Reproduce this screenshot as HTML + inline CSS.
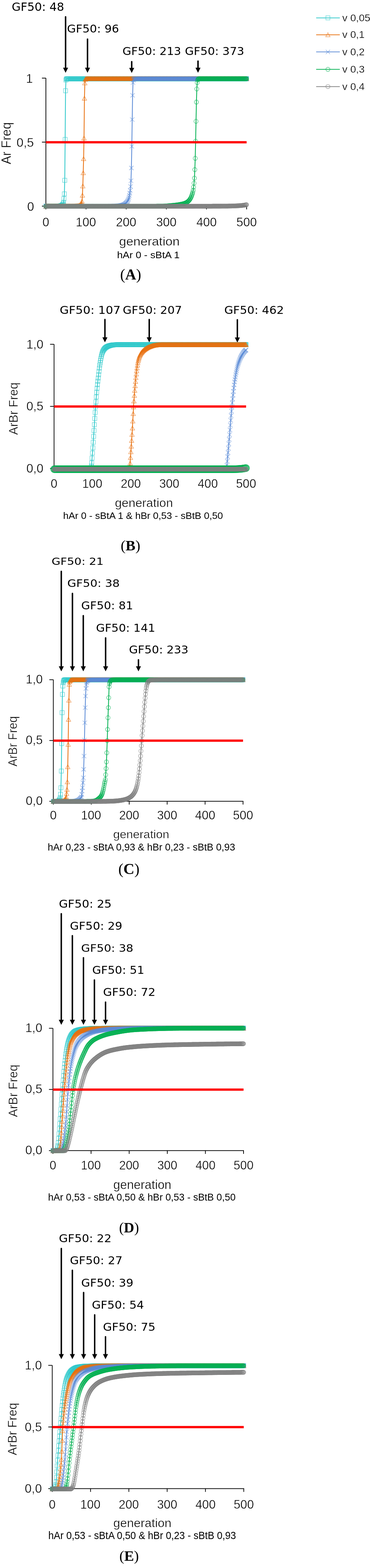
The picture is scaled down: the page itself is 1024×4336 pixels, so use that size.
<!DOCTYPE html>
<html><head><meta charset="utf-8"><title>GF50 figure</title><style>html,body{margin:0;padding:0;background:#fff;}svg{display:block;}</style></head><body>
<svg width="1024" height="4336" viewBox="0 0 1024 4336">
<defs>
<marker id="mSq" markerUnits="userSpaceOnUse" markerWidth="20" markerHeight="20" refX="10" refY="10" overflow="visible"><rect x="4.3" y="4.3" width="11.4" height="11.4" fill="none" stroke="#2dc8ca" stroke-width="1.6" stroke-opacity="0.62"/></marker>
<marker id="mTri" markerUnits="userSpaceOnUse" markerWidth="20" markerHeight="20" refX="10" refY="10" overflow="visible"><polygon points="10,4.2 16.1,15.4 3.9000000000000004,15.4" fill="none" stroke="#e8700f" stroke-width="1.6" stroke-opacity="0.62"/></marker>
<marker id="mX" markerUnits="userSpaceOnUse" markerWidth="20" markerHeight="20" refX="10" refY="10" overflow="visible"><path d="M4.1000000000000005,4.1000000000000005 L15.9,15.9 M15.9,4.1000000000000005 L4.1000000000000005,15.9" fill="none" stroke="#5a8ad6" stroke-width="1.6" stroke-opacity="0.62"/></marker>
<marker id="mCir" markerUnits="userSpaceOnUse" markerWidth="20" markerHeight="20" refX="10" refY="10" overflow="visible"><circle cx="10" cy="10" r="5.7" fill="none" stroke="#00b050" stroke-width="1.6" stroke-opacity="0.62"/></marker>
<marker id="mCirB" markerUnits="userSpaceOnUse" markerWidth="30" markerHeight="30" refX="15" refY="15" overflow="visible"><circle cx="15" cy="15" r="9.6" fill="none" stroke="#00b050" stroke-width="1.6" stroke-opacity="0.62"/></marker>
<marker id="mCirG" markerUnits="userSpaceOnUse" markerWidth="20" markerHeight="20" refX="10" refY="10" overflow="visible"><circle cx="10" cy="10" r="5.7" fill="none" stroke="#808080" stroke-width="1.6" stroke-opacity="0.62"/></marker>
</defs>
<rect width="1024" height="4336" fill="#fff"/>
<polyline points="875,49.4 907.5,49.4 940.5,49.4" fill="none" stroke="#2dc8ca" stroke-width="2" marker-mid="url(#mSq)"/>
<text x="947.26" y="58.60" font-family="'Liberation Sans', Arial, sans-serif" font-size="28.5" fill="#000" stroke="#fff" stroke-width="0.35">v 0,05</text>
<polyline points="875,96.2 907.5,96.2 940.5,96.2" fill="none" stroke="#e8700f" stroke-width="2" marker-mid="url(#mTri)"/>
<text x="947.26" y="105.40" font-family="'Liberation Sans', Arial, sans-serif" font-size="28.5" fill="#000" stroke="#fff" stroke-width="0.35">v 0,1</text>
<polyline points="875,143.6 907.5,143.6 940.5,143.6" fill="none" stroke="#5a8ad6" stroke-width="2" marker-mid="url(#mX)"/>
<text x="947.26" y="152.80" font-family="'Liberation Sans', Arial, sans-serif" font-size="28.5" fill="#000" stroke="#fff" stroke-width="0.35">v 0,2</text>
<polyline points="875,191.8 907.5,191.8 940.5,191.8" fill="none" stroke="#00b050" stroke-width="2" marker-mid="url(#mCir)"/>
<text x="947.26" y="201.00" font-family="'Liberation Sans', Arial, sans-serif" font-size="28.5" fill="#000" stroke="#fff" stroke-width="0.35">v 0,3</text>
<polyline points="875,239.4 907.5,239.4 940.5,239.4" fill="none" stroke="#808080" stroke-width="2" marker-mid="url(#mCirG)"/>
<text x="947.26" y="248.60" font-family="'Liberation Sans', Arial, sans-serif" font-size="28.5" fill="#000" stroke="#fff" stroke-width="0.35">v 0,4</text>
<line x1="127.00" y1="216.00" x2="127.00" y2="570.00" stroke="#000" stroke-width="2"/>
<line x1="116.00" y1="570.00" x2="127.00" y2="570.00" stroke="#000" stroke-width="2"/>
<line x1="116.00" y1="393.00" x2="127.00" y2="393.00" stroke="#000" stroke-width="2"/>
<line x1="116.00" y1="216.00" x2="127.00" y2="216.00" stroke="#000" stroke-width="2"/>
<line x1="126.00" y1="570.00" x2="683.50" y2="570.00" stroke="#000" stroke-width="2"/>
<line x1="127.00" y1="570.00" x2="127.00" y2="579.00" stroke="#000" stroke-width="2"/>
<line x1="238.10" y1="570.00" x2="238.10" y2="579.00" stroke="#000" stroke-width="2"/>
<line x1="349.20" y1="570.00" x2="349.20" y2="579.00" stroke="#000" stroke-width="2"/>
<line x1="460.30" y1="570.00" x2="460.30" y2="579.00" stroke="#000" stroke-width="2"/>
<line x1="571.40" y1="570.00" x2="571.40" y2="579.00" stroke="#000" stroke-width="2"/>
<line x1="682.50" y1="570.00" x2="682.50" y2="579.00" stroke="#000" stroke-width="2"/>
<text x="75.36" y="582.81" font-family="'Liberation Sans', Arial, sans-serif" font-size="35.94" textLength="19.19" lengthAdjust="spacingAndGlyphs" fill="#000" stroke="#fff" stroke-width="0.6">0</text>
<text x="45.75" y="405.81" font-family="'Liberation Sans', Arial, sans-serif" font-size="35.94" textLength="47.97" lengthAdjust="spacingAndGlyphs" fill="#000" stroke="#fff" stroke-width="0.6">0,5</text>
<text x="71.70" y="228.81" font-family="'Liberation Sans', Arial, sans-serif" font-size="35.94" textLength="19.19" lengthAdjust="spacingAndGlyphs" fill="#000" stroke="#fff" stroke-width="0.6">1</text>
<text x="117.62" y="626.26" font-family="'Liberation Sans', Arial, sans-serif" font-size="35.94" textLength="18.79" lengthAdjust="spacingAndGlyphs" fill="#000" stroke="#fff" stroke-width="0.6">0</text>
<text x="209.38" y="626.26" font-family="'Liberation Sans', Arial, sans-serif" font-size="35.94" textLength="56.37" lengthAdjust="spacingAndGlyphs" fill="#000" stroke="#fff" stroke-width="0.6">100</text>
<text x="320.90" y="626.26" font-family="'Liberation Sans', Arial, sans-serif" font-size="35.94" textLength="56.37" lengthAdjust="spacingAndGlyphs" fill="#000" stroke="#fff" stroke-width="0.6">200</text>
<text x="432.17" y="626.26" font-family="'Liberation Sans', Arial, sans-serif" font-size="35.94" textLength="56.37" lengthAdjust="spacingAndGlyphs" fill="#000" stroke="#fff" stroke-width="0.6">300</text>
<text x="543.53" y="626.26" font-family="'Liberation Sans', Arial, sans-serif" font-size="35.94" textLength="56.37" lengthAdjust="spacingAndGlyphs" fill="#000" stroke="#fff" stroke-width="0.6">400</text>
<text x="654.37" y="626.26" font-family="'Liberation Sans', Arial, sans-serif" font-size="35.94" textLength="56.37" lengthAdjust="spacingAndGlyphs" fill="#000" stroke="#fff" stroke-width="0.6">500</text>
<text transform="translate(30.26,454.20) rotate(-90)" x="0" y="0" font-family="'Liberation Sans', Arial, sans-serif" font-size="36.66" textLength="116.27" lengthAdjust="spacingAndGlyphs" fill="#000" stroke="#fff" stroke-width="0.6">Ar Freq</text>
<text x="329.45" y="678.76" font-family="'Liberation Sans', Arial, sans-serif" font-size="33.70" textLength="167.94" lengthAdjust="spacingAndGlyphs" fill="#000" stroke="#fff" stroke-width="0.6">generation</text>
<text x="324.04" y="713.70" font-family="'Liberation Sans', Arial, sans-serif" font-size="26.21" textLength="172.95" lengthAdjust="spacingAndGlyphs" fill="#000">hAr 0 - sBtA 1</text>
<text x="332.43" y="773.20" font-family="'Liberation Serif', 'Times New Roman', serif" font-size="41.97" fill="#000"><tspan font-weight="normal">(</tspan><tspan font-weight="bold">A</tspan><tspan font-weight="normal">)</tspan></text>
<text x="32.45" y="29.60" font-family="'DejaVu Sans', 'Liberation Sans', sans-serif" font-size="31.22" textLength="145.02" lengthAdjust="spacingAndGlyphs" fill="#000">GF50: 48</text>
<text x="185.46" y="90.00" font-family="'DejaVu Sans', 'Liberation Sans', sans-serif" font-size="30.54" textLength="143.94" lengthAdjust="spacingAndGlyphs" fill="#000">GF50: 96</text>
<text x="338.98" y="151.70" font-family="'DejaVu Sans', 'Liberation Sans', sans-serif" font-size="29.59" textLength="162.26" lengthAdjust="spacingAndGlyphs" fill="#000">GF50: 213</text>
<text x="511.76" y="151.70" font-family="'DejaVu Sans', 'Liberation Sans', sans-serif" font-size="29.59" textLength="164.21" lengthAdjust="spacingAndGlyphs" fill="#000">GF50: 373</text>
<line x1="181.50" y1="46.50" x2="181.50" y2="188.30" stroke="#000" stroke-width="4.0" stroke-linecap="round"/>
<polygon points="174.50,187.30 188.50,187.30 181.50,201.30" fill="#000"/>
<line x1="242.20" y1="108.20" x2="242.20" y2="188.30" stroke="#000" stroke-width="4.0" stroke-linecap="round"/>
<polygon points="235.20,187.30 249.20,187.30 242.20,201.30" fill="#000"/>
<line x1="364.50" y1="170.50" x2="364.50" y2="188.80" stroke="#000" stroke-width="4.0" stroke-linecap="round"/>
<polygon points="357.50,187.80 371.50,187.80 364.50,201.80" fill="#000"/>
<line x1="548.00" y1="169.00" x2="548.00" y2="188.30" stroke="#000" stroke-width="4.0" stroke-linecap="round"/>
<polygon points="541.00,187.30 555.00,187.30 548.00,201.30" fill="#000"/>
<polyline points="127.0,570.3 128.1,570.3 129.2,570.3 130.3,570.3 131.4,570.3 132.6,570.3 133.7,570.3 134.8,570.3 135.9,570.3 137.0,570.3 138.1,570.3 139.2,570.3 140.3,570.3 141.4,570.3 142.6,570.3 143.7,570.3 144.8,570.3 145.9,570.3 147.0,570.3 148.1,570.3 149.2,570.3 150.3,570.3 151.4,570.3 152.6,570.2 153.7,570.2 154.8,570.2 155.9,570.2 157.0,570.2 158.1,570.1 159.2,570.1 160.3,570.0 161.4,569.9 162.6,569.9 163.7,569.7 164.8,569.6 165.9,569.4 167.0,569.2 168.1,568.9 169.2,568.6 170.3,568.1 171.4,567.5 172.6,566.6 173.7,565.4 174.8,563.4 175.9,559.7 177.0,549.1 178.1,536.1 179.2,498.7 180.3,385.6 181.4,250.9 182.6,221.3 183.7,218.4 184.8,218.0 185.9,217.9 187.0,217.8 188.1,217.8 189.2,217.8 190.3,217.8 191.4,217.8 192.5,217.8 193.7,217.8 194.8,217.8 195.9,217.8 197.0,217.8 198.1,217.8 199.2,217.8 200.3,217.8 201.4,217.8 202.5,217.8 203.7,217.8 204.8,217.8 205.9,217.8 207.0,217.8 208.1,217.8 209.2,217.8 210.3,217.8 211.4,217.8 212.5,217.8 213.7,217.8 214.8,217.8 215.9,217.8 217.0,217.8 218.1,217.8 219.2,217.8 220.3,217.8 221.4,217.8 222.5,217.8 223.7,217.8 224.8,217.8 225.9,217.8 227.0,217.8 228.1,217.8 229.2,217.8 230.3,217.8 231.4,217.8 232.5,217.8 233.7,217.8 234.8,217.8 235.9,217.8 237.0,217.8 238.1,217.8 239.2,217.8 240.3,217.8 241.4,217.8 242.5,217.8 243.7,217.8 244.8,217.8 245.9,217.8 247.0,217.8 248.1,217.8 249.2,217.8 250.3,217.8 251.4,217.8 252.5,217.8 253.7,217.8 254.8,217.8 255.9,217.8 257.0,217.8 258.1,217.8 259.2,217.8 260.3,217.8 261.4,217.8 262.5,217.8 263.7,217.8 264.8,217.8 265.9,217.8 267.0,217.8 268.1,217.8 269.2,217.8 270.3,217.8 271.4,217.8 272.5,217.8 273.7,217.8 274.8,217.8 275.9,217.8 277.0,217.8 278.1,217.8 279.2,217.8 280.3,217.8 281.4,217.8 282.5,217.8 283.7,217.8 284.8,217.8 285.9,217.8 287.0,217.8 288.1,217.8 289.2,217.8 290.3,217.8 291.4,217.8 292.5,217.8 293.6,217.8 294.8,217.8 295.9,217.8 297.0,217.8 298.1,217.8 299.2,217.8 300.3,217.8 301.4,217.8 302.5,217.8 303.6,217.8 304.8,217.8 305.9,217.8 307.0,217.8 308.1,217.8 309.2,217.8 310.3,217.8 311.4,217.8 312.5,217.8 313.6,217.8 314.8,217.8 315.9,217.8 317.0,217.8 318.1,217.8 319.2,217.8 320.3,217.8 321.4,217.8 322.5,217.8 323.6,217.8 324.8,217.8 325.9,217.8 327.0,217.8 328.1,217.8 329.2,217.8 330.3,217.8 331.4,217.8 332.5,217.8 333.6,217.8 334.8,217.8 335.9,217.8 337.0,217.8 338.1,217.8 339.2,217.8 340.3,217.8 341.4,217.8 342.5,217.8 343.6,217.8 344.8,217.8 345.9,217.8 347.0,217.8 348.1,217.8 349.2,217.8 350.3,217.8 351.4,217.8 352.5,217.8 353.6,217.8 354.8,217.8 355.9,217.8 357.0,217.8 358.1,217.8 359.2,217.8 360.3,217.8 361.4,217.8 362.5,217.8 363.6,217.8 364.8,217.8 365.9,217.8 367.0,217.8 368.1,217.8 369.2,217.8 370.3,217.8 371.4,217.8 372.5,217.8 373.6,217.8 374.8,217.8 375.9,217.8 377.0,217.8 378.1,217.8 379.2,217.8 380.3,217.8 381.4,217.8 382.5,217.8 383.6,217.8 384.8,217.8 385.9,217.8 387.0,217.8 388.1,217.8 389.2,217.8 390.3,217.8 391.4,217.8 392.5,217.8 393.6,217.8 394.8,217.8 395.9,217.8 397.0,217.8 398.1,217.8 399.2,217.8 400.3,217.8 401.4,217.8 402.5,217.8 403.6,217.8 404.8,217.8 405.9,217.8 407.0,217.8 408.1,217.8 409.2,217.8 410.3,217.8 411.4,217.8 412.5,217.8 413.6,217.8 414.7,217.8 415.9,217.8 417.0,217.8 418.1,217.8 419.2,217.8 420.3,217.8 421.4,217.8 422.5,217.8 423.6,217.8 424.7,217.8 425.9,217.8 427.0,217.8 428.1,217.8 429.2,217.8 430.3,217.8 431.4,217.8 432.5,217.8 433.6,217.8 434.7,217.8 435.9,217.8 437.0,217.8 438.1,217.8 439.2,217.8 440.3,217.8 441.4,217.8 442.5,217.8 443.6,217.8 444.7,217.8 445.9,217.8 447.0,217.8 448.1,217.8 449.2,217.8 450.3,217.8 451.4,217.8 452.5,217.8 453.6,217.8 454.7,217.8 455.9,217.8 457.0,217.8 458.1,217.8 459.2,217.8 460.3,217.8 461.4,217.8 462.5,217.8 463.6,217.8 464.7,217.8 465.9,217.8 467.0,217.8 468.1,217.8 469.2,217.8 470.3,217.8 471.4,217.8 472.5,217.8 473.6,217.8 474.7,217.8 475.9,217.8 477.0,217.8 478.1,217.8 479.2,217.8 480.3,217.8 481.4,217.8 482.5,217.8 483.6,217.8 484.7,217.8 485.9,217.8 487.0,217.8 488.1,217.8 489.2,217.8 490.3,217.8 491.4,217.8 492.5,217.8 493.6,217.8 494.7,217.8 495.9,217.8 497.0,217.8 498.1,217.8 499.2,217.8 500.3,217.8 501.4,217.8 502.5,217.8 503.6,217.8 504.7,217.8 505.9,217.8 507.0,217.8 508.1,217.8 509.2,217.8 510.3,217.8 511.4,217.8 512.5,217.8 513.6,217.8 514.7,217.8 515.9,217.8 517.0,217.8 518.1,217.8 519.2,217.8 520.3,217.8 521.4,217.8 522.5,217.8 523.6,217.8 524.7,217.8 525.8,217.8 527.0,217.8 528.1,217.8 529.2,217.8 530.3,217.8 531.4,217.8 532.5,217.8 533.6,217.8 534.7,217.8 535.8,217.8 537.0,217.8 538.1,217.8 539.2,217.8 540.3,217.8 541.4,217.8 542.5,217.8 543.6,217.8 544.7,217.8 545.8,217.8 547.0,217.8 548.1,217.8 549.2,217.8 550.3,217.8 551.4,217.8 552.5,217.8 553.6,217.8 554.7,217.8 555.8,217.8 557.0,217.8 558.1,217.8 559.2,217.8 560.3,217.8 561.4,217.8 562.5,217.8 563.6,217.8 564.7,217.8 565.8,217.8 567.0,217.8 568.1,217.8 569.2,217.8 570.3,217.8 571.4,217.8 572.5,217.8 573.6,217.8 574.7,217.8 575.8,217.8 577.0,217.8 578.1,217.8 579.2,217.8 580.3,217.8 581.4,217.8 582.5,217.8 583.6,217.8 584.7,217.8 585.8,217.8 587.0,217.8 588.1,217.8 589.2,217.8 590.3,217.8 591.4,217.8 592.5,217.8 593.6,217.8 594.7,217.8 595.8,217.8 597.0,217.8 598.1,217.8 599.2,217.8 600.3,217.8 601.4,217.8 602.5,217.8 603.6,217.8 604.7,217.8 605.8,217.8 607.0,217.8 608.1,217.8 609.2,217.8 610.3,217.8 611.4,217.8 612.5,217.8 613.6,217.8 614.7,217.8 615.8,217.8 617.0,217.8 618.1,217.8 619.2,217.8 620.3,217.8 621.4,217.8 622.5,217.8 623.6,217.8 624.7,217.8 625.8,217.8 627.0,217.8 628.1,217.8 629.2,217.8 630.3,217.8 631.4,217.8 632.5,217.8 633.6,217.8 634.7,217.8 635.8,217.8 636.9,217.8 638.1,217.8 639.2,217.8 640.3,217.8 641.4,217.8 642.5,217.8 643.6,217.8 644.7,217.8 645.8,217.8 646.9,217.8 648.1,217.8 649.2,217.8 650.3,217.8 651.4,217.8 652.5,217.8 653.6,217.8 654.7,217.8 655.8,217.8 656.9,217.8 658.1,217.8 659.2,217.8 660.3,217.8 661.4,217.8 662.5,217.8 663.6,217.8 664.7,217.8 665.8,217.8 666.9,217.8 668.1,217.8 669.2,217.8 670.3,217.8 671.4,217.8 672.5,217.8 673.6,217.8 674.7,217.8 675.8,217.8 676.9,217.8 678.1,217.8 679.2,217.8 680.3,217.8 681.4,217.8 682.5,217.8" fill="none" stroke="#2dc8ca" stroke-width="2.2" stroke-linejoin="round" marker-start="url(#mSq)" marker-mid="url(#mSq)" marker-end="url(#mSq)"/>
<polyline points="127.0,570.3 128.1,570.3 129.2,570.3 130.3,570.3 131.4,570.3 132.6,570.3 133.7,570.3 134.8,570.3 135.9,570.3 137.0,570.3 138.1,570.3 139.2,570.3 140.3,570.3 141.4,570.3 142.6,570.3 143.7,570.3 144.8,570.3 145.9,570.3 147.0,570.3 148.1,570.3 149.2,570.3 150.3,570.3 151.4,570.3 152.6,570.3 153.7,570.3 154.8,570.3 155.9,570.3 157.0,570.3 158.1,570.3 159.2,570.3 160.3,570.3 161.4,570.3 162.6,570.3 163.7,570.3 164.8,570.3 165.9,570.3 167.0,570.3 168.1,570.3 169.2,570.3 170.3,570.3 171.4,570.3 172.6,570.3 173.7,570.3 174.8,570.3 175.9,570.3 177.0,570.3 178.1,570.3 179.2,570.3 180.3,570.3 181.4,570.3 182.6,570.3 183.7,570.3 184.8,570.3 185.9,570.3 187.0,570.3 188.1,570.3 189.2,570.3 190.3,570.3 191.4,570.3 192.5,570.3 193.7,570.2 194.8,570.2 195.9,570.2 197.0,570.2 198.1,570.2 199.2,570.2 200.3,570.2 201.4,570.2 202.5,570.1 203.7,570.1 204.8,570.1 205.9,570.0 207.0,570.0 208.1,570.0 209.2,569.9 210.3,569.8 211.4,569.8 212.5,569.7 213.7,569.6 214.8,569.5 215.9,569.3 217.0,569.1 218.1,568.9 219.2,568.6 220.3,568.1 221.4,567.6 222.5,566.8 223.7,565.7 224.8,564.1 225.9,561.4 227.0,556.2 228.1,540.0 229.2,514.3 230.3,477.9 231.4,438.9 232.5,381.7 233.7,271.7 234.8,229.4 235.9,219.6 237.0,218.3 238.1,218.0 239.2,217.9 240.3,217.9 241.4,217.8 242.5,217.8 243.7,217.8 244.8,217.8 245.9,217.8 247.0,217.8 248.1,217.8 249.2,217.8 250.3,217.8 251.4,217.8 252.5,217.8 253.7,217.8 254.8,217.8 255.9,217.8 257.0,217.8 258.1,217.8 259.2,217.8 260.3,217.8 261.4,217.8 262.5,217.8 263.7,217.8 264.8,217.8 265.9,217.8 267.0,217.8 268.1,217.8 269.2,217.8 270.3,217.8 271.4,217.8 272.5,217.8 273.7,217.8 274.8,217.8 275.9,217.8 277.0,217.8 278.1,217.8 279.2,217.8 280.3,217.8 281.4,217.8 282.5,217.8 283.7,217.8 284.8,217.8 285.9,217.8 287.0,217.8 288.1,217.8 289.2,217.8 290.3,217.8 291.4,217.8 292.5,217.8 293.6,217.8 294.8,217.8 295.9,217.8 297.0,217.8 298.1,217.8 299.2,217.8 300.3,217.8 301.4,217.8 302.5,217.8 303.6,217.8 304.8,217.8 305.9,217.8 307.0,217.8 308.1,217.8 309.2,217.8 310.3,217.8 311.4,217.8 312.5,217.8 313.6,217.8 314.8,217.8 315.9,217.8 317.0,217.8 318.1,217.8 319.2,217.8 320.3,217.8 321.4,217.8 322.5,217.8 323.6,217.8 324.8,217.8 325.9,217.8 327.0,217.8 328.1,217.8 329.2,217.8 330.3,217.8 331.4,217.8 332.5,217.8 333.6,217.8 334.8,217.8 335.9,217.8 337.0,217.8 338.1,217.8 339.2,217.8 340.3,217.8 341.4,217.8 342.5,217.8 343.6,217.8 344.8,217.8 345.9,217.8 347.0,217.8 348.1,217.8 349.2,217.8 350.3,217.8 351.4,217.8 352.5,217.8 353.6,217.8 354.8,217.8 355.9,217.8 357.0,217.8 358.1,217.8 359.2,217.8 360.3,217.8 361.4,217.8 362.5,217.8 363.6,217.8 364.8,217.8 365.9,217.8 367.0,217.8 368.1,217.8 369.2,217.8 370.3,217.8 371.4,217.8 372.5,217.8 373.6,217.8 374.8,217.8 375.9,217.8 377.0,217.8 378.1,217.8 379.2,217.8 380.3,217.8 381.4,217.8 382.5,217.8 383.6,217.8 384.8,217.8 385.9,217.8 387.0,217.8 388.1,217.8 389.2,217.8 390.3,217.8 391.4,217.8 392.5,217.8 393.6,217.8 394.8,217.8 395.9,217.8 397.0,217.8 398.1,217.8 399.2,217.8 400.3,217.8 401.4,217.8 402.5,217.8 403.6,217.8 404.8,217.8 405.9,217.8 407.0,217.8 408.1,217.8 409.2,217.8 410.3,217.8 411.4,217.8 412.5,217.8 413.6,217.8 414.7,217.8 415.9,217.8 417.0,217.8 418.1,217.8 419.2,217.8 420.3,217.8 421.4,217.8 422.5,217.8 423.6,217.8 424.7,217.8 425.9,217.8 427.0,217.8 428.1,217.8 429.2,217.8 430.3,217.8 431.4,217.8 432.5,217.8 433.6,217.8 434.7,217.8 435.9,217.8 437.0,217.8 438.1,217.8 439.2,217.8 440.3,217.8 441.4,217.8 442.5,217.8 443.6,217.8 444.7,217.8 445.9,217.8 447.0,217.8 448.1,217.8 449.2,217.8 450.3,217.8 451.4,217.8 452.5,217.8 453.6,217.8 454.7,217.8 455.9,217.8 457.0,217.8 458.1,217.8 459.2,217.8 460.3,217.8 461.4,217.8 462.5,217.8 463.6,217.8 464.7,217.8 465.9,217.8 467.0,217.8 468.1,217.8 469.2,217.8 470.3,217.8 471.4,217.8 472.5,217.8 473.6,217.8 474.7,217.8 475.9,217.8 477.0,217.8 478.1,217.8 479.2,217.8 480.3,217.8 481.4,217.8 482.5,217.8 483.6,217.8 484.7,217.8 485.9,217.8 487.0,217.8 488.1,217.8 489.2,217.8 490.3,217.8 491.4,217.8 492.5,217.8 493.6,217.8 494.7,217.8 495.9,217.8 497.0,217.8 498.1,217.8 499.2,217.8 500.3,217.8 501.4,217.8 502.5,217.8 503.6,217.8 504.7,217.8 505.9,217.8 507.0,217.8 508.1,217.8 509.2,217.8 510.3,217.8 511.4,217.8 512.5,217.8 513.6,217.8 514.7,217.8 515.9,217.8 517.0,217.8 518.1,217.8 519.2,217.8 520.3,217.8 521.4,217.8 522.5,217.8 523.6,217.8 524.7,217.8 525.8,217.8 527.0,217.8 528.1,217.8 529.2,217.8 530.3,217.8 531.4,217.8 532.5,217.8 533.6,217.8 534.7,217.8 535.8,217.8 537.0,217.8 538.1,217.8 539.2,217.8 540.3,217.8 541.4,217.8 542.5,217.8 543.6,217.8 544.7,217.8 545.8,217.8 547.0,217.8 548.1,217.8 549.2,217.8 550.3,217.8 551.4,217.8 552.5,217.8 553.6,217.8 554.7,217.8 555.8,217.8 557.0,217.8 558.1,217.8 559.2,217.8 560.3,217.8 561.4,217.8 562.5,217.8 563.6,217.8 564.7,217.8 565.8,217.8 567.0,217.8 568.1,217.8 569.2,217.8 570.3,217.8 571.4,217.8 572.5,217.8 573.6,217.8 574.7,217.8 575.8,217.8 577.0,217.8 578.1,217.8 579.2,217.8 580.3,217.8 581.4,217.8 582.5,217.8 583.6,217.8 584.7,217.8 585.8,217.8 587.0,217.8 588.1,217.8 589.2,217.8 590.3,217.8 591.4,217.8 592.5,217.8 593.6,217.8 594.7,217.8 595.8,217.8 597.0,217.8 598.1,217.8 599.2,217.8 600.3,217.8 601.4,217.8 602.5,217.8 603.6,217.8 604.7,217.8 605.8,217.8 607.0,217.8 608.1,217.8 609.2,217.8 610.3,217.8 611.4,217.8 612.5,217.8 613.6,217.8 614.7,217.8 615.8,217.8 617.0,217.8 618.1,217.8 619.2,217.8 620.3,217.8 621.4,217.8 622.5,217.8 623.6,217.8 624.7,217.8 625.8,217.8 627.0,217.8 628.1,217.8 629.2,217.8 630.3,217.8 631.4,217.8 632.5,217.8 633.6,217.8 634.7,217.8 635.8,217.8 636.9,217.8 638.1,217.8 639.2,217.8 640.3,217.8 641.4,217.8 642.5,217.8 643.6,217.8 644.7,217.8 645.8,217.8 646.9,217.8 648.1,217.8 649.2,217.8 650.3,217.8 651.4,217.8 652.5,217.8 653.6,217.8 654.7,217.8 655.8,217.8 656.9,217.8 658.1,217.8 659.2,217.8 660.3,217.8 661.4,217.8 662.5,217.8 663.6,217.8 664.7,217.8 665.8,217.8 666.9,217.8 668.1,217.8 669.2,217.8 670.3,217.8 671.4,217.8 672.5,217.8 673.6,217.8 674.7,217.8 675.8,217.8 676.9,217.8 678.1,217.8 679.2,217.8 680.3,217.8 681.4,217.8 682.5,217.8" fill="none" stroke="#e8700f" stroke-width="2.2" stroke-linejoin="round" marker-start="url(#mTri)" marker-mid="url(#mTri)" marker-end="url(#mTri)"/>
<polyline points="127.0,570.3 128.1,570.3 129.2,570.3 130.3,570.3 131.4,570.3 132.6,570.3 133.7,570.3 134.8,570.3 135.9,570.3 137.0,570.3 138.1,570.3 139.2,570.3 140.3,570.3 141.4,570.3 142.6,570.3 143.7,570.3 144.8,570.3 145.9,570.3 147.0,570.3 148.1,570.3 149.2,570.3 150.3,570.3 151.4,570.3 152.6,570.3 153.7,570.3 154.8,570.3 155.9,570.3 157.0,570.3 158.1,570.3 159.2,570.3 160.3,570.3 161.4,570.3 162.6,570.3 163.7,570.3 164.8,570.3 165.9,570.3 167.0,570.3 168.1,570.3 169.2,570.3 170.3,570.3 171.4,570.3 172.6,570.3 173.7,570.3 174.8,570.3 175.9,570.3 177.0,570.3 178.1,570.3 179.2,570.3 180.3,570.3 181.4,570.3 182.6,570.3 183.7,570.3 184.8,570.3 185.9,570.3 187.0,570.3 188.1,570.3 189.2,570.3 190.3,570.3 191.4,570.3 192.5,570.3 193.7,570.3 194.8,570.3 195.9,570.3 197.0,570.3 198.1,570.3 199.2,570.3 200.3,570.3 201.4,570.3 202.5,570.3 203.7,570.3 204.8,570.3 205.9,570.3 207.0,570.3 208.1,570.3 209.2,570.3 210.3,570.3 211.4,570.3 212.5,570.3 213.7,570.3 214.8,570.3 215.9,570.3 217.0,570.3 218.1,570.3 219.2,570.3 220.3,570.3 221.4,570.3 222.5,570.3 223.7,570.3 224.8,570.3 225.9,570.3 227.0,570.3 228.1,570.3 229.2,570.3 230.3,570.3 231.4,570.3 232.5,570.3 233.7,570.3 234.8,570.3 235.9,570.3 237.0,570.3 238.1,570.3 239.2,570.3 240.3,570.3 241.4,570.3 242.5,570.3 243.7,570.3 244.8,570.3 245.9,570.3 247.0,570.3 248.1,570.3 249.2,570.3 250.3,570.3 251.4,570.3 252.5,570.3 253.7,570.3 254.8,570.3 255.9,570.3 257.0,570.3 258.1,570.3 259.2,570.3 260.3,570.3 261.4,570.3 262.5,570.3 263.7,570.3 264.8,570.3 265.9,570.3 267.0,570.3 268.1,570.3 269.2,570.3 270.3,570.3 271.4,570.3 272.5,570.3 273.7,570.3 274.8,570.3 275.9,570.2 277.0,570.2 278.1,570.2 279.2,570.2 280.3,570.2 281.4,570.2 282.5,570.2 283.7,570.2 284.8,570.2 285.9,570.2 287.0,570.2 288.1,570.2 289.2,570.2 290.3,570.2 291.4,570.2 292.5,570.2 293.6,570.2 294.8,570.2 295.9,570.1 297.0,570.1 298.1,570.1 299.2,570.1 300.3,570.1 301.4,570.1 302.5,570.1 303.6,570.1 304.8,570.0 305.9,570.0 307.0,570.0 308.1,570.0 309.2,570.0 310.3,569.9 311.4,569.9 312.5,569.9 313.6,569.9 314.8,569.8 315.9,569.8 317.0,569.8 318.1,569.7 319.2,569.7 320.3,569.6 321.4,569.6 322.5,569.5 323.6,569.5 324.8,569.4 325.9,569.3 327.0,569.3 328.1,569.2 329.2,569.0 330.3,568.9 331.4,568.8 332.5,568.6 333.6,568.4 334.8,568.2 335.9,568.0 337.0,567.8 338.1,567.5 339.2,567.2 340.3,566.8 341.4,566.4 342.5,566.0 343.6,565.5 344.8,564.9 345.9,564.2 347.0,563.4 348.1,562.5 349.2,561.5 350.3,560.3 351.4,558.9 352.5,557.2 353.6,555.1 354.8,552.7 355.9,549.6 357.0,545.6 358.1,540.3 359.2,534.0 360.3,526.9 361.4,515.7 362.5,499.8 363.6,464.5 364.8,404.6 365.9,330.6 367.0,263.6 368.1,228.4 369.2,221.8 370.3,219.6 371.4,218.6 372.5,218.1 373.6,218.0 374.8,217.9 375.9,217.9 377.0,217.8 378.1,217.8 379.2,217.8 380.3,217.8 381.4,217.8 382.5,217.8 383.6,217.8 384.8,217.8 385.9,217.8 387.0,217.8 388.1,217.8 389.2,217.8 390.3,217.8 391.4,217.8 392.5,217.8 393.6,217.8 394.8,217.8 395.9,217.8 397.0,217.8 398.1,217.8 399.2,217.8 400.3,217.8 401.4,217.8 402.5,217.8 403.6,217.8 404.8,217.8 405.9,217.8 407.0,217.8 408.1,217.8 409.2,217.8 410.3,217.8 411.4,217.8 412.5,217.8 413.6,217.8 414.7,217.8 415.9,217.8 417.0,217.8 418.1,217.8 419.2,217.8 420.3,217.8 421.4,217.8 422.5,217.8 423.6,217.8 424.7,217.8 425.9,217.8 427.0,217.8 428.1,217.8 429.2,217.8 430.3,217.8 431.4,217.8 432.5,217.8 433.6,217.8 434.7,217.8 435.9,217.8 437.0,217.8 438.1,217.8 439.2,217.8 440.3,217.8 441.4,217.8 442.5,217.8 443.6,217.8 444.7,217.8 445.9,217.8 447.0,217.8 448.1,217.8 449.2,217.8 450.3,217.8 451.4,217.8 452.5,217.8 453.6,217.8 454.7,217.8 455.9,217.8 457.0,217.8 458.1,217.8 459.2,217.8 460.3,217.8 461.4,217.8 462.5,217.8 463.6,217.8 464.7,217.8 465.9,217.8 467.0,217.8 468.1,217.8 469.2,217.8 470.3,217.8 471.4,217.8 472.5,217.8 473.6,217.8 474.7,217.8 475.9,217.8 477.0,217.8 478.1,217.8 479.2,217.8 480.3,217.8 481.4,217.8 482.5,217.8 483.6,217.8 484.7,217.8 485.9,217.8 487.0,217.8 488.1,217.8 489.2,217.8 490.3,217.8 491.4,217.8 492.5,217.8 493.6,217.8 494.7,217.8 495.9,217.8 497.0,217.8 498.1,217.8 499.2,217.8 500.3,217.8 501.4,217.8 502.5,217.8 503.6,217.8 504.7,217.8 505.9,217.8 507.0,217.8 508.1,217.8 509.2,217.8 510.3,217.8 511.4,217.8 512.5,217.8 513.6,217.8 514.7,217.8 515.9,217.8 517.0,217.8 518.1,217.8 519.2,217.8 520.3,217.8 521.4,217.8 522.5,217.8 523.6,217.8 524.7,217.8 525.8,217.8 527.0,217.8 528.1,217.8 529.2,217.8 530.3,217.8 531.4,217.8 532.5,217.8 533.6,217.8 534.7,217.8 535.8,217.8 537.0,217.8 538.1,217.8 539.2,217.8 540.3,217.8 541.4,217.8 542.5,217.8 543.6,217.8 544.7,217.8 545.8,217.8 547.0,217.8 548.1,217.8 549.2,217.8 550.3,217.8 551.4,217.8 552.5,217.8 553.6,217.8 554.7,217.8 555.8,217.8 557.0,217.8 558.1,217.8 559.2,217.8 560.3,217.8 561.4,217.8 562.5,217.8 563.6,217.8 564.7,217.8 565.8,217.8 567.0,217.8 568.1,217.8 569.2,217.8 570.3,217.8 571.4,217.8 572.5,217.8 573.6,217.8 574.7,217.8 575.8,217.8 577.0,217.8 578.1,217.8 579.2,217.8 580.3,217.8 581.4,217.8 582.5,217.8 583.6,217.8 584.7,217.8 585.8,217.8 587.0,217.8 588.1,217.8 589.2,217.8 590.3,217.8 591.4,217.8 592.5,217.8 593.6,217.8 594.7,217.8 595.8,217.8 597.0,217.8 598.1,217.8 599.2,217.8 600.3,217.8 601.4,217.8 602.5,217.8 603.6,217.8 604.7,217.8 605.8,217.8 607.0,217.8 608.1,217.8 609.2,217.8 610.3,217.8 611.4,217.8 612.5,217.8 613.6,217.8 614.7,217.8 615.8,217.8 617.0,217.8 618.1,217.8 619.2,217.8 620.3,217.8 621.4,217.8 622.5,217.8 623.6,217.8 624.7,217.8 625.8,217.8 627.0,217.8 628.1,217.8 629.2,217.8 630.3,217.8 631.4,217.8 632.5,217.8 633.6,217.8 634.7,217.8 635.8,217.8 636.9,217.8 638.1,217.8 639.2,217.8 640.3,217.8 641.4,217.8 642.5,217.8 643.6,217.8 644.7,217.8 645.8,217.8 646.9,217.8 648.1,217.8 649.2,217.8 650.3,217.8 651.4,217.8 652.5,217.8 653.6,217.8 654.7,217.8 655.8,217.8 656.9,217.8 658.1,217.8 659.2,217.8 660.3,217.8 661.4,217.8 662.5,217.8 663.6,217.8 664.7,217.8 665.8,217.8 666.9,217.8 668.1,217.8 669.2,217.8 670.3,217.8 671.4,217.8 672.5,217.8 673.6,217.8 674.7,217.8 675.8,217.8 676.9,217.8 678.1,217.8 679.2,217.8 680.3,217.8 681.4,217.8 682.5,217.8" fill="none" stroke="#5a8ad6" stroke-width="2.2" stroke-linejoin="round" marker-start="url(#mX)" marker-mid="url(#mX)" marker-end="url(#mX)"/>
<polyline points="127.0,570.3 128.1,570.3 129.2,570.3 130.3,570.3 131.4,570.3 132.6,570.3 133.7,570.3 134.8,570.3 135.9,570.3 137.0,570.3 138.1,570.3 139.2,570.3 140.3,570.3 141.4,570.3 142.6,570.3 143.7,570.3 144.8,570.3 145.9,570.3 147.0,570.3 148.1,570.3 149.2,570.3 150.3,570.3 151.4,570.3 152.6,570.3 153.7,570.3 154.8,570.3 155.9,570.3 157.0,570.3 158.1,570.3 159.2,570.3 160.3,570.3 161.4,570.3 162.6,570.3 163.7,570.3 164.8,570.3 165.9,570.3 167.0,570.3 168.1,570.3 169.2,570.3 170.3,570.3 171.4,570.3 172.6,570.3 173.7,570.3 174.8,570.3 175.9,570.3 177.0,570.3 178.1,570.3 179.2,570.3 180.3,570.3 181.4,570.3 182.6,570.3 183.7,570.3 184.8,570.3 185.9,570.3 187.0,570.3 188.1,570.3 189.2,570.3 190.3,570.3 191.4,570.3 192.5,570.3 193.7,570.3 194.8,570.3 195.9,570.3 197.0,570.3 198.1,570.3 199.2,570.3 200.3,570.3 201.4,570.3 202.5,570.3 203.7,570.3 204.8,570.3 205.9,570.3 207.0,570.3 208.1,570.3 209.2,570.3 210.3,570.3 211.4,570.3 212.5,570.3 213.7,570.3 214.8,570.3 215.9,570.3 217.0,570.3 218.1,570.3 219.2,570.3 220.3,570.3 221.4,570.3 222.5,570.3 223.7,570.3 224.8,570.3 225.9,570.3 227.0,570.3 228.1,570.3 229.2,570.3 230.3,570.3 231.4,570.3 232.5,570.3 233.7,570.3 234.8,570.3 235.9,570.3 237.0,570.3 238.1,570.3 239.2,570.3 240.3,570.3 241.4,570.3 242.5,570.3 243.7,570.3 244.8,570.3 245.9,570.3 247.0,570.3 248.1,570.3 249.2,570.3 250.3,570.3 251.4,570.3 252.5,570.3 253.7,570.3 254.8,570.3 255.9,570.3 257.0,570.3 258.1,570.3 259.2,570.3 260.3,570.3 261.4,570.3 262.5,570.3 263.7,570.3 264.8,570.3 265.9,570.3 267.0,570.3 268.1,570.3 269.2,570.3 270.3,570.3 271.4,570.3 272.5,570.3 273.7,570.3 274.8,570.3 275.9,570.3 277.0,570.3 278.1,570.3 279.2,570.3 280.3,570.3 281.4,570.3 282.5,570.3 283.7,570.3 284.8,570.3 285.9,570.3 287.0,570.3 288.1,570.3 289.2,570.3 290.3,570.3 291.4,570.3 292.5,570.3 293.6,570.3 294.8,570.3 295.9,570.3 297.0,570.3 298.1,570.3 299.2,570.3 300.3,570.3 301.4,570.3 302.5,570.3 303.6,570.3 304.8,570.3 305.9,570.3 307.0,570.3 308.1,570.3 309.2,570.3 310.3,570.3 311.4,570.3 312.5,570.3 313.6,570.3 314.8,570.3 315.9,570.3 317.0,570.3 318.1,570.3 319.2,570.3 320.3,570.3 321.4,570.3 322.5,570.3 323.6,570.3 324.8,570.3 325.9,570.3 327.0,570.3 328.1,570.3 329.2,570.3 330.3,570.3 331.4,570.3 332.5,570.3 333.6,570.3 334.8,570.3 335.9,570.3 337.0,570.3 338.1,570.3 339.2,570.3 340.3,570.3 341.4,570.3 342.5,570.3 343.6,570.3 344.8,570.3 345.9,570.3 347.0,570.3 348.1,570.3 349.2,570.3 350.3,570.3 351.4,570.3 352.5,570.3 353.6,570.3 354.8,570.3 355.9,570.3 357.0,570.3 358.1,570.3 359.2,570.3 360.3,570.3 361.4,570.3 362.5,570.3 363.6,570.3 364.8,570.3 365.9,570.3 367.0,570.3 368.1,570.3 369.2,570.3 370.3,570.3 371.4,570.3 372.5,570.3 373.6,570.3 374.8,570.3 375.9,570.3 377.0,570.3 378.1,570.3 379.2,570.3 380.3,570.3 381.4,570.3 382.5,570.3 383.6,570.3 384.8,570.3 385.9,570.3 387.0,570.3 388.1,570.3 389.2,570.3 390.3,570.3 391.4,570.3 392.5,570.3 393.6,570.3 394.8,570.3 395.9,570.3 397.0,570.3 398.1,570.3 399.2,570.3 400.3,570.3 401.4,570.2 402.5,570.2 403.6,570.2 404.8,570.2 405.9,570.2 407.0,570.2 408.1,570.2 409.2,570.2 410.3,570.2 411.4,570.2 412.5,570.2 413.6,570.2 414.7,570.2 415.9,570.2 417.0,570.2 418.1,570.2 419.2,570.2 420.3,570.2 421.4,570.2 422.5,570.2 423.6,570.2 424.7,570.2 425.9,570.2 427.0,570.2 428.1,570.2 429.2,570.2 430.3,570.2 431.4,570.2 432.5,570.2 433.6,570.1 434.7,570.1 435.9,570.1 437.0,570.1 438.1,570.1 439.2,570.1 440.3,570.1 441.4,570.1 442.5,570.1 443.6,570.1 444.7,570.1 445.9,570.0 447.0,570.0 448.1,570.0 449.2,570.0 450.3,569.9 451.4,569.9 452.5,569.9 453.6,569.8 454.7,569.8 455.9,569.7 457.0,569.7 458.1,569.6 459.2,569.5 460.3,569.5 461.4,569.4 462.5,569.3 463.6,569.2 464.7,569.1 465.9,569.0 467.0,568.9 468.1,568.8 469.2,568.7 470.3,568.6 471.4,568.5 472.5,568.4 473.6,568.3 474.7,568.2 475.9,568.1 477.0,568.0 478.1,567.9 479.2,567.8 480.3,567.7 481.4,567.6 482.5,567.5 483.6,567.4 484.7,567.2 485.9,567.1 487.0,567.0 488.1,566.9 489.2,566.7 490.3,566.6 491.4,566.4 492.5,566.2 493.6,566.1 494.7,565.9 495.9,565.7 497.0,565.5 498.1,565.3 499.2,565.1 500.3,564.9 501.4,564.7 502.5,564.5 503.6,564.3 504.7,564.1 505.9,563.8 507.0,563.5 508.1,563.2 509.2,562.9 510.3,562.5 511.4,562.1 512.5,561.7 513.6,561.2 514.7,560.7 515.9,560.1 517.0,559.5 518.1,558.8 519.2,558.0 520.3,557.1 521.4,556.2 522.5,555.1 523.6,553.9 524.7,552.5 525.8,550.9 527.0,549.1 528.1,547.0 529.2,544.5 530.3,541.7 531.4,538.6 532.5,535.3 533.6,531.5 534.7,526.2 535.8,517.4 537.0,506.5 538.1,492.7 539.2,469.1 540.3,437.8 541.4,390.5 542.5,335.5 543.6,282.3 544.7,246.0 545.8,228.4 547.0,221.3 548.1,218.8 549.2,218.2 550.3,218.0 551.4,217.9 552.5,217.8 553.6,217.8 554.7,217.8 555.8,217.8 557.0,217.8 558.1,217.8 559.2,217.8 560.3,217.8 561.4,217.8 562.5,217.8 563.6,217.8 564.7,217.8 565.8,217.8 567.0,217.8 568.1,217.8 569.2,217.8 570.3,217.8 571.4,217.8 572.5,217.8 573.6,217.8 574.7,217.8 575.8,217.8 577.0,217.8 578.1,217.8 579.2,217.8 580.3,217.8 581.4,217.8 582.5,217.8 583.6,217.8 584.7,217.8 585.8,217.8 587.0,217.8 588.1,217.8 589.2,217.8 590.3,217.8 591.4,217.8 592.5,217.8 593.6,217.8 594.7,217.8 595.8,217.8 597.0,217.8 598.1,217.8 599.2,217.8 600.3,217.8 601.4,217.8 602.5,217.8 603.6,217.8 604.7,217.8 605.8,217.8 607.0,217.8 608.1,217.8 609.2,217.8 610.3,217.8 611.4,217.8 612.5,217.8 613.6,217.8 614.7,217.8 615.8,217.8 617.0,217.8 618.1,217.8 619.2,217.8 620.3,217.8 621.4,217.8 622.5,217.8 623.6,217.8 624.7,217.8 625.8,217.8 627.0,217.8 628.1,217.8 629.2,217.8 630.3,217.8 631.4,217.8 632.5,217.8 633.6,217.8 634.7,217.8 635.8,217.8 636.9,217.8 638.1,217.8 639.2,217.8 640.3,217.8 641.4,217.8 642.5,217.8 643.6,217.8 644.7,217.8 645.8,217.8 646.9,217.8 648.1,217.8 649.2,217.8 650.3,217.8 651.4,217.8 652.5,217.8 653.6,217.8 654.7,217.8 655.8,217.8 656.9,217.8 658.1,217.8 659.2,217.8 660.3,217.8 661.4,217.8 662.5,217.8 663.6,217.8 664.7,217.8 665.8,217.8 666.9,217.8 668.1,217.8 669.2,217.8 670.3,217.8 671.4,217.8 672.5,217.8 673.6,217.8 674.7,217.8 675.8,217.8 676.9,217.8 678.1,217.8 679.2,217.8 680.3,217.8 681.4,217.8 682.5,217.8" fill="none" stroke="#00b050" stroke-width="2.2" stroke-linejoin="round" marker-start="url(#mCir)" marker-mid="url(#mCir)" marker-end="url(#mCir)"/>
<polyline points="127.0,570.3 128.1,570.3 129.2,570.3 130.3,570.3 131.4,570.3 132.6,570.3 133.7,570.3 134.8,570.3 135.9,570.3 137.0,570.3 138.1,570.3 139.2,570.3 140.3,570.3 141.4,570.3 142.6,570.3 143.7,570.3 144.8,570.3 145.9,570.3 147.0,570.3 148.1,570.3 149.2,570.3 150.3,570.3 151.4,570.3 152.6,570.3 153.7,570.3 154.8,570.3 155.9,570.3 157.0,570.3 158.1,570.3 159.2,570.3 160.3,570.3 161.4,570.3 162.6,570.3 163.7,570.3 164.8,570.3 165.9,570.3 167.0,570.3 168.1,570.3 169.2,570.3 170.3,570.3 171.4,570.3 172.6,570.3 173.7,570.3 174.8,570.3 175.9,570.3 177.0,570.3 178.1,570.3 179.2,570.3 180.3,570.3 181.4,570.3 182.6,570.3 183.7,570.3 184.8,570.3 185.9,570.3 187.0,570.3 188.1,570.3 189.2,570.3 190.3,570.3 191.4,570.3 192.5,570.3 193.7,570.3 194.8,570.3 195.9,570.3 197.0,570.3 198.1,570.3 199.2,570.3 200.3,570.3 201.4,570.3 202.5,570.3 203.7,570.3 204.8,570.3 205.9,570.3 207.0,570.3 208.1,570.3 209.2,570.3 210.3,570.3 211.4,570.3 212.5,570.3 213.7,570.3 214.8,570.3 215.9,570.3 217.0,570.3 218.1,570.3 219.2,570.3 220.3,570.3 221.4,570.3 222.5,570.3 223.7,570.3 224.8,570.3 225.9,570.3 227.0,570.3 228.1,570.3 229.2,570.3 230.3,570.3 231.4,570.3 232.5,570.3 233.7,570.3 234.8,570.3 235.9,570.3 237.0,570.3 238.1,570.3 239.2,570.3 240.3,570.3 241.4,570.3 242.5,570.3 243.7,570.3 244.8,570.3 245.9,570.3 247.0,570.3 248.1,570.3 249.2,570.3 250.3,570.3 251.4,570.3 252.5,570.3 253.7,570.3 254.8,570.3 255.9,570.3 257.0,570.3 258.1,570.3 259.2,570.3 260.3,570.3 261.4,570.3 262.5,570.3 263.7,570.3 264.8,570.3 265.9,570.3 267.0,570.3 268.1,570.3 269.2,570.3 270.3,570.3 271.4,570.3 272.5,570.3 273.7,570.3 274.8,570.3 275.9,570.3 277.0,570.3 278.1,570.3 279.2,570.3 280.3,570.3 281.4,570.3 282.5,570.3 283.7,570.3 284.8,570.3 285.9,570.3 287.0,570.3 288.1,570.3 289.2,570.3 290.3,570.3 291.4,570.3 292.5,570.3 293.6,570.3 294.8,570.3 295.9,570.3 297.0,570.3 298.1,570.3 299.2,570.3 300.3,570.3 301.4,570.3 302.5,570.3 303.6,570.3 304.8,570.3 305.9,570.3 307.0,570.3 308.1,570.3 309.2,570.3 310.3,570.3 311.4,570.3 312.5,570.3 313.6,570.3 314.8,570.3 315.9,570.3 317.0,570.3 318.1,570.3 319.2,570.3 320.3,570.3 321.4,570.3 322.5,570.3 323.6,570.3 324.8,570.3 325.9,570.3 327.0,570.3 328.1,570.3 329.2,570.3 330.3,570.3 331.4,570.3 332.5,570.3 333.6,570.3 334.8,570.3 335.9,570.3 337.0,570.3 338.1,570.3 339.2,570.3 340.3,570.3 341.4,570.3 342.5,570.3 343.6,570.3 344.8,570.3 345.9,570.3 347.0,570.3 348.1,570.3 349.2,570.3 350.3,570.3 351.4,570.3 352.5,570.3 353.6,570.3 354.8,570.3 355.9,570.3 357.0,570.3 358.1,570.3 359.2,570.3 360.3,570.3 361.4,570.3 362.5,570.3 363.6,570.3 364.8,570.3 365.9,570.3 367.0,570.3 368.1,570.3 369.2,570.3 370.3,570.3 371.4,570.3 372.5,570.3 373.6,570.3 374.8,570.3 375.9,570.3 377.0,570.3 378.1,570.3 379.2,570.3 380.3,570.3 381.4,570.3 382.5,570.3 383.6,570.3 384.8,570.3 385.9,570.3 387.0,570.3 388.1,570.3 389.2,570.3 390.3,570.3 391.4,570.3 392.5,570.3 393.6,570.3 394.8,570.3 395.9,570.3 397.0,570.3 398.1,570.3 399.2,570.3 400.3,570.3 401.4,570.3 402.5,570.3 403.6,570.3 404.8,570.3 405.9,570.3 407.0,570.3 408.1,570.3 409.2,570.3 410.3,570.3 411.4,570.3 412.5,570.3 413.6,570.3 414.7,570.3 415.9,570.3 417.0,570.3 418.1,570.3 419.2,570.3 420.3,570.3 421.4,570.3 422.5,570.3 423.6,570.3 424.7,570.3 425.9,570.3 427.0,570.3 428.1,570.3 429.2,570.3 430.3,570.3 431.4,570.3 432.5,570.3 433.6,570.3 434.7,570.3 435.9,570.3 437.0,570.3 438.1,570.3 439.2,570.3 440.3,570.3 441.4,570.3 442.5,570.3 443.6,570.3 444.7,570.3 445.9,570.3 447.0,570.3 448.1,570.3 449.2,570.3 450.3,570.3 451.4,570.3 452.5,570.3 453.6,570.3 454.7,570.3 455.9,570.3 457.0,570.3 458.1,570.3 459.2,570.3 460.3,570.3 461.4,570.3 462.5,570.3 463.6,570.3 464.7,570.3 465.9,570.3 467.0,570.3 468.1,570.3 469.2,570.3 470.3,570.3 471.4,570.3 472.5,570.3 473.6,570.3 474.7,570.3 475.9,570.3 477.0,570.3 478.1,570.3 479.2,570.3 480.3,570.3 481.4,570.3 482.5,570.3 483.6,570.3 484.7,570.3 485.9,570.3 487.0,570.3 488.1,570.3 489.2,570.3 490.3,570.3 491.4,570.3 492.5,570.3 493.6,570.3 494.7,570.3 495.9,570.3 497.0,570.3 498.1,570.3 499.2,570.3 500.3,570.3 501.4,570.3 502.5,570.3 503.6,570.3 504.7,570.3 505.9,570.3 507.0,570.3 508.1,570.3 509.2,570.3 510.3,570.3 511.4,570.3 512.5,570.3 513.6,570.3 514.7,570.3 515.9,570.3 517.0,570.3 518.1,570.3 519.2,570.3 520.3,570.3 521.4,570.3 522.5,570.3 523.6,570.3 524.7,570.3 525.8,570.3 527.0,570.3 528.1,570.3 529.2,570.3 530.3,570.3 531.4,570.3 532.5,570.3 533.6,570.3 534.7,570.3 535.8,570.3 537.0,570.2 538.1,570.2 539.2,570.2 540.3,570.2 541.4,570.2 542.5,570.2 543.6,570.2 544.7,570.2 545.8,570.2 547.0,570.2 548.1,570.2 549.2,570.2 550.3,570.2 551.4,570.2 552.5,570.2 553.6,570.2 554.7,570.2 555.8,570.2 557.0,570.2 558.1,570.2 559.2,570.2 560.3,570.2 561.4,570.2 562.5,570.2 563.6,570.2 564.7,570.2 565.8,570.2 567.0,570.2 568.1,570.2 569.2,570.2 570.3,570.2 571.4,570.2 572.5,570.2 573.6,570.2 574.7,570.2 575.8,570.2 577.0,570.2 578.1,570.2 579.2,570.2 580.3,570.2 581.4,570.2 582.5,570.2 583.6,570.2 584.7,570.2 585.8,570.2 587.0,570.2 588.1,570.1 589.2,570.1 590.3,570.1 591.4,570.1 592.5,570.1 593.6,570.1 594.7,570.1 595.8,570.1 597.0,570.1 598.1,570.1 599.2,570.1 600.3,570.1 601.4,570.1 602.5,570.1 603.6,570.1 604.7,570.1 605.8,570.1 607.0,570.1 608.1,570.1 609.2,570.1 610.3,570.1 611.4,570.0 612.5,570.0 613.6,570.0 614.7,570.0 615.8,570.0 617.0,570.0 618.1,570.0 619.2,570.0 620.3,570.0 621.4,570.0 622.5,570.0 623.6,570.0 624.7,569.9 625.8,569.9 627.0,569.9 628.1,569.9 629.2,569.9 630.3,569.9 631.4,569.9 632.5,569.8 633.6,569.8 634.7,569.8 635.8,569.8 636.9,569.8 638.1,569.7 639.2,569.7 640.3,569.7 641.4,569.7 642.5,569.6 643.6,569.6 644.7,569.6 645.8,569.5 646.9,569.5 648.1,569.5 649.2,569.4 650.3,569.4 651.4,569.3 652.5,569.3 653.6,569.2 654.7,569.2 655.8,569.1 656.9,569.1 658.1,569.0 659.2,569.0 660.3,568.9 661.4,568.8 662.5,568.7 663.6,568.7 664.7,568.6 665.8,568.5 666.9,568.4 668.1,568.3 669.2,568.2 670.3,568.1 671.4,567.9 672.5,567.8 673.6,567.7 674.7,567.5 675.8,567.3 676.9,567.2 678.1,567.0 679.2,566.8 680.3,566.5 681.4,566.3 682.5,566.1" fill="none" stroke="#808080" stroke-width="2.2" stroke-linejoin="round" marker-start="url(#mCirG)" marker-mid="url(#mCirG)" marker-end="url(#mCirG)"/>
<line x1="127.00" y1="393.40" x2="682.50" y2="393.40" stroke="#ff0000" stroke-width="6.2"/>
<line x1="149.60" y1="952.00" x2="149.60" y2="1295.50" stroke="#000" stroke-width="2"/>
<line x1="138.60" y1="1295.50" x2="149.60" y2="1295.50" stroke="#000" stroke-width="2"/>
<line x1="138.60" y1="1123.75" x2="149.60" y2="1123.75" stroke="#000" stroke-width="2"/>
<line x1="138.60" y1="952.00" x2="149.60" y2="952.00" stroke="#000" stroke-width="2"/>
<line x1="148.60" y1="1295.50" x2="682.10" y2="1295.50" stroke="#000" stroke-width="2"/>
<line x1="149.60" y1="1295.50" x2="149.60" y2="1304.50" stroke="#000" stroke-width="2"/>
<line x1="255.90" y1="1295.50" x2="255.90" y2="1304.50" stroke="#000" stroke-width="2"/>
<line x1="362.20" y1="1295.50" x2="362.20" y2="1304.50" stroke="#000" stroke-width="2"/>
<line x1="468.50" y1="1295.50" x2="468.50" y2="1304.50" stroke="#000" stroke-width="2"/>
<line x1="574.80" y1="1295.50" x2="574.80" y2="1304.50" stroke="#000" stroke-width="2"/>
<line x1="681.10" y1="1295.50" x2="681.10" y2="1304.50" stroke="#000" stroke-width="2"/>
<text x="72.90" y="1307.16" font-family="'Liberation Sans', Arial, sans-serif" font-size="35.51" textLength="47.40" lengthAdjust="spacingAndGlyphs" fill="#000" stroke="#fff" stroke-width="0.6">0,0</text>
<text x="72.90" y="1135.41" font-family="'Liberation Sans', Arial, sans-serif" font-size="35.51" textLength="47.40" lengthAdjust="spacingAndGlyphs" fill="#000" stroke="#fff" stroke-width="0.6">0,5</text>
<text x="72.90" y="963.66" font-family="'Liberation Sans', Arial, sans-serif" font-size="35.51" textLength="47.40" lengthAdjust="spacingAndGlyphs" fill="#000" stroke="#fff" stroke-width="0.6">1,0</text>
<text x="140.34" y="1349.26" font-family="'Liberation Sans', Arial, sans-serif" font-size="35.51" textLength="18.57" lengthAdjust="spacingAndGlyphs" fill="#000" stroke="#fff" stroke-width="0.6">0</text>
<text x="227.52" y="1349.26" font-family="'Liberation Sans', Arial, sans-serif" font-size="35.51" textLength="55.70" lengthAdjust="spacingAndGlyphs" fill="#000" stroke="#fff" stroke-width="0.6">100</text>
<text x="334.24" y="1349.26" font-family="'Liberation Sans', Arial, sans-serif" font-size="35.51" textLength="55.70" lengthAdjust="spacingAndGlyphs" fill="#000" stroke="#fff" stroke-width="0.6">200</text>
<text x="440.71" y="1349.26" font-family="'Liberation Sans', Arial, sans-serif" font-size="35.51" textLength="55.70" lengthAdjust="spacingAndGlyphs" fill="#000" stroke="#fff" stroke-width="0.6">300</text>
<text x="547.26" y="1349.26" font-family="'Liberation Sans', Arial, sans-serif" font-size="35.51" textLength="55.70" lengthAdjust="spacingAndGlyphs" fill="#000" stroke="#fff" stroke-width="0.6">400</text>
<text x="653.31" y="1349.26" font-family="'Liberation Sans', Arial, sans-serif" font-size="35.51" textLength="55.70" lengthAdjust="spacingAndGlyphs" fill="#000" stroke="#fff" stroke-width="0.6">500</text>
<text transform="translate(48.66,1202.50) rotate(-90)" x="0" y="0" font-family="'Liberation Sans', Arial, sans-serif" font-size="35.79" textLength="144.98" lengthAdjust="spacingAndGlyphs" fill="#000" stroke="#fff" stroke-width="0.6">ArBr Freq</text>
<text x="317.91" y="1402.26" font-family="'Liberation Sans', Arial, sans-serif" font-size="33.51" textLength="160.67" lengthAdjust="spacingAndGlyphs" fill="#000" stroke="#fff" stroke-width="0.6">generation</text>
<text x="174.84" y="1435.20" font-family="'Liberation Sans', Arial, sans-serif" font-size="24.97" textLength="442.12" lengthAdjust="spacingAndGlyphs" fill="#000">hAr 0 - sBtA 1 &amp; hBr 0,53 -  sBtB 0,50</text>
<text x="333.94" y="1522.20" font-family="'Liberation Serif', 'Times New Roman', serif" font-size="40.76" fill="#000"><tspan font-weight="normal">(</tspan><tspan font-weight="bold">B</tspan><tspan font-weight="normal">)</tspan></text>
<text x="165.21" y="868.00" font-family="'DejaVu Sans', 'Liberation Sans', sans-serif" font-size="30.68" textLength="168.59" lengthAdjust="spacingAndGlyphs" fill="#000">GF50: 107</text>
<text x="339.76" y="868.00" font-family="'DejaVu Sans', 'Liberation Sans', sans-serif" font-size="30.68" textLength="163.97" lengthAdjust="spacingAndGlyphs" fill="#000">GF50: 207</text>
<text x="620.65" y="868.00" font-family="'DejaVu Sans', 'Liberation Sans', sans-serif" font-size="30.68" textLength="165.18" lengthAdjust="spacingAndGlyphs" fill="#000">GF50: 462</text>
<line x1="290.40" y1="883.50" x2="290.40" y2="933.80" stroke="#000" stroke-width="4.0" stroke-linecap="round"/>
<polygon points="283.40,932.80 297.40,932.80 290.40,946.80" fill="#000"/>
<line x1="413.00" y1="883.50" x2="413.00" y2="933.80" stroke="#000" stroke-width="4.0" stroke-linecap="round"/>
<polygon points="406.00,932.80 420.00,932.80 413.00,946.80" fill="#000"/>
<line x1="656.90" y1="884.30" x2="656.90" y2="934.30" stroke="#000" stroke-width="4.0" stroke-linecap="round"/>
<polygon points="649.90,933.30 663.90,933.30 656.90,947.30" fill="#000"/>
<polyline points="149.6,1297.5 150.7,1297.5 151.7,1297.5 152.8,1297.5 153.9,1297.5 154.9,1297.5 156.0,1297.5 157.0,1297.5 158.1,1297.5 159.2,1297.5 160.2,1297.5 161.3,1297.5 162.4,1297.5 163.4,1297.5 164.5,1297.5 165.5,1297.5 166.6,1297.5 167.7,1297.5 168.7,1297.5 169.8,1297.5 170.9,1297.5 171.9,1297.5 173.0,1297.5 174.0,1297.5 175.1,1297.5 176.2,1297.5 177.2,1297.5 178.3,1297.5 179.4,1297.5 180.4,1297.5 181.5,1297.5 182.6,1297.5 183.6,1297.5 184.7,1297.5 185.7,1297.5 186.8,1297.5 187.9,1297.5 188.9,1297.5 190.0,1297.5 191.1,1297.5 192.1,1297.5 193.2,1297.5 194.2,1297.5 195.3,1297.5 196.4,1297.5 197.4,1297.5 198.5,1297.5 199.6,1297.5 200.6,1297.5 201.7,1297.5 202.8,1297.5 203.8,1297.5 204.9,1297.5 205.9,1297.5 207.0,1297.5 208.1,1297.5 209.1,1297.5 210.2,1297.5 211.3,1297.5 212.3,1297.5 213.4,1297.5 214.4,1297.5 215.5,1297.5 216.6,1297.5 217.6,1297.5 218.7,1297.5 219.8,1297.5 220.8,1297.5 221.9,1297.5 222.9,1297.5 224.0,1297.5 225.1,1297.5 226.1,1297.5 227.2,1297.5 228.3,1297.5 229.3,1297.5 230.4,1297.5 231.5,1297.5 232.5,1297.5 233.6,1297.5 234.6,1297.5 235.7,1297.5 236.8,1297.5 237.8,1297.5 238.9,1297.5 240.0,1297.5 241.0,1297.5 242.1,1297.5 243.1,1297.5 244.2,1297.5 245.3,1297.5 246.3,1297.5 247.4,1297.5 248.5,1297.5 249.5,1297.5 250.6,1297.5 251.6,1294.7 252.7,1288.9 253.8,1279.8 254.8,1266.7 255.9,1252.7 257.0,1238.4 258.0,1222.9 259.1,1206.8 260.2,1190.7 261.2,1174.2 262.3,1157.2 263.3,1140.6 264.4,1125.2 265.5,1111.1 266.5,1097.6 267.6,1085.0 268.7,1073.6 269.7,1063.4 270.8,1054.2 271.8,1045.3 272.9,1036.2 274.0,1026.9 275.0,1017.9 276.1,1009.8 277.2,1002.8 278.2,996.5 279.3,990.9 280.3,985.7 281.4,981.0 282.5,977.0 283.5,974.0 284.6,971.5 285.7,969.4 286.7,967.6 287.8,966.1 288.9,964.7 289.9,963.5 291.0,962.4 292.0,961.5 293.1,960.6 294.2,959.9 295.2,959.3 296.3,958.7 297.4,958.1 298.4,957.6 299.5,957.2 300.5,956.8 301.6,956.4 302.7,956.1 303.7,955.8 304.8,955.5 305.9,955.2 306.9,954.9 308.0,954.7 309.0,954.5 310.1,954.3 311.2,954.1 312.2,953.9 313.3,953.8 314.4,953.7 315.4,953.6 316.5,953.5 317.6,953.5 318.6,953.4 319.7,953.3 320.7,953.3 321.8,953.2 322.9,953.2 323.9,953.1 325.0,953.1 326.1,953.1 327.1,953.0 328.2,953.0 329.2,953.0 330.3,953.0 331.4,953.0 332.4,953.0 333.5,953.0 334.6,953.0 335.6,953.0 336.7,953.0 337.8,953.0 338.8,953.0 339.9,953.0 340.9,953.0 342.0,953.0 343.1,953.0 344.1,953.0 345.2,953.0 346.3,953.0 347.3,953.0 348.4,953.0 349.4,953.0 350.5,953.0 351.6,953.0 352.6,953.0 353.7,953.0 354.8,953.0 355.8,953.0 356.9,953.0 357.9,953.0 359.0,953.0 360.1,953.0 361.1,953.0 362.2,953.0 363.3,953.0 364.3,953.0 365.4,953.0 366.5,953.0 367.5,953.0 368.6,953.0 369.6,953.0 370.7,953.0 371.8,953.0 372.8,953.0 373.9,953.0 375.0,953.0 376.0,953.0 377.1,953.0 378.1,953.0 379.2,953.0 380.3,953.0 381.3,953.0 382.4,953.0 383.5,953.0 384.5,953.0 385.6,953.0 386.6,953.0 387.7,953.0 388.8,953.0 389.8,953.0 390.9,953.0 392.0,953.0 393.0,953.0 394.1,953.0 395.2,953.0 396.2,953.0 397.3,953.0 398.3,953.0 399.4,953.0 400.5,953.0 401.5,953.0 402.6,953.0 403.7,953.0 404.7,953.0 405.8,953.0 406.8,953.0 407.9,953.0 409.0,953.0 410.0,953.0 411.1,953.0 412.2,953.0 413.2,953.0 414.3,953.0 415.4,953.0 416.4,953.0 417.5,953.0 418.5,953.0 419.6,953.0 420.7,953.0 421.7,953.0 422.8,953.0 423.9,953.0 424.9,953.0 426.0,953.0 427.0,953.0 428.1,953.0 429.2,953.0 430.2,953.0 431.3,953.0 432.4,953.0 433.4,953.0 434.5,953.0 435.5,953.0 436.6,953.0 437.7,953.0 438.7,953.0 439.8,953.0 440.9,953.0 441.9,953.0 443.0,953.0 444.1,953.0 445.1,953.0 446.2,953.0 447.2,953.0 448.3,953.0 449.4,953.0 450.4,953.0 451.5,953.0 452.6,953.0 453.6,953.0 454.7,953.0 455.7,953.0 456.8,953.0 457.9,953.0 458.9,953.0 460.0,953.0 461.1,953.0 462.1,953.0 463.2,953.0 464.2,953.0 465.3,953.0 466.4,953.0 467.4,953.0 468.5,953.0 469.6,953.0 470.6,953.0 471.7,953.0 472.8,953.0 473.8,953.0 474.9,953.0 475.9,953.0 477.0,953.0 478.1,953.0 479.1,953.0 480.2,953.0 481.3,953.0 482.3,953.0 483.4,953.0 484.4,953.0 485.5,953.0 486.6,953.0 487.6,953.0 488.7,953.0 489.8,953.0 490.8,953.0 491.9,953.0 492.9,953.0 494.0,953.0 495.1,953.0 496.1,953.0 497.2,953.0 498.3,953.0 499.3,953.0 500.4,953.0 501.5,953.0 502.5,953.0 503.6,953.0 504.6,953.0 505.7,953.0 506.8,953.0 507.8,953.0 508.9,953.0 510.0,953.0 511.0,953.0 512.1,953.0 513.1,953.0 514.2,953.0 515.3,953.0 516.3,953.0 517.4,953.0 518.5,953.0 519.5,953.0 520.6,953.0 521.6,953.0 522.7,953.0 523.8,953.0 524.8,953.0 525.9,953.0 527.0,953.0 528.0,953.0 529.1,953.0 530.2,953.0 531.2,953.0 532.3,953.0 533.3,953.0 534.4,953.0 535.5,953.0 536.5,953.0 537.6,953.0 538.7,953.0 539.7,953.0 540.8,953.0 541.8,953.0 542.9,953.0 544.0,953.0 545.0,953.0 546.1,953.0 547.2,953.0 548.2,953.0 549.3,953.0 550.4,953.0 551.4,953.0 552.5,953.0 553.5,953.0 554.6,953.0 555.7,953.0 556.7,953.0 557.8,953.0 558.9,953.0 559.9,953.0 561.0,953.0 562.0,953.0 563.1,953.0 564.2,953.0 565.2,953.0 566.3,953.0 567.4,953.0 568.4,953.0 569.5,953.0 570.5,953.0 571.6,953.0 572.7,953.0 573.7,953.0 574.8,953.0 575.9,953.0 576.9,953.0 578.0,953.0 579.1,953.0 580.1,953.0 581.2,953.0 582.2,953.0 583.3,953.0 584.4,953.0 585.4,953.0 586.5,953.0 587.6,953.0 588.6,953.0 589.7,953.0 590.7,953.0 591.8,953.0 592.9,953.0 593.9,953.0 595.0,953.0 596.1,953.0 597.1,953.0 598.2,953.0 599.2,953.0 600.3,953.0 601.4,953.0 602.4,953.0 603.5,953.0 604.6,953.0 605.6,953.0 606.7,953.0 607.8,953.0 608.8,953.0 609.9,953.0 610.9,953.0 612.0,953.0 613.1,953.0 614.1,953.0 615.2,953.0 616.3,953.0 617.3,953.0 618.4,953.0 619.4,953.0 620.5,953.0 621.6,953.0 622.6,953.0 623.7,953.0 624.8,953.0 625.8,953.0 626.9,953.0 627.9,953.0 629.0,953.0 630.1,953.0 631.1,953.0 632.2,953.0 633.3,953.0 634.3,953.0 635.4,953.0 636.5,953.0 637.5,953.0 638.6,953.0 639.6,953.0 640.7,953.0 641.8,953.0 642.8,953.0 643.9,953.0 645.0,953.0 646.0,953.0 647.1,953.0 648.1,953.0 649.2,953.0 650.3,953.0 651.3,953.0 652.4,953.0 653.5,953.0 654.5,953.0 655.6,953.0 656.7,953.0 657.7,953.0 658.8,953.0 659.8,953.0 660.9,953.0 662.0,953.0 663.0,953.0 664.1,953.0 665.2,953.0 666.2,953.0 667.3,953.0 668.3,953.0 669.4,953.0 670.5,953.0 671.5,953.0 672.6,953.0 673.7,953.0 674.7,953.0 675.8,953.0 676.8,953.0 677.9,953.0 679.0,953.0 680.0,953.0 681.1,953.0" fill="none" stroke="#2dc8ca" stroke-width="2.2" stroke-linejoin="round" marker-start="url(#mSq)" marker-mid="url(#mSq)" marker-end="url(#mSq)"/>
<polyline points="149.6,1297.5 150.7,1297.5 151.7,1297.5 152.8,1297.5 153.9,1297.5 154.9,1297.5 156.0,1297.5 157.0,1297.5 158.1,1297.5 159.2,1297.5 160.2,1297.5 161.3,1297.5 162.4,1297.5 163.4,1297.5 164.5,1297.5 165.5,1297.5 166.6,1297.5 167.7,1297.5 168.7,1297.5 169.8,1297.5 170.9,1297.5 171.9,1297.5 173.0,1297.5 174.0,1297.5 175.1,1297.5 176.2,1297.5 177.2,1297.5 178.3,1297.5 179.4,1297.5 180.4,1297.5 181.5,1297.5 182.6,1297.5 183.6,1297.5 184.7,1297.5 185.7,1297.5 186.8,1297.5 187.9,1297.5 188.9,1297.5 190.0,1297.5 191.1,1297.5 192.1,1297.5 193.2,1297.5 194.2,1297.5 195.3,1297.5 196.4,1297.5 197.4,1297.5 198.5,1297.5 199.6,1297.5 200.6,1297.5 201.7,1297.5 202.8,1297.5 203.8,1297.5 204.9,1297.5 205.9,1297.5 207.0,1297.5 208.1,1297.5 209.1,1297.5 210.2,1297.5 211.3,1297.5 212.3,1297.5 213.4,1297.5 214.4,1297.5 215.5,1297.5 216.6,1297.5 217.6,1297.5 218.7,1297.5 219.8,1297.5 220.8,1297.5 221.9,1297.5 222.9,1297.5 224.0,1297.5 225.1,1297.5 226.1,1297.5 227.2,1297.5 228.3,1297.5 229.3,1297.5 230.4,1297.5 231.5,1297.5 232.5,1297.5 233.6,1297.5 234.6,1297.5 235.7,1297.5 236.8,1297.5 237.8,1297.5 238.9,1297.5 240.0,1297.5 241.0,1297.5 242.1,1297.5 243.1,1297.5 244.2,1297.5 245.3,1297.5 246.3,1297.5 247.4,1297.5 248.5,1297.5 249.5,1297.5 250.6,1297.5 251.6,1297.5 252.7,1297.5 253.8,1297.5 254.8,1297.5 255.9,1297.5 257.0,1297.5 258.0,1297.5 259.1,1297.5 260.2,1297.5 261.2,1297.5 262.3,1297.5 263.3,1297.5 264.4,1297.5 265.5,1297.5 266.5,1297.5 267.6,1297.5 268.7,1297.5 269.7,1297.5 270.8,1297.5 271.8,1297.5 272.9,1297.5 274.0,1297.5 275.0,1297.5 276.1,1297.5 277.2,1297.5 278.2,1297.5 279.3,1297.5 280.3,1297.5 281.4,1297.5 282.5,1297.5 283.5,1297.5 284.6,1297.5 285.7,1297.5 286.7,1297.5 287.8,1297.5 288.9,1297.5 289.9,1297.5 291.0,1297.5 292.0,1297.5 293.1,1297.5 294.2,1297.5 295.2,1297.5 296.3,1297.5 297.4,1297.5 298.4,1297.5 299.5,1297.5 300.5,1297.5 301.6,1297.5 302.7,1297.5 303.7,1297.5 304.8,1297.5 305.9,1297.5 306.9,1297.5 308.0,1297.5 309.0,1297.5 310.1,1297.5 311.2,1297.5 312.2,1297.5 313.3,1297.5 314.4,1297.5 315.4,1297.5 316.5,1297.5 317.6,1297.5 318.6,1297.5 319.7,1297.5 320.7,1297.5 321.8,1297.5 322.9,1297.5 323.9,1297.5 325.0,1297.5 326.1,1297.5 327.1,1297.5 328.2,1297.5 329.2,1297.5 330.3,1297.5 331.4,1297.5 332.4,1297.5 333.5,1297.5 334.6,1297.5 335.6,1297.5 336.7,1297.5 337.8,1297.5 338.8,1297.5 339.9,1297.5 340.9,1297.5 342.0,1297.5 343.1,1297.5 344.1,1297.5 345.2,1297.5 346.3,1297.5 347.3,1297.5 348.4,1297.5 349.4,1297.5 350.5,1297.5 351.6,1297.5 352.6,1297.5 353.7,1297.5 354.8,1297.5 355.8,1297.5 356.9,1297.5 357.9,1295.4 359.0,1290.6 360.1,1280.8 361.1,1265.4 362.2,1249.3 363.3,1234.0 364.3,1218.0 365.4,1201.3 366.5,1183.8 367.5,1164.4 368.6,1143.9 369.6,1125.2 370.7,1108.9 371.8,1093.6 372.8,1079.5 373.9,1066.7 375.0,1055.0 376.0,1044.1 377.1,1034.2 378.1,1025.3 379.2,1017.2 380.3,1009.7 381.3,1003.1 382.4,997.8 383.5,993.5 384.5,989.7 385.6,986.4 386.6,983.6 387.7,981.2 388.8,979.3 389.8,977.5 390.9,975.9 392.0,974.5 393.0,973.2 394.1,972.0 395.2,970.9 396.2,969.9 397.3,968.9 398.3,967.9 399.4,967.0 400.5,966.2 401.5,965.4 402.6,964.7 403.7,964.0 404.7,963.3 405.8,962.7 406.8,962.1 407.9,961.5 409.0,960.9 410.0,960.4 411.1,959.9 412.2,959.4 413.2,959.0 414.3,958.6 415.4,958.2 416.4,957.8 417.5,957.4 418.5,957.1 419.6,956.7 420.7,956.4 421.7,956.1 422.8,955.8 423.9,955.5 424.9,955.3 426.0,955.1 427.0,954.9 428.1,954.7 429.2,954.6 430.2,954.4 431.3,954.3 432.4,954.1 433.4,954.0 434.5,953.9 435.5,953.8 436.6,953.6 437.7,953.5 438.7,953.4 439.8,953.3 440.9,953.2 441.9,953.2 443.0,953.1 444.1,953.1 445.1,953.0 446.2,953.0 447.2,953.0 448.3,953.0 449.4,953.0 450.4,953.0 451.5,953.0 452.6,953.0 453.6,953.0 454.7,953.0 455.7,953.0 456.8,953.0 457.9,953.0 458.9,953.0 460.0,953.0 461.1,953.0 462.1,953.0 463.2,953.0 464.2,953.0 465.3,953.0 466.4,953.0 467.4,953.0 468.5,953.0 469.6,953.0 470.6,953.0 471.7,953.0 472.8,953.0 473.8,953.0 474.9,953.0 475.9,953.0 477.0,953.0 478.1,953.0 479.1,953.0 480.2,953.0 481.3,953.0 482.3,953.0 483.4,953.0 484.4,953.0 485.5,953.0 486.6,953.0 487.6,953.0 488.7,953.0 489.8,953.0 490.8,953.0 491.9,953.0 492.9,953.0 494.0,953.0 495.1,953.0 496.1,953.0 497.2,953.0 498.3,953.0 499.3,953.0 500.4,953.0 501.5,953.0 502.5,953.0 503.6,953.0 504.6,953.0 505.7,953.0 506.8,953.0 507.8,953.0 508.9,953.0 510.0,953.0 511.0,953.0 512.1,953.0 513.1,953.0 514.2,953.0 515.3,953.0 516.3,953.0 517.4,953.0 518.5,953.0 519.5,953.0 520.6,953.0 521.6,953.0 522.7,953.0 523.8,953.0 524.8,953.0 525.9,953.0 527.0,953.0 528.0,953.0 529.1,953.0 530.2,953.0 531.2,953.0 532.3,953.0 533.3,953.0 534.4,953.0 535.5,953.0 536.5,953.0 537.6,953.0 538.7,953.0 539.7,953.0 540.8,953.0 541.8,953.0 542.9,953.0 544.0,953.0 545.0,953.0 546.1,953.0 547.2,953.0 548.2,953.0 549.3,953.0 550.4,953.0 551.4,953.0 552.5,953.0 553.5,953.0 554.6,953.0 555.7,953.0 556.7,953.0 557.8,953.0 558.9,953.0 559.9,953.0 561.0,953.0 562.0,953.0 563.1,953.0 564.2,953.0 565.2,953.0 566.3,953.0 567.4,953.0 568.4,953.0 569.5,953.0 570.5,953.0 571.6,953.0 572.7,953.0 573.7,953.0 574.8,953.0 575.9,953.0 576.9,953.0 578.0,953.0 579.1,953.0 580.1,953.0 581.2,953.0 582.2,953.0 583.3,953.0 584.4,953.0 585.4,953.0 586.5,953.0 587.6,953.0 588.6,953.0 589.7,953.0 590.7,953.0 591.8,953.0 592.9,953.0 593.9,953.0 595.0,953.0 596.1,953.0 597.1,953.0 598.2,953.0 599.2,953.0 600.3,953.0 601.4,953.0 602.4,953.0 603.5,953.0 604.6,953.0 605.6,953.0 606.7,953.0 607.8,953.0 608.8,953.0 609.9,953.0 610.9,953.0 612.0,953.0 613.1,953.0 614.1,953.0 615.2,953.0 616.3,953.0 617.3,953.0 618.4,953.0 619.4,953.0 620.5,953.0 621.6,953.0 622.6,953.0 623.7,953.0 624.8,953.0 625.8,953.0 626.9,953.0 627.9,953.0 629.0,953.0 630.1,953.0 631.1,953.0 632.2,953.0 633.3,953.0 634.3,953.0 635.4,953.0 636.5,953.0 637.5,953.0 638.6,953.0 639.6,953.0 640.7,953.0 641.8,953.0 642.8,953.0 643.9,953.0 645.0,953.0 646.0,953.0 647.1,953.0 648.1,953.0 649.2,953.0 650.3,953.0 651.3,953.0 652.4,953.0 653.5,953.0 654.5,953.0 655.6,953.0 656.7,953.0 657.7,953.0 658.8,953.0 659.8,953.0 660.9,953.0 662.0,953.0 663.0,953.0 664.1,953.0 665.2,953.0 666.2,953.0 667.3,953.0 668.3,953.0 669.4,953.0 670.5,953.0 671.5,953.0 672.6,953.0 673.7,953.0 674.7,953.0 675.8,953.0 676.8,953.0 677.9,953.0 679.0,953.0 680.0,953.0 681.1,953.0" fill="none" stroke="#e8700f" stroke-width="2.2" stroke-linejoin="round" marker-start="url(#mTri)" marker-mid="url(#mTri)" marker-end="url(#mTri)"/>
<polyline points="149.6,1297.5 150.7,1297.5 151.7,1297.5 152.8,1297.5 153.9,1297.5 154.9,1297.5 156.0,1297.5 157.0,1297.5 158.1,1297.5 159.2,1297.5 160.2,1297.5 161.3,1297.5 162.4,1297.5 163.4,1297.5 164.5,1297.5 165.5,1297.5 166.6,1297.5 167.7,1297.5 168.7,1297.5 169.8,1297.5 170.9,1297.5 171.9,1297.5 173.0,1297.5 174.0,1297.5 175.1,1297.5 176.2,1297.5 177.2,1297.5 178.3,1297.5 179.4,1297.5 180.4,1297.5 181.5,1297.5 182.6,1297.5 183.6,1297.5 184.7,1297.5 185.7,1297.5 186.8,1297.5 187.9,1297.5 188.9,1297.5 190.0,1297.5 191.1,1297.5 192.1,1297.5 193.2,1297.5 194.2,1297.5 195.3,1297.5 196.4,1297.5 197.4,1297.5 198.5,1297.5 199.6,1297.5 200.6,1297.5 201.7,1297.5 202.8,1297.5 203.8,1297.5 204.9,1297.5 205.9,1297.5 207.0,1297.5 208.1,1297.5 209.1,1297.5 210.2,1297.5 211.3,1297.5 212.3,1297.5 213.4,1297.5 214.4,1297.5 215.5,1297.5 216.6,1297.5 217.6,1297.5 218.7,1297.5 219.8,1297.5 220.8,1297.5 221.9,1297.5 222.9,1297.5 224.0,1297.5 225.1,1297.5 226.1,1297.5 227.2,1297.5 228.3,1297.5 229.3,1297.5 230.4,1297.5 231.5,1297.5 232.5,1297.5 233.6,1297.5 234.6,1297.5 235.7,1297.5 236.8,1297.5 237.8,1297.5 238.9,1297.5 240.0,1297.5 241.0,1297.5 242.1,1297.5 243.1,1297.5 244.2,1297.5 245.3,1297.5 246.3,1297.5 247.4,1297.5 248.5,1297.5 249.5,1297.5 250.6,1297.5 251.6,1297.5 252.7,1297.5 253.8,1297.5 254.8,1297.5 255.9,1297.5 257.0,1297.5 258.0,1297.5 259.1,1297.5 260.2,1297.5 261.2,1297.5 262.3,1297.5 263.3,1297.5 264.4,1297.5 265.5,1297.5 266.5,1297.5 267.6,1297.5 268.7,1297.5 269.7,1297.5 270.8,1297.5 271.8,1297.5 272.9,1297.5 274.0,1297.5 275.0,1297.5 276.1,1297.5 277.2,1297.5 278.2,1297.5 279.3,1297.5 280.3,1297.5 281.4,1297.5 282.5,1297.5 283.5,1297.5 284.6,1297.5 285.7,1297.5 286.7,1297.5 287.8,1297.5 288.9,1297.5 289.9,1297.5 291.0,1297.5 292.0,1297.5 293.1,1297.5 294.2,1297.5 295.2,1297.5 296.3,1297.5 297.4,1297.5 298.4,1297.5 299.5,1297.5 300.5,1297.5 301.6,1297.5 302.7,1297.5 303.7,1297.5 304.8,1297.5 305.9,1297.5 306.9,1297.5 308.0,1297.5 309.0,1297.5 310.1,1297.5 311.2,1297.5 312.2,1297.5 313.3,1297.5 314.4,1297.5 315.4,1297.5 316.5,1297.5 317.6,1297.5 318.6,1297.5 319.7,1297.5 320.7,1297.5 321.8,1297.5 322.9,1297.5 323.9,1297.5 325.0,1297.5 326.1,1297.5 327.1,1297.5 328.2,1297.5 329.2,1297.5 330.3,1297.5 331.4,1297.5 332.4,1297.5 333.5,1297.5 334.6,1297.5 335.6,1297.5 336.7,1297.5 337.8,1297.5 338.8,1297.5 339.9,1297.5 340.9,1297.5 342.0,1297.5 343.1,1297.5 344.1,1297.5 345.2,1297.5 346.3,1297.5 347.3,1297.5 348.4,1297.5 349.4,1297.5 350.5,1297.5 351.6,1297.5 352.6,1297.5 353.7,1297.5 354.8,1297.5 355.8,1297.5 356.9,1297.5 357.9,1297.5 359.0,1297.5 360.1,1297.5 361.1,1297.5 362.2,1297.5 363.3,1297.5 364.3,1297.5 365.4,1297.5 366.5,1297.5 367.5,1297.5 368.6,1297.5 369.6,1297.5 370.7,1297.5 371.8,1297.5 372.8,1297.5 373.9,1297.5 375.0,1297.5 376.0,1297.5 377.1,1297.5 378.1,1297.5 379.2,1297.5 380.3,1297.5 381.3,1297.5 382.4,1297.5 383.5,1297.5 384.5,1297.5 385.6,1297.5 386.6,1297.5 387.7,1297.5 388.8,1297.5 389.8,1297.5 390.9,1297.5 392.0,1297.5 393.0,1297.5 394.1,1297.5 395.2,1297.5 396.2,1297.5 397.3,1297.5 398.3,1297.5 399.4,1297.5 400.5,1297.5 401.5,1297.5 402.6,1297.5 403.7,1297.5 404.7,1297.5 405.8,1297.5 406.8,1297.5 407.9,1297.5 409.0,1297.5 410.0,1297.5 411.1,1297.5 412.2,1297.5 413.2,1297.5 414.3,1297.5 415.4,1297.5 416.4,1297.5 417.5,1297.5 418.5,1297.5 419.6,1297.5 420.7,1297.5 421.7,1297.5 422.8,1297.5 423.9,1297.5 424.9,1297.5 426.0,1297.5 427.0,1297.5 428.1,1297.5 429.2,1297.5 430.2,1297.5 431.3,1297.5 432.4,1297.5 433.4,1297.5 434.5,1297.5 435.5,1297.5 436.6,1297.5 437.7,1297.5 438.7,1297.5 439.8,1297.5 440.9,1297.5 441.9,1297.5 443.0,1297.5 444.1,1297.5 445.1,1297.5 446.2,1297.5 447.2,1297.5 448.3,1297.5 449.4,1297.5 450.4,1297.5 451.5,1297.5 452.6,1297.5 453.6,1297.5 454.7,1297.5 455.7,1297.5 456.8,1297.5 457.9,1297.5 458.9,1297.5 460.0,1297.5 461.1,1297.5 462.1,1297.5 463.2,1297.5 464.2,1297.5 465.3,1297.5 466.4,1297.5 467.4,1297.5 468.5,1297.5 469.6,1297.5 470.6,1297.5 471.7,1297.5 472.8,1297.5 473.8,1297.5 474.9,1297.5 475.9,1297.5 477.0,1297.5 478.1,1297.5 479.1,1297.5 480.2,1297.5 481.3,1297.5 482.3,1297.5 483.4,1297.5 484.4,1297.5 485.5,1297.5 486.6,1297.5 487.6,1297.5 488.7,1297.5 489.8,1297.5 490.8,1297.5 491.9,1297.5 492.9,1297.5 494.0,1297.5 495.1,1297.5 496.1,1297.5 497.2,1297.5 498.3,1297.5 499.3,1297.5 500.4,1297.5 501.5,1297.5 502.5,1297.5 503.6,1297.5 504.6,1297.5 505.7,1297.5 506.8,1297.5 507.8,1297.5 508.9,1297.5 510.0,1297.5 511.0,1297.5 512.1,1297.5 513.1,1297.5 514.2,1297.5 515.3,1297.5 516.3,1297.5 517.4,1297.5 518.5,1297.5 519.5,1297.5 520.6,1297.5 521.6,1297.5 522.7,1297.5 523.8,1297.5 524.8,1297.5 525.9,1297.5 527.0,1297.5 528.0,1297.5 529.1,1297.5 530.2,1297.5 531.2,1297.5 532.3,1297.5 533.3,1297.5 534.4,1297.5 535.5,1297.5 536.5,1297.5 537.6,1297.5 538.7,1297.5 539.7,1297.5 540.8,1297.5 541.8,1297.5 542.9,1297.5 544.0,1297.5 545.0,1297.5 546.1,1297.5 547.2,1297.5 548.2,1297.5 549.3,1297.5 550.4,1297.5 551.4,1297.5 552.5,1297.5 553.5,1297.5 554.6,1297.5 555.7,1297.5 556.7,1297.5 557.8,1297.5 558.9,1297.5 559.9,1297.5 561.0,1297.5 562.0,1297.5 563.1,1297.5 564.2,1297.5 565.2,1297.5 566.3,1297.5 567.4,1297.5 568.4,1297.5 569.5,1297.5 570.5,1297.5 571.6,1297.5 572.7,1297.5 573.7,1297.5 574.8,1297.5 575.9,1297.5 576.9,1297.5 578.0,1297.5 579.1,1297.5 580.1,1297.5 581.2,1297.5 582.2,1297.5 583.3,1297.5 584.4,1297.5 585.4,1297.5 586.5,1297.5 587.6,1297.5 588.6,1297.5 589.7,1297.5 590.7,1297.5 591.8,1297.5 592.9,1297.5 593.9,1297.5 595.0,1297.5 596.1,1297.5 597.1,1297.5 598.2,1297.5 599.2,1297.5 600.3,1297.5 601.4,1297.5 602.4,1297.5 603.5,1297.5 604.6,1297.5 605.6,1297.5 606.7,1297.5 607.8,1297.5 608.8,1297.5 609.9,1297.5 610.9,1297.5 612.0,1297.5 613.1,1297.5 614.1,1297.5 615.2,1297.5 616.3,1297.5 617.3,1297.5 618.4,1297.5 619.4,1297.5 620.5,1297.5 621.6,1297.5 622.6,1297.5 623.7,1297.5 624.8,1297.5 625.8,1296.5 626.9,1294.1 627.9,1287.2 629.0,1275.4 630.1,1263.0 631.1,1251.6 632.2,1239.6 633.3,1227.2 634.3,1214.8 635.4,1202.1 636.5,1189.0 637.5,1175.6 638.6,1162.3 639.6,1149.3 640.7,1136.9 641.8,1125.2 642.8,1114.1 643.9,1103.2 645.0,1092.5 646.0,1082.3 647.1,1072.8 648.1,1064.1 649.2,1056.3 650.3,1049.3 651.3,1042.7 652.4,1036.4 653.5,1030.5 654.5,1025.1 655.6,1020.1 656.7,1015.6 657.7,1011.6 658.8,1007.9 659.8,1004.5 660.9,1001.3 662.0,998.2 663.0,995.4 664.1,992.8 665.2,990.3 666.2,988.0 667.3,985.9 668.3,984.0 669.4,982.2 670.5,980.4 671.5,978.7 672.6,977.1 673.7,975.5 674.7,974.0 675.8,972.7 676.8,971.4 677.9,970.3 679.0,969.3 680.0,968.5 681.1,967.8" fill="none" stroke="#5a8ad6" stroke-width="2.2" stroke-linejoin="round" marker-start="url(#mX)" marker-mid="url(#mX)" marker-end="url(#mX)"/>
<polyline points="149.6,1297.5 150.7,1297.5 151.7,1297.5 152.8,1297.5 153.9,1297.5 154.9,1297.5 156.0,1297.5 157.0,1297.5 158.1,1297.5 159.2,1297.5 160.2,1297.5 161.3,1297.5 162.4,1297.5 163.4,1297.5 164.5,1297.5 165.5,1297.5 166.6,1297.5 167.7,1297.5 168.7,1297.5 169.8,1297.5 170.9,1297.5 171.9,1297.5 173.0,1297.5 174.0,1297.5 175.1,1297.5 176.2,1297.5 177.2,1297.5 178.3,1297.5 179.4,1297.5 180.4,1297.5 181.5,1297.5 182.6,1297.5 183.6,1297.5 184.7,1297.5 185.7,1297.5 186.8,1297.5 187.9,1297.5 188.9,1297.5 190.0,1297.5 191.1,1297.5 192.1,1297.5 193.2,1297.5 194.2,1297.5 195.3,1297.5 196.4,1297.5 197.4,1297.5 198.5,1297.5 199.6,1297.5 200.6,1297.5 201.7,1297.5 202.8,1297.5 203.8,1297.5 204.9,1297.5 205.9,1297.5 207.0,1297.5 208.1,1297.5 209.1,1297.5 210.2,1297.5 211.3,1297.5 212.3,1297.5 213.4,1297.5 214.4,1297.5 215.5,1297.5 216.6,1297.5 217.6,1297.5 218.7,1297.5 219.8,1297.5 220.8,1297.5 221.9,1297.5 222.9,1297.5 224.0,1297.5 225.1,1297.5 226.1,1297.5 227.2,1297.5 228.3,1297.5 229.3,1297.5 230.4,1297.5 231.5,1297.5 232.5,1297.5 233.6,1297.5 234.6,1297.5 235.7,1297.5 236.8,1297.5 237.8,1297.5 238.9,1297.5 240.0,1297.5 241.0,1297.5 242.1,1297.5 243.1,1297.5 244.2,1297.5 245.3,1297.5 246.3,1297.5 247.4,1297.5 248.5,1297.5 249.5,1297.5 250.6,1297.5 251.6,1297.5 252.7,1297.5 253.8,1297.5 254.8,1297.5 255.9,1297.5 257.0,1297.5 258.0,1297.5 259.1,1297.5 260.2,1297.5 261.2,1297.5 262.3,1297.5 263.3,1297.5 264.4,1297.5 265.5,1297.5 266.5,1297.5 267.6,1297.5 268.7,1297.5 269.7,1297.5 270.8,1297.5 271.8,1297.5 272.9,1297.5 274.0,1297.5 275.0,1297.5 276.1,1297.5 277.2,1297.5 278.2,1297.5 279.3,1297.5 280.3,1297.5 281.4,1297.5 282.5,1297.5 283.5,1297.5 284.6,1297.5 285.7,1297.5 286.7,1297.5 287.8,1297.5 288.9,1297.5 289.9,1297.5 291.0,1297.5 292.0,1297.5 293.1,1297.5 294.2,1297.5 295.2,1297.5 296.3,1297.5 297.4,1297.5 298.4,1297.5 299.5,1297.5 300.5,1297.5 301.6,1297.5 302.7,1297.5 303.7,1297.5 304.8,1297.5 305.9,1297.5 306.9,1297.5 308.0,1297.5 309.0,1297.5 310.1,1297.5 311.2,1297.5 312.2,1297.5 313.3,1297.5 314.4,1297.5 315.4,1297.5 316.5,1297.5 317.6,1297.5 318.6,1297.5 319.7,1297.5 320.7,1297.5 321.8,1297.5 322.9,1297.5 323.9,1297.5 325.0,1297.5 326.1,1297.5 327.1,1297.5 328.2,1297.5 329.2,1297.5 330.3,1297.5 331.4,1297.5 332.4,1297.5 333.5,1297.5 334.6,1297.5 335.6,1297.5 336.7,1297.5 337.8,1297.5 338.8,1297.5 339.9,1297.5 340.9,1297.5 342.0,1297.5 343.1,1297.5 344.1,1297.5 345.2,1297.5 346.3,1297.5 347.3,1297.5 348.4,1297.5 349.4,1297.5 350.5,1297.5 351.6,1297.5 352.6,1297.5 353.7,1297.5 354.8,1297.5 355.8,1297.5 356.9,1297.5 357.9,1297.5 359.0,1297.5 360.1,1297.5 361.1,1297.5 362.2,1297.5 363.3,1297.5 364.3,1297.5 365.4,1297.5 366.5,1297.5 367.5,1297.5 368.6,1297.5 369.6,1297.5 370.7,1297.5 371.8,1297.5 372.8,1297.5 373.9,1297.5 375.0,1297.5 376.0,1297.5 377.1,1297.5 378.1,1297.5 379.2,1297.5 380.3,1297.5 381.3,1297.5 382.4,1297.5 383.5,1297.5 384.5,1297.5 385.6,1297.5 386.6,1297.5 387.7,1297.5 388.8,1297.5 389.8,1297.5 390.9,1297.5 392.0,1297.5 393.0,1297.5 394.1,1297.5 395.2,1297.5 396.2,1297.5 397.3,1297.5 398.3,1297.5 399.4,1297.5 400.5,1297.5 401.5,1297.5 402.6,1297.5 403.7,1297.5 404.7,1297.5 405.8,1297.5 406.8,1297.5 407.9,1297.5 409.0,1297.5 410.0,1297.5 411.1,1297.5 412.2,1297.5 413.2,1297.5 414.3,1297.5 415.4,1297.5 416.4,1297.5 417.5,1297.5 418.5,1297.5 419.6,1297.5 420.7,1297.5 421.7,1297.5 422.8,1297.5 423.9,1297.5 424.9,1297.5 426.0,1297.5 427.0,1297.5 428.1,1297.5 429.2,1297.5 430.2,1297.5 431.3,1297.5 432.4,1297.5 433.4,1297.5 434.5,1297.5 435.5,1297.5 436.6,1297.5 437.7,1297.5 438.7,1297.5 439.8,1297.5 440.9,1297.5 441.9,1297.5 443.0,1297.5 444.1,1297.5 445.1,1297.5 446.2,1297.5 447.2,1297.5 448.3,1297.5 449.4,1297.5 450.4,1297.5 451.5,1297.5 452.6,1297.5 453.6,1297.5 454.7,1297.5 455.7,1297.5 456.8,1297.5 457.9,1297.5 458.9,1297.5 460.0,1297.5 461.1,1297.5 462.1,1297.5 463.2,1297.5 464.2,1297.5 465.3,1297.5 466.4,1297.5 467.4,1297.5 468.5,1297.5 469.6,1297.5 470.6,1297.5 471.7,1297.5 472.8,1297.5 473.8,1297.5 474.9,1297.5 475.9,1297.5 477.0,1297.5 478.1,1297.5 479.1,1297.5 480.2,1297.5 481.3,1297.5 482.3,1297.5 483.4,1297.5 484.4,1297.5 485.5,1297.5 486.6,1297.5 487.6,1297.5 488.7,1297.5 489.8,1297.5 490.8,1297.5 491.9,1297.5 492.9,1297.5 494.0,1297.5 495.1,1297.5 496.1,1297.5 497.2,1297.5 498.3,1297.5 499.3,1297.5 500.4,1297.5 501.5,1297.5 502.5,1297.5 503.6,1297.5 504.6,1297.5 505.7,1297.5 506.8,1297.5 507.8,1297.5 508.9,1297.5 510.0,1297.5 511.0,1297.5 512.1,1297.5 513.1,1297.5 514.2,1297.5 515.3,1297.5 516.3,1297.5 517.4,1297.5 518.5,1297.5 519.5,1297.5 520.6,1297.5 521.6,1297.5 522.7,1297.5 523.8,1297.5 524.8,1297.5 525.9,1297.5 527.0,1297.5 528.0,1297.5 529.1,1297.5 530.2,1297.5 531.2,1297.5 532.3,1297.5 533.3,1297.5 534.4,1297.5 535.5,1297.5 536.5,1297.5 537.6,1297.5 538.7,1297.5 539.7,1297.5 540.8,1297.5 541.8,1297.5 542.9,1297.5 544.0,1297.5 545.0,1297.5 546.1,1297.5 547.2,1297.5 548.2,1297.5 549.3,1297.5 550.4,1297.5 551.4,1297.5 552.5,1297.5 553.5,1297.5 554.6,1297.5 555.7,1297.5 556.7,1297.5 557.8,1297.5 558.9,1297.5 559.9,1297.5 561.0,1297.5 562.0,1297.5 563.1,1297.5 564.2,1297.5 565.2,1297.5 566.3,1297.5 567.4,1297.5 568.4,1297.5 569.5,1297.5 570.5,1297.5 571.6,1297.5 572.7,1297.5 573.7,1297.5 574.8,1297.5 575.9,1297.5 576.9,1297.5 578.0,1297.5 579.1,1297.5 580.1,1297.5 581.2,1297.5 582.2,1297.5 583.3,1297.5 584.4,1297.5 585.4,1297.5 586.5,1297.5 587.6,1297.5 588.6,1297.5 589.7,1297.5 590.7,1297.5 591.8,1297.5 592.9,1297.5 593.9,1297.5 595.0,1297.5 596.1,1297.5 597.1,1297.5 598.2,1297.5 599.2,1297.5 600.3,1297.5 601.4,1297.5 602.4,1297.5 603.5,1297.5 604.6,1297.5 605.6,1297.5 606.7,1297.5 607.8,1297.5 608.8,1297.5 609.9,1297.5 610.9,1297.5 612.0,1297.5 613.1,1297.5 614.1,1297.5 615.2,1297.5 616.3,1297.5 617.3,1297.5 618.4,1297.5 619.4,1297.5 620.5,1297.5 621.6,1297.5 622.6,1297.5 623.7,1297.5 624.8,1297.5 625.8,1297.5 626.9,1297.5 627.9,1297.5 629.0,1297.5 630.1,1297.5 631.1,1297.5 632.2,1297.5 633.3,1297.5 634.3,1297.5 635.4,1297.5 636.5,1297.5 637.5,1297.5 638.6,1297.5 639.6,1297.5 640.7,1297.5 641.8,1297.5 642.8,1297.5 643.9,1297.5 645.0,1297.5 646.0,1297.5 647.1,1297.5 648.1,1297.4 649.2,1297.4 650.3,1297.4 651.3,1297.3 652.4,1297.3 653.5,1297.2 654.5,1297.2 655.6,1297.1 656.7,1297.1 657.7,1297.0 658.8,1296.9 659.8,1296.8 660.9,1296.8 662.0,1296.7 663.0,1296.6 664.1,1296.5 665.2,1296.5 666.2,1296.4 667.3,1296.3 668.3,1296.2 669.4,1296.1 670.5,1296.0 671.5,1295.8 672.6,1295.7 673.7,1295.5 674.7,1295.4 675.8,1295.2 676.8,1295.1 677.9,1294.9 679.0,1294.7 680.0,1294.6 681.1,1294.4" fill="none" stroke="#00b050" stroke-width="2.2" stroke-linejoin="round" marker-start="url(#mCirB)" marker-mid="url(#mCirB)" marker-end="url(#mCirB)"/>
<polyline points="149.6,1297.5 150.7,1297.5 151.7,1297.5 152.8,1297.5 153.9,1297.5 154.9,1297.5 156.0,1297.5 157.0,1297.5 158.1,1297.5 159.2,1297.5 160.2,1297.5 161.3,1297.5 162.4,1297.5 163.4,1297.5 164.5,1297.5 165.5,1297.5 166.6,1297.5 167.7,1297.5 168.7,1297.5 169.8,1297.5 170.9,1297.5 171.9,1297.5 173.0,1297.5 174.0,1297.5 175.1,1297.5 176.2,1297.5 177.2,1297.5 178.3,1297.5 179.4,1297.5 180.4,1297.5 181.5,1297.5 182.6,1297.5 183.6,1297.5 184.7,1297.5 185.7,1297.5 186.8,1297.5 187.9,1297.5 188.9,1297.5 190.0,1297.5 191.1,1297.5 192.1,1297.5 193.2,1297.5 194.2,1297.5 195.3,1297.5 196.4,1297.5 197.4,1297.5 198.5,1297.5 199.6,1297.5 200.6,1297.5 201.7,1297.5 202.8,1297.5 203.8,1297.5 204.9,1297.5 205.9,1297.5 207.0,1297.5 208.1,1297.5 209.1,1297.5 210.2,1297.5 211.3,1297.5 212.3,1297.5 213.4,1297.5 214.4,1297.5 215.5,1297.5 216.6,1297.5 217.6,1297.5 218.7,1297.5 219.8,1297.5 220.8,1297.5 221.9,1297.5 222.9,1297.5 224.0,1297.5 225.1,1297.5 226.1,1297.5 227.2,1297.5 228.3,1297.5 229.3,1297.5 230.4,1297.5 231.5,1297.5 232.5,1297.5 233.6,1297.5 234.6,1297.5 235.7,1297.5 236.8,1297.5 237.8,1297.5 238.9,1297.5 240.0,1297.5 241.0,1297.5 242.1,1297.5 243.1,1297.5 244.2,1297.5 245.3,1297.5 246.3,1297.5 247.4,1297.5 248.5,1297.5 249.5,1297.5 250.6,1297.5 251.6,1297.5 252.7,1297.5 253.8,1297.5 254.8,1297.5 255.9,1297.5 257.0,1297.5 258.0,1297.5 259.1,1297.5 260.2,1297.5 261.2,1297.5 262.3,1297.5 263.3,1297.5 264.4,1297.5 265.5,1297.5 266.5,1297.5 267.6,1297.5 268.7,1297.5 269.7,1297.5 270.8,1297.5 271.8,1297.5 272.9,1297.5 274.0,1297.5 275.0,1297.5 276.1,1297.5 277.2,1297.5 278.2,1297.5 279.3,1297.5 280.3,1297.5 281.4,1297.5 282.5,1297.5 283.5,1297.5 284.6,1297.5 285.7,1297.5 286.7,1297.5 287.8,1297.5 288.9,1297.5 289.9,1297.5 291.0,1297.5 292.0,1297.5 293.1,1297.5 294.2,1297.5 295.2,1297.5 296.3,1297.5 297.4,1297.5 298.4,1297.5 299.5,1297.5 300.5,1297.5 301.6,1297.5 302.7,1297.5 303.7,1297.5 304.8,1297.5 305.9,1297.5 306.9,1297.5 308.0,1297.5 309.0,1297.5 310.1,1297.5 311.2,1297.5 312.2,1297.5 313.3,1297.5 314.4,1297.5 315.4,1297.5 316.5,1297.5 317.6,1297.5 318.6,1297.5 319.7,1297.5 320.7,1297.5 321.8,1297.5 322.9,1297.5 323.9,1297.5 325.0,1297.5 326.1,1297.5 327.1,1297.5 328.2,1297.5 329.2,1297.5 330.3,1297.5 331.4,1297.5 332.4,1297.5 333.5,1297.5 334.6,1297.5 335.6,1297.5 336.7,1297.5 337.8,1297.5 338.8,1297.5 339.9,1297.5 340.9,1297.5 342.0,1297.5 343.1,1297.5 344.1,1297.5 345.2,1297.5 346.3,1297.5 347.3,1297.5 348.4,1297.5 349.4,1297.5 350.5,1297.5 351.6,1297.5 352.6,1297.5 353.7,1297.5 354.8,1297.5 355.8,1297.5 356.9,1297.5 357.9,1297.5 359.0,1297.5 360.1,1297.5 361.1,1297.5 362.2,1297.5 363.3,1297.5 364.3,1297.5 365.4,1297.5 366.5,1297.5 367.5,1297.5 368.6,1297.5 369.6,1297.5 370.7,1297.5 371.8,1297.5 372.8,1297.5 373.9,1297.5 375.0,1297.5 376.0,1297.5 377.1,1297.5 378.1,1297.5 379.2,1297.5 380.3,1297.5 381.3,1297.5 382.4,1297.5 383.5,1297.5 384.5,1297.5 385.6,1297.5 386.6,1297.5 387.7,1297.5 388.8,1297.5 389.8,1297.5 390.9,1297.5 392.0,1297.5 393.0,1297.5 394.1,1297.5 395.2,1297.5 396.2,1297.5 397.3,1297.5 398.3,1297.5 399.4,1297.5 400.5,1297.5 401.5,1297.5 402.6,1297.5 403.7,1297.5 404.7,1297.5 405.8,1297.5 406.8,1297.5 407.9,1297.5 409.0,1297.5 410.0,1297.5 411.1,1297.5 412.2,1297.5 413.2,1297.5 414.3,1297.5 415.4,1297.5 416.4,1297.5 417.5,1297.5 418.5,1297.5 419.6,1297.5 420.7,1297.5 421.7,1297.5 422.8,1297.5 423.9,1297.5 424.9,1297.5 426.0,1297.5 427.0,1297.5 428.1,1297.5 429.2,1297.5 430.2,1297.5 431.3,1297.5 432.4,1297.5 433.4,1297.5 434.5,1297.5 435.5,1297.5 436.6,1297.5 437.7,1297.5 438.7,1297.5 439.8,1297.5 440.9,1297.5 441.9,1297.5 443.0,1297.5 444.1,1297.5 445.1,1297.5 446.2,1297.5 447.2,1297.5 448.3,1297.5 449.4,1297.5 450.4,1297.5 451.5,1297.5 452.6,1297.5 453.6,1297.5 454.7,1297.5 455.7,1297.5 456.8,1297.5 457.9,1297.5 458.9,1297.5 460.0,1297.5 461.1,1297.5 462.1,1297.5 463.2,1297.5 464.2,1297.5 465.3,1297.5 466.4,1297.5 467.4,1297.5 468.5,1297.5 469.6,1297.5 470.6,1297.5 471.7,1297.5 472.8,1297.5 473.8,1297.5 474.9,1297.5 475.9,1297.5 477.0,1297.5 478.1,1297.5 479.1,1297.5 480.2,1297.5 481.3,1297.5 482.3,1297.5 483.4,1297.5 484.4,1297.5 485.5,1297.5 486.6,1297.5 487.6,1297.5 488.7,1297.5 489.8,1297.5 490.8,1297.5 491.9,1297.5 492.9,1297.5 494.0,1297.5 495.1,1297.5 496.1,1297.5 497.2,1297.5 498.3,1297.5 499.3,1297.5 500.4,1297.5 501.5,1297.5 502.5,1297.5 503.6,1297.5 504.6,1297.5 505.7,1297.5 506.8,1297.5 507.8,1297.5 508.9,1297.5 510.0,1297.5 511.0,1297.5 512.1,1297.5 513.1,1297.5 514.2,1297.5 515.3,1297.5 516.3,1297.5 517.4,1297.5 518.5,1297.5 519.5,1297.5 520.6,1297.5 521.6,1297.5 522.7,1297.5 523.8,1297.5 524.8,1297.5 525.9,1297.5 527.0,1297.5 528.0,1297.5 529.1,1297.5 530.2,1297.5 531.2,1297.5 532.3,1297.5 533.3,1297.5 534.4,1297.5 535.5,1297.5 536.5,1297.5 537.6,1297.5 538.7,1297.5 539.7,1297.5 540.8,1297.5 541.8,1297.5 542.9,1297.5 544.0,1297.5 545.0,1297.5 546.1,1297.5 547.2,1297.5 548.2,1297.5 549.3,1297.5 550.4,1297.5 551.4,1297.5 552.5,1297.5 553.5,1297.5 554.6,1297.5 555.7,1297.5 556.7,1297.5 557.8,1297.5 558.9,1297.5 559.9,1297.5 561.0,1297.5 562.0,1297.5 563.1,1297.5 564.2,1297.5 565.2,1297.5 566.3,1297.5 567.4,1297.5 568.4,1297.5 569.5,1297.5 570.5,1297.5 571.6,1297.5 572.7,1297.5 573.7,1297.5 574.8,1297.5 575.9,1297.5 576.9,1297.5 578.0,1297.5 579.1,1297.5 580.1,1297.5 581.2,1297.5 582.2,1297.5 583.3,1297.5 584.4,1297.5 585.4,1297.5 586.5,1297.5 587.6,1297.5 588.6,1297.5 589.7,1297.5 590.7,1297.5 591.8,1297.5 592.9,1297.5 593.9,1297.5 595.0,1297.5 596.1,1297.5 597.1,1297.5 598.2,1297.5 599.2,1297.5 600.3,1297.5 601.4,1297.5 602.4,1297.5 603.5,1297.5 604.6,1297.5 605.6,1297.5 606.7,1297.5 607.8,1297.5 608.8,1297.5 609.9,1297.5 610.9,1297.5 612.0,1297.5 613.1,1297.5 614.1,1297.5 615.2,1297.5 616.3,1297.5 617.3,1297.5 618.4,1297.5 619.4,1297.5 620.5,1297.5 621.6,1297.5 622.6,1297.5 623.7,1297.5 624.8,1297.5 625.8,1297.5 626.9,1297.5 627.9,1297.5 629.0,1297.5 630.1,1297.5 631.1,1297.5 632.2,1297.5 633.3,1297.5 634.3,1297.5 635.4,1297.5 636.5,1297.5 637.5,1297.5 638.6,1297.5 639.6,1297.5 640.7,1297.5 641.8,1297.5 642.8,1297.5 643.9,1297.5 645.0,1297.5 646.0,1297.5 647.1,1297.5 648.1,1297.5 649.2,1297.5 650.3,1297.5 651.3,1297.5 652.4,1297.5 653.5,1297.5 654.5,1297.5 655.6,1297.5 656.7,1297.5 657.7,1297.5 658.8,1297.5 659.8,1297.5 660.9,1297.5 662.0,1297.5 663.0,1297.5 664.1,1297.5 665.2,1297.5 666.2,1297.5 667.3,1297.5 668.3,1297.5 669.4,1297.5 670.5,1297.5 671.5,1297.5 672.6,1297.5 673.7,1297.5 674.7,1297.5 675.8,1297.5 676.8,1297.5 677.9,1297.5 679.0,1297.5 680.0,1297.5 681.1,1297.5" fill="none" stroke="#808080" stroke-width="2.2" stroke-linejoin="round" marker-start="url(#mCirG)" marker-mid="url(#mCirG)" marker-end="url(#mCirG)"/>
<line x1="149.60" y1="1124.15" x2="681.10" y2="1124.15" stroke="#ff0000" stroke-width="6.2"/>
<line x1="147.60" y1="1879.60" x2="147.60" y2="2215.80" stroke="#000" stroke-width="2"/>
<line x1="136.60" y1="2215.80" x2="147.60" y2="2215.80" stroke="#000" stroke-width="2"/>
<line x1="136.60" y1="2047.70" x2="147.60" y2="2047.70" stroke="#000" stroke-width="2"/>
<line x1="136.60" y1="1879.60" x2="147.60" y2="1879.60" stroke="#000" stroke-width="2"/>
<line x1="146.60" y1="2215.80" x2="673.60" y2="2215.80" stroke="#000" stroke-width="2"/>
<line x1="147.60" y1="2215.80" x2="147.60" y2="2224.80" stroke="#000" stroke-width="2"/>
<line x1="252.60" y1="2215.80" x2="252.60" y2="2224.80" stroke="#000" stroke-width="2"/>
<line x1="357.60" y1="2215.80" x2="357.60" y2="2224.80" stroke="#000" stroke-width="2"/>
<line x1="462.60" y1="2215.80" x2="462.60" y2="2224.80" stroke="#000" stroke-width="2"/>
<line x1="567.60" y1="2215.80" x2="567.60" y2="2224.80" stroke="#000" stroke-width="2"/>
<line x1="672.60" y1="2215.80" x2="672.60" y2="2224.80" stroke="#000" stroke-width="2"/>
<text x="71.27" y="2225.76" font-family="'Liberation Sans', Arial, sans-serif" font-size="35.23" textLength="47.01" lengthAdjust="spacingAndGlyphs" fill="#000" stroke="#fff" stroke-width="0.6">0,0</text>
<text x="71.27" y="2057.66" font-family="'Liberation Sans', Arial, sans-serif" font-size="35.23" textLength="47.01" lengthAdjust="spacingAndGlyphs" fill="#000" stroke="#fff" stroke-width="0.6">0,5</text>
<text x="71.27" y="1889.56" font-family="'Liberation Sans', Arial, sans-serif" font-size="35.23" textLength="47.01" lengthAdjust="spacingAndGlyphs" fill="#000" stroke="#fff" stroke-width="0.6">1,0</text>
<text x="138.34" y="2266.16" font-family="'Liberation Sans', Arial, sans-serif" font-size="35.51" textLength="18.57" lengthAdjust="spacingAndGlyphs" fill="#000" stroke="#fff" stroke-width="0.6">0</text>
<text x="224.22" y="2266.16" font-family="'Liberation Sans', Arial, sans-serif" font-size="35.51" textLength="55.70" lengthAdjust="spacingAndGlyphs" fill="#000" stroke="#fff" stroke-width="0.6">100</text>
<text x="329.64" y="2266.16" font-family="'Liberation Sans', Arial, sans-serif" font-size="35.51" textLength="55.70" lengthAdjust="spacingAndGlyphs" fill="#000" stroke="#fff" stroke-width="0.6">200</text>
<text x="434.81" y="2266.16" font-family="'Liberation Sans', Arial, sans-serif" font-size="35.51" textLength="55.70" lengthAdjust="spacingAndGlyphs" fill="#000" stroke="#fff" stroke-width="0.6">300</text>
<text x="540.06" y="2266.16" font-family="'Liberation Sans', Arial, sans-serif" font-size="35.51" textLength="55.70" lengthAdjust="spacingAndGlyphs" fill="#000" stroke="#fff" stroke-width="0.6">400</text>
<text x="644.81" y="2266.16" font-family="'Liberation Sans', Arial, sans-serif" font-size="35.51" textLength="55.70" lengthAdjust="spacingAndGlyphs" fill="#000" stroke="#fff" stroke-width="0.6">500</text>
<text transform="translate(46.56,2119.49) rotate(-90)" x="0" y="0" font-family="'Liberation Sans', Arial, sans-serif" font-size="35.93" textLength="138.98" lengthAdjust="spacingAndGlyphs" fill="#000" stroke="#fff" stroke-width="0.6">ArBr Freq</text>
<text x="313.16" y="2317.86" font-family="'Liberation Sans', Arial, sans-serif" font-size="32.00" textLength="155.15" lengthAdjust="spacingAndGlyphs" fill="#000" stroke="#fff" stroke-width="0.6">generation</text>
<text x="131.91" y="2351.80" font-family="'Liberation Sans', Arial, sans-serif" font-size="28.55" textLength="518.78" lengthAdjust="spacingAndGlyphs" fill="#000">hAr 0,23 - sBtA 0,93 &amp; hBr 0,23 - sBtB 0,93</text>
<text x="327.58" y="2417.30" font-family="'Liberation Serif', 'Times New Roman', serif" font-size="42.12" fill="#000"><tspan font-weight="normal">(</tspan><tspan font-weight="bold">C</tspan><tspan font-weight="normal">)</tspan></text>
<text x="142.76" y="1562.20" font-family="'DejaVu Sans', 'Liberation Sans', sans-serif" font-size="26.62" textLength="143.89" lengthAdjust="spacingAndGlyphs" fill="#000">GF50: 21</text>
<text x="186.25" y="1623.40" font-family="'DejaVu Sans', 'Liberation Sans', sans-serif" font-size="27.57" textLength="145.02" lengthAdjust="spacingAndGlyphs" fill="#000">GF50: 38</text>
<text x="224.76" y="1685.00" font-family="'DejaVu Sans', 'Liberation Sans', sans-serif" font-size="29.32" textLength="143.68" lengthAdjust="spacingAndGlyphs" fill="#000">GF50: 81</text>
<text x="265.66" y="1746.60" font-family="'DejaVu Sans', 'Liberation Sans', sans-serif" font-size="30.00" textLength="164.03" lengthAdjust="spacingAndGlyphs" fill="#000">GF50: 141</text>
<text x="356.95" y="1807.30" font-family="'DejaVu Sans', 'Liberation Sans', sans-serif" font-size="30.14" textLength="164.62" lengthAdjust="spacingAndGlyphs" fill="#000">GF50: 233</text>
<line x1="169.60" y1="1580.00" x2="169.60" y2="1843.40" stroke="#000" stroke-width="4.0" stroke-linecap="round"/>
<polygon points="162.60,1842.40 176.60,1842.40 169.60,1856.40" fill="#000"/>
<line x1="200.50" y1="1641.00" x2="200.50" y2="1843.40" stroke="#000" stroke-width="4.0" stroke-linecap="round"/>
<polygon points="193.50,1842.40 207.50,1842.40 200.50,1856.40" fill="#000"/>
<line x1="230.50" y1="1702.40" x2="230.50" y2="1843.40" stroke="#000" stroke-width="4.0" stroke-linecap="round"/>
<polygon points="223.50,1842.40 237.50,1842.40 230.50,1856.40" fill="#000"/>
<line x1="292.30" y1="1763.90" x2="292.30" y2="1843.40" stroke="#000" stroke-width="4.0" stroke-linecap="round"/>
<polygon points="285.30,1842.40 299.30,1842.40 292.30,1856.40" fill="#000"/>
<line x1="383.20" y1="1824.40" x2="383.20" y2="1843.40" stroke="#000" stroke-width="4.0" stroke-linecap="round"/>
<polygon points="376.20,1842.40 390.20,1842.40 383.20,1856.40" fill="#000"/>
<polyline points="147.6,2216.3 148.7,2216.3 149.7,2216.3 150.8,2216.3 151.8,2216.3 152.8,2216.3 153.9,2216.3 154.9,2216.2 156.0,2216.2 157.0,2216.1 158.1,2216.0 159.2,2215.9 160.2,2215.7 161.2,2215.3 162.3,2214.7 163.3,2213.9 164.4,2212.6 165.4,2210.4 166.5,2206.2 167.5,2196.4 168.6,2178.3 169.7,2132.2 170.7,2056.1 171.8,1970.7 172.8,1920.2 173.8,1897.0 174.9,1887.3 175.9,1883.2 177.0,1881.3 178.1,1880.5 179.1,1880.1 180.2,1879.9 181.2,1879.9 182.2,1879.8 183.3,1879.8 184.3,1879.8 185.4,1879.8 186.4,1879.8 187.5,1879.8 188.6,1879.8 189.6,1879.8 190.7,1879.8 191.7,1879.8 192.8,1879.8 193.8,1879.8 194.8,1879.8 195.9,1879.8 196.9,1879.8 198.0,1879.8 199.1,1879.8 200.1,1879.8 201.2,1879.8 202.2,1879.8 203.2,1879.8 204.3,1879.8 205.3,1879.8 206.4,1879.8 207.4,1879.8 208.5,1879.8 209.6,1879.8 210.6,1879.8 211.6,1879.8 212.7,1879.8 213.8,1879.8 214.8,1879.8 215.8,1879.8 216.9,1879.8 217.9,1879.8 219.0,1879.8 220.1,1879.8 221.1,1879.8 222.1,1879.8 223.2,1879.8 224.2,1879.8 225.3,1879.8 226.3,1879.8 227.4,1879.8 228.4,1879.8 229.5,1879.8 230.6,1879.8 231.6,1879.8 232.6,1879.8 233.7,1879.8 234.8,1879.8 235.8,1879.8 236.8,1879.8 237.9,1879.8 238.9,1879.8 240.0,1879.8 241.1,1879.8 242.1,1879.8 243.1,1879.8 244.2,1879.8 245.2,1879.8 246.3,1879.8 247.3,1879.8 248.4,1879.8 249.4,1879.8 250.5,1879.8 251.6,1879.8 252.6,1879.8 253.7,1879.8 254.7,1879.8 255.8,1879.8 256.8,1879.8 257.9,1879.8 258.9,1879.8 259.9,1879.8 261.0,1879.8 262.1,1879.8 263.1,1879.8 264.1,1879.8 265.2,1879.8 266.2,1879.8 267.3,1879.8 268.4,1879.8 269.4,1879.8 270.4,1879.8 271.5,1879.8 272.6,1879.8 273.6,1879.8 274.6,1879.8 275.7,1879.8 276.8,1879.8 277.8,1879.8 278.9,1879.8 279.9,1879.8 280.9,1879.8 282.0,1879.8 283.1,1879.8 284.1,1879.8 285.1,1879.8 286.2,1879.8 287.2,1879.8 288.3,1879.8 289.4,1879.8 290.4,1879.8 291.4,1879.8 292.5,1879.8 293.6,1879.8 294.6,1879.8 295.6,1879.8 296.7,1879.8 297.8,1879.8 298.8,1879.8 299.9,1879.8 300.9,1879.8 301.9,1879.8 303.0,1879.8 304.1,1879.8 305.1,1879.8 306.1,1879.8 307.2,1879.8 308.2,1879.8 309.3,1879.8 310.4,1879.8 311.4,1879.8 312.4,1879.8 313.5,1879.8 314.6,1879.8 315.6,1879.8 316.6,1879.8 317.7,1879.8 318.8,1879.8 319.8,1879.8 320.9,1879.8 321.9,1879.8 322.9,1879.8 324.0,1879.8 325.1,1879.8 326.1,1879.8 327.1,1879.8 328.2,1879.8 329.2,1879.8 330.3,1879.8 331.4,1879.8 332.4,1879.8 333.4,1879.8 334.5,1879.8 335.6,1879.8 336.6,1879.8 337.6,1879.8 338.7,1879.8 339.8,1879.8 340.8,1879.8 341.9,1879.8 342.9,1879.8 343.9,1879.8 345.0,1879.8 346.1,1879.8 347.1,1879.8 348.1,1879.8 349.2,1879.8 350.2,1879.8 351.3,1879.8 352.4,1879.8 353.4,1879.8 354.5,1879.8 355.5,1879.8 356.6,1879.8 357.6,1879.8 358.6,1879.8 359.7,1879.8 360.8,1879.8 361.8,1879.8 362.9,1879.8 363.9,1879.8 365.0,1879.8 366.0,1879.8 367.1,1879.8 368.1,1879.8 369.1,1879.8 370.2,1879.8 371.2,1879.8 372.3,1879.8 373.4,1879.8 374.4,1879.8 375.5,1879.8 376.5,1879.8 377.6,1879.8 378.6,1879.8 379.6,1879.8 380.7,1879.8 381.8,1879.8 382.8,1879.8 383.9,1879.8 384.9,1879.8 386.0,1879.8 387.0,1879.8 388.1,1879.8 389.1,1879.8 390.1,1879.8 391.2,1879.8 392.2,1879.8 393.3,1879.8 394.4,1879.8 395.4,1879.8 396.5,1879.8 397.5,1879.8 398.6,1879.8 399.6,1879.8 400.6,1879.8 401.7,1879.8 402.8,1879.8 403.8,1879.8 404.9,1879.8 405.9,1879.8 407.0,1879.8 408.0,1879.8 409.0,1879.8 410.1,1879.8 411.1,1879.8 412.2,1879.8 413.2,1879.8 414.3,1879.8 415.4,1879.8 416.4,1879.8 417.5,1879.8 418.5,1879.8 419.5,1879.8 420.6,1879.8 421.6,1879.8 422.7,1879.8 423.8,1879.8 424.8,1879.8 425.9,1879.8 426.9,1879.8 428.0,1879.8 429.0,1879.8 430.0,1879.8 431.1,1879.8 432.1,1879.8 433.2,1879.8 434.2,1879.8 435.3,1879.8 436.4,1879.8 437.4,1879.8 438.5,1879.8 439.5,1879.8 440.5,1879.8 441.6,1879.8 442.6,1879.8 443.7,1879.8 444.8,1879.8 445.8,1879.8 446.9,1879.8 447.9,1879.8 449.0,1879.8 450.0,1879.8 451.0,1879.8 452.1,1879.8 453.1,1879.8 454.2,1879.8 455.2,1879.8 456.3,1879.8 457.4,1879.8 458.4,1879.8 459.5,1879.8 460.5,1879.8 461.5,1879.8 462.6,1879.8 463.6,1879.8 464.7,1879.8 465.8,1879.8 466.8,1879.8 467.9,1879.8 468.9,1879.8 470.0,1879.8 471.0,1879.8 472.0,1879.8 473.1,1879.8 474.1,1879.8 475.2,1879.8 476.2,1879.8 477.3,1879.8 478.4,1879.8 479.4,1879.8 480.5,1879.8 481.5,1879.8 482.5,1879.8 483.6,1879.8 484.6,1879.8 485.7,1879.8 486.8,1879.8 487.8,1879.8 488.9,1879.8 489.9,1879.8 491.0,1879.8 492.0,1879.8 493.0,1879.8 494.1,1879.8 495.1,1879.8 496.2,1879.8 497.2,1879.8 498.3,1879.8 499.4,1879.8 500.4,1879.8 501.5,1879.8 502.5,1879.8 503.5,1879.8 504.6,1879.8 505.6,1879.8 506.7,1879.8 507.8,1879.8 508.8,1879.8 509.9,1879.8 510.9,1879.8 512.0,1879.8 513.0,1879.8 514.0,1879.8 515.1,1879.8 516.1,1879.8 517.2,1879.8 518.2,1879.8 519.3,1879.8 520.4,1879.8 521.4,1879.8 522.5,1879.8 523.5,1879.8 524.5,1879.8 525.6,1879.8 526.6,1879.8 527.7,1879.8 528.8,1879.8 529.8,1879.8 530.9,1879.8 531.9,1879.8 533.0,1879.8 534.0,1879.8 535.0,1879.8 536.1,1879.8 537.1,1879.8 538.2,1879.8 539.2,1879.8 540.3,1879.8 541.4,1879.8 542.4,1879.8 543.5,1879.8 544.5,1879.8 545.5,1879.8 546.6,1879.8 547.6,1879.8 548.7,1879.8 549.8,1879.8 550.8,1879.8 551.9,1879.8 552.9,1879.8 554.0,1879.8 555.0,1879.8 556.1,1879.8 557.1,1879.8 558.1,1879.8 559.2,1879.8 560.2,1879.8 561.3,1879.8 562.4,1879.8 563.4,1879.8 564.5,1879.8 565.5,1879.8 566.6,1879.8 567.6,1879.8 568.6,1879.8 569.7,1879.8 570.8,1879.8 571.8,1879.8 572.9,1879.8 573.9,1879.8 575.0,1879.8 576.0,1879.8 577.1,1879.8 578.1,1879.8 579.1,1879.8 580.2,1879.8 581.2,1879.8 582.3,1879.8 583.4,1879.8 584.4,1879.8 585.5,1879.8 586.5,1879.8 587.6,1879.8 588.6,1879.8 589.6,1879.8 590.7,1879.8 591.8,1879.8 592.8,1879.8 593.9,1879.8 594.9,1879.8 596.0,1879.8 597.0,1879.8 598.1,1879.8 599.1,1879.8 600.1,1879.8 601.2,1879.8 602.2,1879.8 603.3,1879.8 604.4,1879.8 605.4,1879.8 606.5,1879.8 607.5,1879.8 608.6,1879.8 609.6,1879.8 610.6,1879.8 611.7,1879.8 612.8,1879.8 613.8,1879.8 614.9,1879.8 615.9,1879.8 617.0,1879.8 618.0,1879.8 619.1,1879.8 620.1,1879.8 621.1,1879.8 622.2,1879.8 623.2,1879.8 624.3,1879.8 625.4,1879.8 626.4,1879.8 627.5,1879.8 628.5,1879.8 629.6,1879.8 630.6,1879.8 631.6,1879.8 632.7,1879.8 633.8,1879.8 634.8,1879.8 635.9,1879.8 636.9,1879.8 638.0,1879.8 639.0,1879.8 640.1,1879.8 641.1,1879.8 642.1,1879.8 643.2,1879.8 644.2,1879.8 645.3,1879.8 646.4,1879.8 647.4,1879.8 648.5,1879.8 649.5,1879.8 650.6,1879.8 651.6,1879.8 652.6,1879.8 653.7,1879.8 654.8,1879.8 655.8,1879.8 656.9,1879.8 657.9,1879.8 659.0,1879.8 660.0,1879.8 661.1,1879.8 662.1,1879.8 663.2,1879.8 664.2,1879.8 665.2,1879.8 666.3,1879.8 667.4,1879.8 668.4,1879.8 669.5,1879.8 670.5,1879.8 671.6,1879.8 672.6,1879.8" fill="none" stroke="#2dc8ca" stroke-width="2.2" stroke-linejoin="round" marker-start="url(#mSq)" marker-mid="url(#mSq)" marker-end="url(#mSq)"/>
<polyline points="147.6,2216.3 148.7,2216.3 149.7,2216.3 150.8,2216.3 151.8,2216.3 152.8,2216.3 153.9,2216.3 154.9,2216.3 156.0,2216.3 157.0,2216.3 158.1,2216.3 159.2,2216.3 160.2,2216.3 161.2,2216.2 162.3,2216.2 163.3,2216.2 164.4,2216.2 165.4,2216.2 166.5,2216.1 167.5,2216.1 168.6,2216.0 169.7,2215.9 170.7,2215.8 171.8,2215.7 172.8,2215.5 173.8,2215.3 174.9,2215.0 175.9,2214.6 177.0,2214.1 178.1,2213.5 179.1,2212.7 180.2,2211.6 181.2,2210.0 182.2,2207.5 183.3,2203.5 184.3,2194.4 185.4,2183.0 186.4,2162.1 187.5,2120.4 188.6,2058.5 189.6,1989.2 190.7,1936.3 191.7,1892.6 192.8,1885.2 193.8,1882.5 194.8,1881.1 195.9,1880.4 196.9,1880.1 198.0,1880.0 199.1,1879.9 200.1,1879.8 201.2,1879.8 202.2,1879.8 203.2,1879.8 204.3,1879.8 205.3,1879.8 206.4,1879.8 207.4,1879.8 208.5,1879.8 209.6,1879.8 210.6,1879.8 211.6,1879.8 212.7,1879.8 213.8,1879.8 214.8,1879.8 215.8,1879.8 216.9,1879.8 217.9,1879.8 219.0,1879.8 220.1,1879.8 221.1,1879.8 222.1,1879.8 223.2,1879.8 224.2,1879.8 225.3,1879.8 226.3,1879.8 227.4,1879.8 228.4,1879.8 229.5,1879.8 230.6,1879.8 231.6,1879.8 232.6,1879.8 233.7,1879.8 234.8,1879.8 235.8,1879.8 236.8,1879.8 237.9,1879.8 238.9,1879.8 240.0,1879.8 241.1,1879.8 242.1,1879.8 243.1,1879.8 244.2,1879.8 245.2,1879.8 246.3,1879.8 247.3,1879.8 248.4,1879.8 249.4,1879.8 250.5,1879.8 251.6,1879.8 252.6,1879.8 253.7,1879.8 254.7,1879.8 255.8,1879.8 256.8,1879.8 257.9,1879.8 258.9,1879.8 259.9,1879.8 261.0,1879.8 262.1,1879.8 263.1,1879.8 264.1,1879.8 265.2,1879.8 266.2,1879.8 267.3,1879.8 268.4,1879.8 269.4,1879.8 270.4,1879.8 271.5,1879.8 272.6,1879.8 273.6,1879.8 274.6,1879.8 275.7,1879.8 276.8,1879.8 277.8,1879.8 278.9,1879.8 279.9,1879.8 280.9,1879.8 282.0,1879.8 283.1,1879.8 284.1,1879.8 285.1,1879.8 286.2,1879.8 287.2,1879.8 288.3,1879.8 289.4,1879.8 290.4,1879.8 291.4,1879.8 292.5,1879.8 293.6,1879.8 294.6,1879.8 295.6,1879.8 296.7,1879.8 297.8,1879.8 298.8,1879.8 299.9,1879.8 300.9,1879.8 301.9,1879.8 303.0,1879.8 304.1,1879.8 305.1,1879.8 306.1,1879.8 307.2,1879.8 308.2,1879.8 309.3,1879.8 310.4,1879.8 311.4,1879.8 312.4,1879.8 313.5,1879.8 314.6,1879.8 315.6,1879.8 316.6,1879.8 317.7,1879.8 318.8,1879.8 319.8,1879.8 320.9,1879.8 321.9,1879.8 322.9,1879.8 324.0,1879.8 325.1,1879.8 326.1,1879.8 327.1,1879.8 328.2,1879.8 329.2,1879.8 330.3,1879.8 331.4,1879.8 332.4,1879.8 333.4,1879.8 334.5,1879.8 335.6,1879.8 336.6,1879.8 337.6,1879.8 338.7,1879.8 339.8,1879.8 340.8,1879.8 341.9,1879.8 342.9,1879.8 343.9,1879.8 345.0,1879.8 346.1,1879.8 347.1,1879.8 348.1,1879.8 349.2,1879.8 350.2,1879.8 351.3,1879.8 352.4,1879.8 353.4,1879.8 354.5,1879.8 355.5,1879.8 356.6,1879.8 357.6,1879.8 358.6,1879.8 359.7,1879.8 360.8,1879.8 361.8,1879.8 362.9,1879.8 363.9,1879.8 365.0,1879.8 366.0,1879.8 367.1,1879.8 368.1,1879.8 369.1,1879.8 370.2,1879.8 371.2,1879.8 372.3,1879.8 373.4,1879.8 374.4,1879.8 375.5,1879.8 376.5,1879.8 377.6,1879.8 378.6,1879.8 379.6,1879.8 380.7,1879.8 381.8,1879.8 382.8,1879.8 383.9,1879.8 384.9,1879.8 386.0,1879.8 387.0,1879.8 388.1,1879.8 389.1,1879.8 390.1,1879.8 391.2,1879.8 392.2,1879.8 393.3,1879.8 394.4,1879.8 395.4,1879.8 396.5,1879.8 397.5,1879.8 398.6,1879.8 399.6,1879.8 400.6,1879.8 401.7,1879.8 402.8,1879.8 403.8,1879.8 404.9,1879.8 405.9,1879.8 407.0,1879.8 408.0,1879.8 409.0,1879.8 410.1,1879.8 411.1,1879.8 412.2,1879.8 413.2,1879.8 414.3,1879.8 415.4,1879.8 416.4,1879.8 417.5,1879.8 418.5,1879.8 419.5,1879.8 420.6,1879.8 421.6,1879.8 422.7,1879.8 423.8,1879.8 424.8,1879.8 425.9,1879.8 426.9,1879.8 428.0,1879.8 429.0,1879.8 430.0,1879.8 431.1,1879.8 432.1,1879.8 433.2,1879.8 434.2,1879.8 435.3,1879.8 436.4,1879.8 437.4,1879.8 438.5,1879.8 439.5,1879.8 440.5,1879.8 441.6,1879.8 442.6,1879.8 443.7,1879.8 444.8,1879.8 445.8,1879.8 446.9,1879.8 447.9,1879.8 449.0,1879.8 450.0,1879.8 451.0,1879.8 452.1,1879.8 453.1,1879.8 454.2,1879.8 455.2,1879.8 456.3,1879.8 457.4,1879.8 458.4,1879.8 459.5,1879.8 460.5,1879.8 461.5,1879.8 462.6,1879.8 463.6,1879.8 464.7,1879.8 465.8,1879.8 466.8,1879.8 467.9,1879.8 468.9,1879.8 470.0,1879.8 471.0,1879.8 472.0,1879.8 473.1,1879.8 474.1,1879.8 475.2,1879.8 476.2,1879.8 477.3,1879.8 478.4,1879.8 479.4,1879.8 480.5,1879.8 481.5,1879.8 482.5,1879.8 483.6,1879.8 484.6,1879.8 485.7,1879.8 486.8,1879.8 487.8,1879.8 488.9,1879.8 489.9,1879.8 491.0,1879.8 492.0,1879.8 493.0,1879.8 494.1,1879.8 495.1,1879.8 496.2,1879.8 497.2,1879.8 498.3,1879.8 499.4,1879.8 500.4,1879.8 501.5,1879.8 502.5,1879.8 503.5,1879.8 504.6,1879.8 505.6,1879.8 506.7,1879.8 507.8,1879.8 508.8,1879.8 509.9,1879.8 510.9,1879.8 512.0,1879.8 513.0,1879.8 514.0,1879.8 515.1,1879.8 516.1,1879.8 517.2,1879.8 518.2,1879.8 519.3,1879.8 520.4,1879.8 521.4,1879.8 522.5,1879.8 523.5,1879.8 524.5,1879.8 525.6,1879.8 526.6,1879.8 527.7,1879.8 528.8,1879.8 529.8,1879.8 530.9,1879.8 531.9,1879.8 533.0,1879.8 534.0,1879.8 535.0,1879.8 536.1,1879.8 537.1,1879.8 538.2,1879.8 539.2,1879.8 540.3,1879.8 541.4,1879.8 542.4,1879.8 543.5,1879.8 544.5,1879.8 545.5,1879.8 546.6,1879.8 547.6,1879.8 548.7,1879.8 549.8,1879.8 550.8,1879.8 551.9,1879.8 552.9,1879.8 554.0,1879.8 555.0,1879.8 556.1,1879.8 557.1,1879.8 558.1,1879.8 559.2,1879.8 560.2,1879.8 561.3,1879.8 562.4,1879.8 563.4,1879.8 564.5,1879.8 565.5,1879.8 566.6,1879.8 567.6,1879.8 568.6,1879.8 569.7,1879.8 570.8,1879.8 571.8,1879.8 572.9,1879.8 573.9,1879.8 575.0,1879.8 576.0,1879.8 577.1,1879.8 578.1,1879.8 579.1,1879.8 580.2,1879.8 581.2,1879.8 582.3,1879.8 583.4,1879.8 584.4,1879.8 585.5,1879.8 586.5,1879.8 587.6,1879.8 588.6,1879.8 589.6,1879.8 590.7,1879.8 591.8,1879.8 592.8,1879.8 593.9,1879.8 594.9,1879.8 596.0,1879.8 597.0,1879.8 598.1,1879.8 599.1,1879.8 600.1,1879.8 601.2,1879.8 602.2,1879.8 603.3,1879.8 604.4,1879.8 605.4,1879.8 606.5,1879.8 607.5,1879.8 608.6,1879.8 609.6,1879.8 610.6,1879.8 611.7,1879.8 612.8,1879.8 613.8,1879.8 614.9,1879.8 615.9,1879.8 617.0,1879.8 618.0,1879.8 619.1,1879.8 620.1,1879.8 621.1,1879.8 622.2,1879.8 623.2,1879.8 624.3,1879.8 625.4,1879.8 626.4,1879.8 627.5,1879.8 628.5,1879.8 629.6,1879.8 630.6,1879.8 631.6,1879.8 632.7,1879.8 633.8,1879.8 634.8,1879.8 635.9,1879.8 636.9,1879.8 638.0,1879.8 639.0,1879.8 640.1,1879.8 641.1,1879.8 642.1,1879.8 643.2,1879.8 644.2,1879.8 645.3,1879.8 646.4,1879.8 647.4,1879.8 648.5,1879.8 649.5,1879.8 650.6,1879.8 651.6,1879.8 652.6,1879.8 653.7,1879.8 654.8,1879.8 655.8,1879.8 656.9,1879.8 657.9,1879.8 659.0,1879.8 660.0,1879.8 661.1,1879.8 662.1,1879.8 663.2,1879.8 664.2,1879.8 665.2,1879.8 666.3,1879.8 667.4,1879.8 668.4,1879.8 669.5,1879.8 670.5,1879.8 671.6,1879.8 672.6,1879.8" fill="none" stroke="#e8700f" stroke-width="2.2" stroke-linejoin="round" marker-start="url(#mTri)" marker-mid="url(#mTri)" marker-end="url(#mTri)"/>
<polyline points="147.6,2216.3 148.7,2216.3 149.7,2216.3 150.8,2216.3 151.8,2216.3 152.8,2216.3 153.9,2216.3 154.9,2216.3 156.0,2216.3 157.0,2216.3 158.1,2216.3 159.2,2216.3 160.2,2216.3 161.2,2216.3 162.3,2216.3 163.3,2216.3 164.4,2216.3 165.4,2216.3 166.5,2216.3 167.5,2216.3 168.6,2216.3 169.7,2216.3 170.7,2216.3 171.8,2216.3 172.8,2216.3 173.8,2216.3 174.9,2216.3 175.9,2216.3 177.0,2216.3 178.1,2216.3 179.1,2216.3 180.2,2216.3 181.2,2216.3 182.2,2216.3 183.3,2216.2 184.3,2216.2 185.4,2216.2 186.4,2216.2 187.5,2216.2 188.6,2216.2 189.6,2216.2 190.7,2216.2 191.7,2216.2 192.8,2216.1 193.8,2216.1 194.8,2216.1 195.9,2216.1 196.9,2216.0 198.0,2216.0 199.1,2216.0 200.1,2215.9 201.2,2215.9 202.2,2215.8 203.2,2215.8 204.3,2215.7 205.3,2215.6 206.4,2215.5 207.4,2215.4 208.5,2215.3 209.6,2215.1 210.6,2215.0 211.6,2214.8 212.7,2214.5 213.8,2214.2 214.8,2213.8 215.8,2213.4 216.9,2212.9 217.9,2212.2 219.0,2211.5 220.1,2210.6 221.1,2209.6 222.1,2208.5 223.2,2207.5 224.2,2206.0 225.3,2203.5 226.3,2196.8 227.4,2187.4 228.4,2178.3 229.5,2164.5 230.6,2150.7 231.6,2127.5 232.6,2090.8 233.7,2046.7 234.8,1998.6 235.8,1956.9 236.8,1924.9 237.9,1904.0 238.9,1893.9 240.0,1888.2 241.1,1884.7 242.1,1882.6 243.1,1881.5 244.2,1880.8 245.2,1880.4 246.3,1880.2 247.3,1880.0 248.4,1880.0 249.4,1879.9 250.5,1879.9 251.6,1879.9 252.6,1879.8 253.7,1879.8 254.7,1879.8 255.8,1879.8 256.8,1879.8 257.9,1879.8 258.9,1879.8 259.9,1879.8 261.0,1879.8 262.1,1879.8 263.1,1879.8 264.1,1879.8 265.2,1879.8 266.2,1879.8 267.3,1879.8 268.4,1879.8 269.4,1879.8 270.4,1879.8 271.5,1879.8 272.6,1879.8 273.6,1879.8 274.6,1879.8 275.7,1879.8 276.8,1879.8 277.8,1879.8 278.9,1879.8 279.9,1879.8 280.9,1879.8 282.0,1879.8 283.1,1879.8 284.1,1879.8 285.1,1879.8 286.2,1879.8 287.2,1879.8 288.3,1879.8 289.4,1879.8 290.4,1879.8 291.4,1879.8 292.5,1879.8 293.6,1879.8 294.6,1879.8 295.6,1879.8 296.7,1879.8 297.8,1879.8 298.8,1879.8 299.9,1879.8 300.9,1879.8 301.9,1879.8 303.0,1879.8 304.1,1879.8 305.1,1879.8 306.1,1879.8 307.2,1879.8 308.2,1879.8 309.3,1879.8 310.4,1879.8 311.4,1879.8 312.4,1879.8 313.5,1879.8 314.6,1879.8 315.6,1879.8 316.6,1879.8 317.7,1879.8 318.8,1879.8 319.8,1879.8 320.9,1879.8 321.9,1879.8 322.9,1879.8 324.0,1879.8 325.1,1879.8 326.1,1879.8 327.1,1879.8 328.2,1879.8 329.2,1879.8 330.3,1879.8 331.4,1879.8 332.4,1879.8 333.4,1879.8 334.5,1879.8 335.6,1879.8 336.6,1879.8 337.6,1879.8 338.7,1879.8 339.8,1879.8 340.8,1879.8 341.9,1879.8 342.9,1879.8 343.9,1879.8 345.0,1879.8 346.1,1879.8 347.1,1879.8 348.1,1879.8 349.2,1879.8 350.2,1879.8 351.3,1879.8 352.4,1879.8 353.4,1879.8 354.5,1879.8 355.5,1879.8 356.6,1879.8 357.6,1879.8 358.6,1879.8 359.7,1879.8 360.8,1879.8 361.8,1879.8 362.9,1879.8 363.9,1879.8 365.0,1879.8 366.0,1879.8 367.1,1879.8 368.1,1879.8 369.1,1879.8 370.2,1879.8 371.2,1879.8 372.3,1879.8 373.4,1879.8 374.4,1879.8 375.5,1879.8 376.5,1879.8 377.6,1879.8 378.6,1879.8 379.6,1879.8 380.7,1879.8 381.8,1879.8 382.8,1879.8 383.9,1879.8 384.9,1879.8 386.0,1879.8 387.0,1879.8 388.1,1879.8 389.1,1879.8 390.1,1879.8 391.2,1879.8 392.2,1879.8 393.3,1879.8 394.4,1879.8 395.4,1879.8 396.5,1879.8 397.5,1879.8 398.6,1879.8 399.6,1879.8 400.6,1879.8 401.7,1879.8 402.8,1879.8 403.8,1879.8 404.9,1879.8 405.9,1879.8 407.0,1879.8 408.0,1879.8 409.0,1879.8 410.1,1879.8 411.1,1879.8 412.2,1879.8 413.2,1879.8 414.3,1879.8 415.4,1879.8 416.4,1879.8 417.5,1879.8 418.5,1879.8 419.5,1879.8 420.6,1879.8 421.6,1879.8 422.7,1879.8 423.8,1879.8 424.8,1879.8 425.9,1879.8 426.9,1879.8 428.0,1879.8 429.0,1879.8 430.0,1879.8 431.1,1879.8 432.1,1879.8 433.2,1879.8 434.2,1879.8 435.3,1879.8 436.4,1879.8 437.4,1879.8 438.5,1879.8 439.5,1879.8 440.5,1879.8 441.6,1879.8 442.6,1879.8 443.7,1879.8 444.8,1879.8 445.8,1879.8 446.9,1879.8 447.9,1879.8 449.0,1879.8 450.0,1879.8 451.0,1879.8 452.1,1879.8 453.1,1879.8 454.2,1879.8 455.2,1879.8 456.3,1879.8 457.4,1879.8 458.4,1879.8 459.5,1879.8 460.5,1879.8 461.5,1879.8 462.6,1879.8 463.6,1879.8 464.7,1879.8 465.8,1879.8 466.8,1879.8 467.9,1879.8 468.9,1879.8 470.0,1879.8 471.0,1879.8 472.0,1879.8 473.1,1879.8 474.1,1879.8 475.2,1879.8 476.2,1879.8 477.3,1879.8 478.4,1879.8 479.4,1879.8 480.5,1879.8 481.5,1879.8 482.5,1879.8 483.6,1879.8 484.6,1879.8 485.7,1879.8 486.8,1879.8 487.8,1879.8 488.9,1879.8 489.9,1879.8 491.0,1879.8 492.0,1879.8 493.0,1879.8 494.1,1879.8 495.1,1879.8 496.2,1879.8 497.2,1879.8 498.3,1879.8 499.4,1879.8 500.4,1879.8 501.5,1879.8 502.5,1879.8 503.5,1879.8 504.6,1879.8 505.6,1879.8 506.7,1879.8 507.8,1879.8 508.8,1879.8 509.9,1879.8 510.9,1879.8 512.0,1879.8 513.0,1879.8 514.0,1879.8 515.1,1879.8 516.1,1879.8 517.2,1879.8 518.2,1879.8 519.3,1879.8 520.4,1879.8 521.4,1879.8 522.5,1879.8 523.5,1879.8 524.5,1879.8 525.6,1879.8 526.6,1879.8 527.7,1879.8 528.8,1879.8 529.8,1879.8 530.9,1879.8 531.9,1879.8 533.0,1879.8 534.0,1879.8 535.0,1879.8 536.1,1879.8 537.1,1879.8 538.2,1879.8 539.2,1879.8 540.3,1879.8 541.4,1879.8 542.4,1879.8 543.5,1879.8 544.5,1879.8 545.5,1879.8 546.6,1879.8 547.6,1879.8 548.7,1879.8 549.8,1879.8 550.8,1879.8 551.9,1879.8 552.9,1879.8 554.0,1879.8 555.0,1879.8 556.1,1879.8 557.1,1879.8 558.1,1879.8 559.2,1879.8 560.2,1879.8 561.3,1879.8 562.4,1879.8 563.4,1879.8 564.5,1879.8 565.5,1879.8 566.6,1879.8 567.6,1879.8 568.6,1879.8 569.7,1879.8 570.8,1879.8 571.8,1879.8 572.9,1879.8 573.9,1879.8 575.0,1879.8 576.0,1879.8 577.1,1879.8 578.1,1879.8 579.1,1879.8 580.2,1879.8 581.2,1879.8 582.3,1879.8 583.4,1879.8 584.4,1879.8 585.5,1879.8 586.5,1879.8 587.6,1879.8 588.6,1879.8 589.6,1879.8 590.7,1879.8 591.8,1879.8 592.8,1879.8 593.9,1879.8 594.9,1879.8 596.0,1879.8 597.0,1879.8 598.1,1879.8 599.1,1879.8 600.1,1879.8 601.2,1879.8 602.2,1879.8 603.3,1879.8 604.4,1879.8 605.4,1879.8 606.5,1879.8 607.5,1879.8 608.6,1879.8 609.6,1879.8 610.6,1879.8 611.7,1879.8 612.8,1879.8 613.8,1879.8 614.9,1879.8 615.9,1879.8 617.0,1879.8 618.0,1879.8 619.1,1879.8 620.1,1879.8 621.1,1879.8 622.2,1879.8 623.2,1879.8 624.3,1879.8 625.4,1879.8 626.4,1879.8 627.5,1879.8 628.5,1879.8 629.6,1879.8 630.6,1879.8 631.6,1879.8 632.7,1879.8 633.8,1879.8 634.8,1879.8 635.9,1879.8 636.9,1879.8 638.0,1879.8 639.0,1879.8 640.1,1879.8 641.1,1879.8 642.1,1879.8 643.2,1879.8 644.2,1879.8 645.3,1879.8 646.4,1879.8 647.4,1879.8 648.5,1879.8 649.5,1879.8 650.6,1879.8 651.6,1879.8 652.6,1879.8 653.7,1879.8 654.8,1879.8 655.8,1879.8 656.9,1879.8 657.9,1879.8 659.0,1879.8 660.0,1879.8 661.1,1879.8 662.1,1879.8 663.2,1879.8 664.2,1879.8 665.2,1879.8 666.3,1879.8 667.4,1879.8 668.4,1879.8 669.5,1879.8 670.5,1879.8 671.6,1879.8 672.6,1879.8" fill="none" stroke="#5a8ad6" stroke-width="2.2" stroke-linejoin="round" marker-start="url(#mX)" marker-mid="url(#mX)" marker-end="url(#mX)"/>
<polyline points="147.6,2216.3 148.7,2216.3 149.7,2216.3 150.8,2216.3 151.8,2216.3 152.8,2216.3 153.9,2216.3 154.9,2216.3 156.0,2216.3 157.0,2216.3 158.1,2216.3 159.2,2216.3 160.2,2216.3 161.2,2216.3 162.3,2216.3 163.3,2216.3 164.4,2216.3 165.4,2216.3 166.5,2216.3 167.5,2216.3 168.6,2216.3 169.7,2216.3 170.7,2216.3 171.8,2216.3 172.8,2216.3 173.8,2216.3 174.9,2216.3 175.9,2216.3 177.0,2216.3 178.1,2216.3 179.1,2216.3 180.2,2216.3 181.2,2216.3 182.2,2216.3 183.3,2216.3 184.3,2216.3 185.4,2216.3 186.4,2216.3 187.5,2216.3 188.6,2216.3 189.6,2216.3 190.7,2216.3 191.7,2216.3 192.8,2216.3 193.8,2216.3 194.8,2216.3 195.9,2216.3 196.9,2216.3 198.0,2216.3 199.1,2216.3 200.1,2216.3 201.2,2216.3 202.2,2216.3 203.2,2216.3 204.3,2216.3 205.3,2216.3 206.4,2216.3 207.4,2216.3 208.5,2216.3 209.6,2216.3 210.6,2216.3 211.6,2216.3 212.7,2216.3 213.8,2216.3 214.8,2216.3 215.8,2216.3 216.9,2216.3 217.9,2216.3 219.0,2216.3 220.1,2216.3 221.1,2216.3 222.1,2216.3 223.2,2216.2 224.2,2216.2 225.3,2216.2 226.3,2216.2 227.4,2216.2 228.4,2216.2 229.5,2216.2 230.6,2216.2 231.6,2216.2 232.6,2216.2 233.7,2216.2 234.8,2216.2 235.8,2216.2 236.8,2216.2 237.9,2216.2 238.9,2216.2 240.0,2216.1 241.1,2216.1 242.1,2216.1 243.1,2216.1 244.2,2216.1 245.2,2216.1 246.3,2216.1 247.3,2216.0 248.4,2216.0 249.4,2216.0 250.5,2215.9 251.6,2215.9 252.6,2215.9 253.7,2215.8 254.7,2215.7 255.8,2215.6 256.8,2215.5 257.9,2215.4 258.9,2215.3 259.9,2215.1 261.0,2215.0 262.1,2214.7 263.1,2214.5 264.1,2214.1 265.2,2213.7 266.2,2213.2 267.3,2212.6 268.4,2212.0 269.4,2211.2 270.4,2210.4 271.5,2209.6 272.6,2208.7 273.6,2207.9 274.6,2207.0 275.7,2206.1 276.8,2205.1 277.8,2204.0 278.9,2202.8 279.9,2201.3 280.9,2199.5 282.0,2197.2 283.1,2194.4 284.1,2191.0 285.1,2187.1 286.2,2182.7 287.2,2177.5 288.3,2171.6 289.4,2165.8 290.4,2161.3 291.4,2155.7 292.5,2142.3 293.6,2125.4 294.6,2106.9 295.6,2081.7 296.7,2048.1 297.8,2017.1 298.8,1984.8 299.9,1956.9 300.9,1929.3 301.9,1899.3 303.0,1890.7 304.1,1886.5 305.1,1883.9 306.1,1882.3 307.2,1881.5 308.2,1881.0 309.3,1880.7 310.4,1880.4 311.4,1880.3 312.4,1880.2 313.5,1880.1 314.6,1880.0 315.6,1880.0 316.6,1879.9 317.7,1879.9 318.8,1879.9 319.8,1879.8 320.9,1879.8 321.9,1879.8 322.9,1879.8 324.0,1879.8 325.1,1879.8 326.1,1879.8 327.1,1879.8 328.2,1879.8 329.2,1879.8 330.3,1879.8 331.4,1879.8 332.4,1879.8 333.4,1879.8 334.5,1879.8 335.6,1879.8 336.6,1879.8 337.6,1879.8 338.7,1879.8 339.8,1879.8 340.8,1879.8 341.9,1879.8 342.9,1879.8 343.9,1879.8 345.0,1879.8 346.1,1879.8 347.1,1879.8 348.1,1879.8 349.2,1879.8 350.2,1879.8 351.3,1879.8 352.4,1879.8 353.4,1879.8 354.5,1879.8 355.5,1879.8 356.6,1879.8 357.6,1879.8 358.6,1879.8 359.7,1879.8 360.8,1879.8 361.8,1879.8 362.9,1879.8 363.9,1879.8 365.0,1879.8 366.0,1879.8 367.1,1879.8 368.1,1879.8 369.1,1879.8 370.2,1879.8 371.2,1879.8 372.3,1879.8 373.4,1879.8 374.4,1879.8 375.5,1879.8 376.5,1879.8 377.6,1879.8 378.6,1879.8 379.6,1879.8 380.7,1879.8 381.8,1879.8 382.8,1879.8 383.9,1879.8 384.9,1879.8 386.0,1879.8 387.0,1879.8 388.1,1879.8 389.1,1879.8 390.1,1879.8 391.2,1879.8 392.2,1879.8 393.3,1879.8 394.4,1879.8 395.4,1879.8 396.5,1879.8 397.5,1879.8 398.6,1879.8 399.6,1879.8 400.6,1879.8 401.7,1879.8 402.8,1879.8 403.8,1879.8 404.9,1879.8 405.9,1879.8 407.0,1879.8 408.0,1879.8 409.0,1879.8 410.1,1879.8 411.1,1879.8 412.2,1879.8 413.2,1879.8 414.3,1879.8 415.4,1879.8 416.4,1879.8 417.5,1879.8 418.5,1879.8 419.5,1879.8 420.6,1879.8 421.6,1879.8 422.7,1879.8 423.8,1879.8 424.8,1879.8 425.9,1879.8 426.9,1879.8 428.0,1879.8 429.0,1879.8 430.0,1879.8 431.1,1879.8 432.1,1879.8 433.2,1879.8 434.2,1879.8 435.3,1879.8 436.4,1879.8 437.4,1879.8 438.5,1879.8 439.5,1879.8 440.5,1879.8 441.6,1879.8 442.6,1879.8 443.7,1879.8 444.8,1879.8 445.8,1879.8 446.9,1879.8 447.9,1879.8 449.0,1879.8 450.0,1879.8 451.0,1879.8 452.1,1879.8 453.1,1879.8 454.2,1879.8 455.2,1879.8 456.3,1879.8 457.4,1879.8 458.4,1879.8 459.5,1879.8 460.5,1879.8 461.5,1879.8 462.6,1879.8 463.6,1879.8 464.7,1879.8 465.8,1879.8 466.8,1879.8 467.9,1879.8 468.9,1879.8 470.0,1879.8 471.0,1879.8 472.0,1879.8 473.1,1879.8 474.1,1879.8 475.2,1879.8 476.2,1879.8 477.3,1879.8 478.4,1879.8 479.4,1879.8 480.5,1879.8 481.5,1879.8 482.5,1879.8 483.6,1879.8 484.6,1879.8 485.7,1879.8 486.8,1879.8 487.8,1879.8 488.9,1879.8 489.9,1879.8 491.0,1879.8 492.0,1879.8 493.0,1879.8 494.1,1879.8 495.1,1879.8 496.2,1879.8 497.2,1879.8 498.3,1879.8 499.4,1879.8 500.4,1879.8 501.5,1879.8 502.5,1879.8 503.5,1879.8 504.6,1879.8 505.6,1879.8 506.7,1879.8 507.8,1879.8 508.8,1879.8 509.9,1879.8 510.9,1879.8 512.0,1879.8 513.0,1879.8 514.0,1879.8 515.1,1879.8 516.1,1879.8 517.2,1879.8 518.2,1879.8 519.3,1879.8 520.4,1879.8 521.4,1879.8 522.5,1879.8 523.5,1879.8 524.5,1879.8 525.6,1879.8 526.6,1879.8 527.7,1879.8 528.8,1879.8 529.8,1879.8 530.9,1879.8 531.9,1879.8 533.0,1879.8 534.0,1879.8 535.0,1879.8 536.1,1879.8 537.1,1879.8 538.2,1879.8 539.2,1879.8 540.3,1879.8 541.4,1879.8 542.4,1879.8 543.5,1879.8 544.5,1879.8 545.5,1879.8 546.6,1879.8 547.6,1879.8 548.7,1879.8 549.8,1879.8 550.8,1879.8 551.9,1879.8 552.9,1879.8 554.0,1879.8 555.0,1879.8 556.1,1879.8 557.1,1879.8 558.1,1879.8 559.2,1879.8 560.2,1879.8 561.3,1879.8 562.4,1879.8 563.4,1879.8 564.5,1879.8 565.5,1879.8 566.6,1879.8 567.6,1879.8 568.6,1879.8 569.7,1879.8 570.8,1879.8 571.8,1879.8 572.9,1879.8 573.9,1879.8 575.0,1879.8 576.0,1879.8 577.1,1879.8 578.1,1879.8 579.1,1879.8 580.2,1879.8 581.2,1879.8 582.3,1879.8 583.4,1879.8 584.4,1879.8 585.5,1879.8 586.5,1879.8 587.6,1879.8 588.6,1879.8 589.6,1879.8 590.7,1879.8 591.8,1879.8 592.8,1879.8 593.9,1879.8 594.9,1879.8 596.0,1879.8 597.0,1879.8 598.1,1879.8 599.1,1879.8 600.1,1879.8 601.2,1879.8 602.2,1879.8 603.3,1879.8 604.4,1879.8 605.4,1879.8 606.5,1879.8 607.5,1879.8 608.6,1879.8 609.6,1879.8 610.6,1879.8 611.7,1879.8 612.8,1879.8 613.8,1879.8 614.9,1879.8 615.9,1879.8 617.0,1879.8 618.0,1879.8 619.1,1879.8 620.1,1879.8 621.1,1879.8 622.2,1879.8 623.2,1879.8 624.3,1879.8 625.4,1879.8 626.4,1879.8 627.5,1879.8 628.5,1879.8 629.6,1879.8 630.6,1879.8 631.6,1879.8 632.7,1879.8 633.8,1879.8 634.8,1879.8 635.9,1879.8 636.9,1879.8 638.0,1879.8 639.0,1879.8 640.1,1879.8 641.1,1879.8 642.1,1879.8 643.2,1879.8 644.2,1879.8 645.3,1879.8 646.4,1879.8 647.4,1879.8 648.5,1879.8 649.5,1879.8 650.6,1879.8 651.6,1879.8 652.6,1879.8 653.7,1879.8 654.8,1879.8 655.8,1879.8 656.9,1879.8 657.9,1879.8 659.0,1879.8 660.0,1879.8 661.1,1879.8 662.1,1879.8 663.2,1879.8 664.2,1879.8 665.2,1879.8 666.3,1879.8 667.4,1879.8 668.4,1879.8 669.5,1879.8 670.5,1879.8 671.6,1879.8 672.6,1879.8" fill="none" stroke="#00b050" stroke-width="2.2" stroke-linejoin="round" marker-start="url(#mCir)" marker-mid="url(#mCir)" marker-end="url(#mCir)"/>
<polyline points="147.6,2216.3 148.7,2216.3 149.7,2216.3 150.8,2216.3 151.8,2216.3 152.8,2216.3 153.9,2216.3 154.9,2216.3 156.0,2216.3 157.0,2216.3 158.1,2216.3 159.2,2216.3 160.2,2216.3 161.2,2216.3 162.3,2216.3 163.3,2216.3 164.4,2216.3 165.4,2216.3 166.5,2216.3 167.5,2216.3 168.6,2216.3 169.7,2216.3 170.7,2216.3 171.8,2216.3 172.8,2216.3 173.8,2216.3 174.9,2216.3 175.9,2216.3 177.0,2216.3 178.1,2216.3 179.1,2216.3 180.2,2216.3 181.2,2216.3 182.2,2216.3 183.3,2216.3 184.3,2216.3 185.4,2216.3 186.4,2216.3 187.5,2216.3 188.6,2216.3 189.6,2216.3 190.7,2216.3 191.7,2216.3 192.8,2216.3 193.8,2216.3 194.8,2216.3 195.9,2216.3 196.9,2216.3 198.0,2216.3 199.1,2216.3 200.1,2216.3 201.2,2216.3 202.2,2216.3 203.2,2216.3 204.3,2216.3 205.3,2216.3 206.4,2216.3 207.4,2216.3 208.5,2216.3 209.6,2216.3 210.6,2216.3 211.6,2216.3 212.7,2216.3 213.8,2216.3 214.8,2216.3 215.8,2216.3 216.9,2216.3 217.9,2216.3 219.0,2216.3 220.1,2216.3 221.1,2216.3 222.1,2216.3 223.2,2216.3 224.2,2216.3 225.3,2216.3 226.3,2216.3 227.4,2216.3 228.4,2216.3 229.5,2216.3 230.6,2216.3 231.6,2216.3 232.6,2216.3 233.7,2216.3 234.8,2216.3 235.8,2216.3 236.8,2216.3 237.9,2216.3 238.9,2216.3 240.0,2216.3 241.1,2216.2 242.1,2216.2 243.1,2216.2 244.2,2216.2 245.2,2216.2 246.3,2216.2 247.3,2216.2 248.4,2216.2 249.4,2216.2 250.5,2216.2 251.6,2216.2 252.6,2216.2 253.7,2216.2 254.7,2216.2 255.8,2216.2 256.8,2216.2 257.9,2216.2 258.9,2216.2 259.9,2216.2 261.0,2216.2 262.1,2216.2 263.1,2216.2 264.1,2216.2 265.2,2216.2 266.2,2216.2 267.3,2216.2 268.4,2216.2 269.4,2216.1 270.4,2216.1 271.5,2216.1 272.6,2216.1 273.6,2216.1 274.6,2216.1 275.7,2216.1 276.8,2216.1 277.8,2216.1 278.9,2216.1 279.9,2216.1 280.9,2216.1 282.0,2216.0 283.1,2216.0 284.1,2216.0 285.1,2216.0 286.2,2216.0 287.2,2216.0 288.3,2216.0 289.4,2216.0 290.4,2215.9 291.4,2215.9 292.5,2215.9 293.6,2215.9 294.6,2215.9 295.6,2215.8 296.7,2215.8 297.8,2215.8 298.8,2215.8 299.9,2215.8 300.9,2215.7 301.9,2215.7 303.0,2215.7 304.1,2215.7 305.1,2215.6 306.1,2215.6 307.2,2215.6 308.2,2215.5 309.3,2215.5 310.4,2215.4 311.4,2215.4 312.4,2215.4 313.5,2215.3 314.6,2215.3 315.6,2215.2 316.6,2215.1 317.7,2215.1 318.8,2215.0 319.8,2214.9 320.9,2214.8 321.9,2214.8 322.9,2214.7 324.0,2214.6 325.1,2214.5 326.1,2214.4 327.1,2214.3 328.2,2214.1 329.2,2214.0 330.3,2213.9 331.4,2213.7 332.4,2213.6 333.4,2213.4 334.5,2213.3 335.6,2213.1 336.6,2212.9 337.6,2212.7 338.7,2212.6 339.8,2212.3 340.8,2212.1 341.9,2211.9 342.9,2211.7 343.9,2211.4 345.0,2211.1 346.1,2210.9 347.1,2210.6 348.1,2210.2 349.2,2209.9 350.2,2209.5 351.3,2209.2 352.4,2208.7 353.4,2208.3 354.5,2207.8 355.5,2207.3 356.6,2206.8 357.6,2206.2 358.6,2205.6 359.7,2204.9 360.8,2204.2 361.8,2203.5 362.9,2202.6 363.9,2201.8 365.0,2200.8 366.0,2199.8 367.1,2198.7 368.1,2197.5 369.1,2196.2 370.2,2194.7 371.2,2193.1 372.3,2191.4 373.4,2189.4 374.4,2187.2 375.5,2184.7 376.5,2181.8 377.6,2178.6 378.6,2174.9 379.6,2170.7 380.7,2165.8 381.8,2160.1 382.8,2153.3 383.9,2145.3 384.9,2136.3 386.0,2126.2 387.0,2115.4 388.1,2103.5 389.1,2090.6 390.1,2076.7 391.2,2062.4 392.2,2048.1 393.3,2034.1 394.4,2020.7 395.4,2007.5 396.5,1994.3 397.5,1980.8 398.6,1967.3 399.6,1954.2 400.6,1941.8 401.7,1930.3 402.8,1919.6 403.8,1910.1 404.9,1902.4 405.9,1896.6 407.0,1892.3 408.0,1889.0 409.0,1886.6 410.1,1884.8 411.1,1883.6 412.2,1882.6 413.2,1881.9 414.3,1881.4 415.4,1881.0 416.4,1880.8 417.5,1880.6 418.5,1880.5 419.5,1880.4 420.6,1880.4 421.6,1880.3 422.7,1880.2 423.8,1880.2 424.8,1880.2 425.9,1880.1 426.9,1880.1 428.0,1880.1 429.0,1880.0 430.0,1880.0 431.1,1880.0 432.1,1879.9 433.2,1879.9 434.2,1879.9 435.3,1879.9 436.4,1879.9 437.4,1879.8 438.5,1879.8 439.5,1879.8 440.5,1879.8 441.6,1879.8 442.6,1879.8 443.7,1879.8 444.8,1879.8 445.8,1879.8 446.9,1879.8 447.9,1879.8 449.0,1879.8 450.0,1879.8 451.0,1879.8 452.1,1879.8 453.1,1879.8 454.2,1879.8 455.2,1879.8 456.3,1879.8 457.4,1879.8 458.4,1879.8 459.5,1879.8 460.5,1879.8 461.5,1879.8 462.6,1879.8 463.6,1879.8 464.7,1879.8 465.8,1879.8 466.8,1879.8 467.9,1879.8 468.9,1879.8 470.0,1879.8 471.0,1879.8 472.0,1879.8 473.1,1879.8 474.1,1879.8 475.2,1879.8 476.2,1879.8 477.3,1879.8 478.4,1879.8 479.4,1879.8 480.5,1879.8 481.5,1879.8 482.5,1879.8 483.6,1879.8 484.6,1879.8 485.7,1879.8 486.8,1879.8 487.8,1879.8 488.9,1879.8 489.9,1879.8 491.0,1879.8 492.0,1879.8 493.0,1879.8 494.1,1879.8 495.1,1879.8 496.2,1879.8 497.2,1879.8 498.3,1879.8 499.4,1879.8 500.4,1879.8 501.5,1879.8 502.5,1879.8 503.5,1879.8 504.6,1879.8 505.6,1879.8 506.7,1879.8 507.8,1879.8 508.8,1879.8 509.9,1879.8 510.9,1879.8 512.0,1879.8 513.0,1879.8 514.0,1879.8 515.1,1879.8 516.1,1879.8 517.2,1879.8 518.2,1879.8 519.3,1879.8 520.4,1879.8 521.4,1879.8 522.5,1879.8 523.5,1879.8 524.5,1879.8 525.6,1879.8 526.6,1879.8 527.7,1879.8 528.8,1879.8 529.8,1879.8 530.9,1879.8 531.9,1879.8 533.0,1879.8 534.0,1879.8 535.0,1879.8 536.1,1879.8 537.1,1879.8 538.2,1879.8 539.2,1879.8 540.3,1879.8 541.4,1879.8 542.4,1879.8 543.5,1879.8 544.5,1879.8 545.5,1879.8 546.6,1879.8 547.6,1879.8 548.7,1879.8 549.8,1879.8 550.8,1879.8 551.9,1879.8 552.9,1879.8 554.0,1879.8 555.0,1879.8 556.1,1879.8 557.1,1879.8 558.1,1879.8 559.2,1879.8 560.2,1879.8 561.3,1879.8 562.4,1879.8 563.4,1879.8 564.5,1879.8 565.5,1879.8 566.6,1879.8 567.6,1879.8 568.6,1879.8 569.7,1879.8 570.8,1879.8 571.8,1879.8 572.9,1879.8 573.9,1879.8 575.0,1879.8 576.0,1879.8 577.1,1879.8 578.1,1879.8 579.1,1879.8 580.2,1879.8 581.2,1879.8 582.3,1879.8 583.4,1879.8 584.4,1879.8 585.5,1879.8 586.5,1879.8 587.6,1879.8 588.6,1879.8 589.6,1879.8 590.7,1879.8 591.8,1879.8 592.8,1879.8 593.9,1879.8 594.9,1879.8 596.0,1879.8 597.0,1879.8 598.1,1879.8 599.1,1879.8 600.1,1879.8 601.2,1879.8 602.2,1879.8 603.3,1879.8 604.4,1879.8 605.4,1879.8 606.5,1879.8 607.5,1879.8 608.6,1879.8 609.6,1879.8 610.6,1879.8 611.7,1879.8 612.8,1879.8 613.8,1879.8 614.9,1879.8 615.9,1879.8 617.0,1879.8 618.0,1879.8 619.1,1879.8 620.1,1879.8 621.1,1879.8 622.2,1879.8 623.2,1879.8 624.3,1879.8 625.4,1879.8 626.4,1879.8 627.5,1879.8 628.5,1879.8 629.6,1879.8 630.6,1879.8 631.6,1879.8 632.7,1879.8 633.8,1879.8 634.8,1879.8 635.9,1879.8 636.9,1879.8 638.0,1879.8 639.0,1879.8 640.1,1879.8 641.1,1879.8 642.1,1879.8 643.2,1879.8 644.2,1879.8 645.3,1879.8 646.4,1879.8 647.4,1879.8 648.5,1879.8 649.5,1879.8 650.6,1879.8 651.6,1879.8 652.6,1879.8 653.7,1879.8 654.8,1879.8 655.8,1879.8 656.9,1879.8 657.9,1879.8 659.0,1879.8 660.0,1879.8 661.1,1879.8 662.1,1879.8 663.2,1879.8 664.2,1879.8 665.2,1879.8 666.3,1879.8 667.4,1879.8 668.4,1879.8 669.5,1879.8 670.5,1879.8 671.6,1879.8 672.6,1879.8" fill="none" stroke="#808080" stroke-width="2.2" stroke-linejoin="round" marker-start="url(#mCirG)" marker-mid="url(#mCirG)" marker-end="url(#mCirG)"/>
<line x1="147.60" y1="2048.10" x2="672.60" y2="2048.10" stroke="#ff0000" stroke-width="6.2"/>
<line x1="146.50" y1="2843.50" x2="146.50" y2="3181.80" stroke="#000" stroke-width="2"/>
<line x1="135.50" y1="3181.80" x2="146.50" y2="3181.80" stroke="#000" stroke-width="2"/>
<line x1="135.50" y1="3012.65" x2="146.50" y2="3012.65" stroke="#000" stroke-width="2"/>
<line x1="135.50" y1="2843.50" x2="146.50" y2="2843.50" stroke="#000" stroke-width="2"/>
<line x1="145.50" y1="3181.80" x2="675.00" y2="3181.80" stroke="#000" stroke-width="2"/>
<line x1="146.50" y1="3181.80" x2="146.50" y2="3190.80" stroke="#000" stroke-width="2"/>
<line x1="252.00" y1="3181.80" x2="252.00" y2="3190.80" stroke="#000" stroke-width="2"/>
<line x1="357.50" y1="3181.80" x2="357.50" y2="3190.80" stroke="#000" stroke-width="2"/>
<line x1="463.00" y1="3181.80" x2="463.00" y2="3190.80" stroke="#000" stroke-width="2"/>
<line x1="568.50" y1="3181.80" x2="568.50" y2="3190.80" stroke="#000" stroke-width="2"/>
<line x1="674.00" y1="3181.80" x2="674.00" y2="3190.80" stroke="#000" stroke-width="2"/>
<text x="69.90" y="3192.16" font-family="'Liberation Sans', Arial, sans-serif" font-size="35.51" textLength="47.40" lengthAdjust="spacingAndGlyphs" fill="#000" stroke="#fff" stroke-width="0.6">0,0</text>
<text x="69.90" y="3023.01" font-family="'Liberation Sans', Arial, sans-serif" font-size="35.51" textLength="47.40" lengthAdjust="spacingAndGlyphs" fill="#000" stroke="#fff" stroke-width="0.6">0,5</text>
<text x="69.90" y="2853.86" font-family="'Liberation Sans', Arial, sans-serif" font-size="35.51" textLength="47.40" lengthAdjust="spacingAndGlyphs" fill="#000" stroke="#fff" stroke-width="0.6">1,0</text>
<text x="137.31" y="3233.56" font-family="'Liberation Sans', Arial, sans-serif" font-size="35.23" textLength="18.42" lengthAdjust="spacingAndGlyphs" fill="#000" stroke="#fff" stroke-width="0.6">0</text>
<text x="223.85" y="3233.56" font-family="'Liberation Sans', Arial, sans-serif" font-size="35.23" textLength="55.25" lengthAdjust="spacingAndGlyphs" fill="#000" stroke="#fff" stroke-width="0.6">100</text>
<text x="329.77" y="3233.56" font-family="'Liberation Sans', Arial, sans-serif" font-size="35.23" textLength="55.25" lengthAdjust="spacingAndGlyphs" fill="#000" stroke="#fff" stroke-width="0.6">200</text>
<text x="435.43" y="3233.56" font-family="'Liberation Sans', Arial, sans-serif" font-size="35.23" textLength="55.25" lengthAdjust="spacingAndGlyphs" fill="#000" stroke="#fff" stroke-width="0.6">300</text>
<text x="541.18" y="3233.56" font-family="'Liberation Sans', Arial, sans-serif" font-size="35.23" textLength="55.25" lengthAdjust="spacingAndGlyphs" fill="#000" stroke="#fff" stroke-width="0.6">400</text>
<text x="646.43" y="3233.56" font-family="'Liberation Sans', Arial, sans-serif" font-size="35.23" textLength="55.25" lengthAdjust="spacingAndGlyphs" fill="#000" stroke="#fff" stroke-width="0.6">500</text>
<text transform="translate(47.86,3088.90) rotate(-90)" x="0" y="0" font-family="'Liberation Sans', Arial, sans-serif" font-size="35.50" textLength="145.08" lengthAdjust="spacingAndGlyphs" fill="#000" stroke="#fff" stroke-width="0.6">ArBr Freq</text>
<text x="313.61" y="3288.26" font-family="'Liberation Sans', Arial, sans-serif" font-size="35.02" textLength="160.67" lengthAdjust="spacingAndGlyphs" fill="#000" stroke="#fff" stroke-width="0.6">generation</text>
<text x="132.91" y="3320.20" font-family="'Liberation Sans', Arial, sans-serif" font-size="28.55" textLength="519.15" lengthAdjust="spacingAndGlyphs" fill="#000">hAr 0,53 - sBtA 0,50 &amp; hBr 0,53 - sBtB 0,50</text>
<text x="329.51" y="3408.00" font-family="'Liberation Serif', 'Times New Roman', serif" font-size="39.69" fill="#000"><tspan font-weight="normal">(</tspan><tspan font-weight="bold">D</tspan><tspan font-weight="normal">)</tspan></text>
<text x="162.93" y="2509.50" font-family="'DejaVu Sans', 'Liberation Sans', sans-serif" font-size="30.00" textLength="146.10" lengthAdjust="spacingAndGlyphs" fill="#000">GF50: 25</text>
<text x="193.55" y="2571.00" font-family="'DejaVu Sans', 'Liberation Sans', sans-serif" font-size="29.73" textLength="145.09" lengthAdjust="spacingAndGlyphs" fill="#000">GF50: 29</text>
<text x="224.55" y="2631.80" font-family="'DejaVu Sans', 'Liberation Sans', sans-serif" font-size="28.65" textLength="144.51" lengthAdjust="spacingAndGlyphs" fill="#000">GF50: 38</text>
<text x="255.16" y="2693.00" font-family="'DejaVu Sans', 'Liberation Sans', sans-serif" font-size="29.32" textLength="144.20" lengthAdjust="spacingAndGlyphs" fill="#000">GF50: 51</text>
<text x="285.25" y="2754.00" font-family="'DejaVu Sans', 'Liberation Sans', sans-serif" font-size="30.00" textLength="145.04" lengthAdjust="spacingAndGlyphs" fill="#000">GF50: 72</text>
<line x1="169.60" y1="2526.70" x2="169.60" y2="2821.10" stroke="#000" stroke-width="4.0" stroke-linecap="round"/>
<polygon points="162.60,2820.10 176.60,2820.10 169.60,2834.10" fill="#000"/>
<line x1="200.30" y1="2587.40" x2="200.30" y2="2821.10" stroke="#000" stroke-width="4.0" stroke-linecap="round"/>
<polygon points="193.30,2820.10 207.30,2820.10 200.30,2834.10" fill="#000"/>
<line x1="231.00" y1="2648.60" x2="231.00" y2="2821.10" stroke="#000" stroke-width="4.0" stroke-linecap="round"/>
<polygon points="224.00,2820.10 238.00,2820.10 231.00,2834.10" fill="#000"/>
<line x1="261.30" y1="2710.00" x2="261.30" y2="2821.10" stroke="#000" stroke-width="4.0" stroke-linecap="round"/>
<polygon points="254.30,2820.10 268.30,2820.10 261.30,2834.10" fill="#000"/>
<line x1="292.10" y1="2771.30" x2="292.10" y2="2821.10" stroke="#000" stroke-width="4.0" stroke-linecap="round"/>
<polygon points="285.10,2820.10 299.10,2820.10 292.10,2834.10" fill="#000"/>
<polyline points="146.5,3182.0 147.6,3182.0 148.6,3182.0 149.7,3182.0 150.7,3182.0 151.8,3182.0 152.8,3182.0 153.9,3182.0 154.9,3182.0 156.0,3182.0 157.1,3182.0 158.1,3179.8 159.2,3174.7 160.2,3168.6 161.3,3159.7 162.3,3148.3 163.4,3135.2 164.4,3121.3 165.5,3107.3 166.5,3093.9 167.6,3080.8 168.7,3067.1 169.7,3053.2 170.8,3039.3 171.8,3025.6 172.9,3012.6 173.9,2999.9 175.0,2987.2 176.0,2974.7 177.1,2962.8 178.2,2951.6 179.2,2941.5 180.3,2932.0 181.3,2922.9 182.4,2914.6 183.4,2907.1 184.5,2900.8 185.5,2895.4 186.6,2890.4 187.6,2885.9 188.7,2881.9 189.8,2878.4 190.8,2875.4 191.9,2872.7 192.9,2870.3 194.0,2868.0 195.0,2865.9 196.1,2864.0 197.1,2862.3 198.2,2860.8 199.2,2859.5 200.3,2858.2 201.4,2857.1 202.4,2856.0 203.5,2855.0 204.5,2854.0 205.6,2853.2 206.6,2852.4 207.7,2851.7 208.7,2851.1 209.8,2850.7 210.9,2850.2 211.9,2849.8 213.0,2849.5 214.0,2849.1 215.1,2848.8 216.1,2848.4 217.2,2848.1 218.2,2847.8 219.3,2847.6 220.3,2847.3 221.4,2847.0 222.5,2846.8 223.5,2846.6 224.6,2846.4 225.6,2846.2 226.7,2846.1 227.7,2845.9 228.8,2845.8 229.8,2845.7 230.9,2845.6 232.0,2845.5 233.0,2845.4 234.1,2845.3 235.1,2845.2 236.2,2845.1 237.2,2845.1 238.3,2845.0 239.3,2844.9 240.4,2844.8 241.4,2844.8 242.5,2844.7 243.6,2844.6 244.6,2844.5 245.7,2844.5 246.7,2844.4 247.8,2844.4 248.8,2844.3 249.9,2844.2 250.9,2844.2 252.0,2844.1 253.1,2844.1 254.1,2844.0 255.2,2844.0 256.2,2844.0 257.3,2843.9 258.3,2843.9 259.4,2843.8 260.4,2843.8 261.5,2843.8 262.6,2843.7 263.6,2843.7 264.7,2843.7 265.7,2843.7 266.8,2843.6 267.8,2843.6 268.9,2843.6 269.9,2843.6 271.0,2843.6 272.0,2843.5 273.1,2843.5 274.2,2843.5 275.2,2843.5 276.3,2843.5 277.3,2843.5 278.4,2843.5 279.4,2843.5 280.5,2843.5 281.5,2843.5 282.6,2843.5 283.6,2843.5 284.7,2843.5 285.8,2843.4 286.8,2843.4 287.9,2843.4 288.9,2843.4 290.0,2843.4 291.0,2843.4 292.1,2843.4 293.1,2843.4 294.2,2843.4 295.3,2843.4 296.3,2843.4 297.4,2843.4 298.4,2843.4 299.5,2843.4 300.5,2843.4 301.6,2843.3 302.6,2843.3 303.7,2843.3 304.8,2843.3 305.8,2843.3 306.9,2843.3 307.9,2843.3 309.0,2843.3 310.0,2843.3 311.1,2843.3 312.1,2843.3 313.2,2843.3 314.2,2843.3 315.3,2843.3 316.4,2843.3 317.4,2843.3 318.5,2843.3 319.5,2843.3 320.6,2843.3 321.6,2843.3 322.7,2843.3 323.7,2843.3 324.8,2843.2 325.9,2843.2 326.9,2843.2 328.0,2843.2 329.0,2843.2 330.1,2843.2 331.1,2843.2 332.2,2843.2 333.2,2843.2 334.3,2843.2 335.3,2843.2 336.4,2843.2 337.5,2843.2 338.5,2843.2 339.6,2843.2 340.6,2843.2 341.7,2843.2 342.7,2843.2 343.8,2843.2 344.8,2843.2 345.9,2843.2 346.9,2843.2 348.0,2843.2 349.1,2843.2 350.1,2843.2 351.2,2843.2 352.2,2843.2 353.3,2843.2 354.3,2843.2 355.4,2843.2 356.4,2843.2 357.5,2843.2 358.6,2843.2 359.6,2843.2 360.7,2843.2 361.7,2843.2 362.8,2843.2 363.8,2843.2 364.9,2843.2 365.9,2843.2 367.0,2843.2 368.0,2843.2 369.1,2843.2 370.2,2843.2 371.2,2843.2 372.3,2843.2 373.3,2843.2 374.4,2843.2 375.4,2843.2 376.5,2843.2 377.5,2843.2 378.6,2843.2 379.7,2843.2 380.7,2843.2 381.8,2843.2 382.8,2843.2 383.9,2843.2 384.9,2843.2 386.0,2843.2 387.0,2843.2 388.1,2843.2 389.1,2843.2 390.2,2843.2 391.3,2843.2 392.3,2843.2 393.4,2843.2 394.4,2843.2 395.5,2843.2 396.5,2843.2 397.6,2843.2 398.6,2843.2 399.7,2843.2 400.8,2843.2 401.8,2843.2 402.9,2843.2 403.9,2843.2 405.0,2843.2 406.0,2843.2 407.1,2843.2 408.1,2843.2 409.2,2843.2 410.2,2843.2 411.3,2843.2 412.4,2843.2 413.4,2843.2 414.5,2843.2 415.5,2843.2 416.6,2843.2 417.6,2843.2 418.7,2843.2 419.7,2843.2 420.8,2843.2 421.9,2843.2 422.9,2843.2 424.0,2843.2 425.0,2843.2 426.1,2843.2 427.1,2843.2 428.2,2843.2 429.2,2843.2 430.3,2843.2 431.3,2843.2 432.4,2843.2 433.5,2843.2 434.5,2843.2 435.6,2843.2 436.6,2843.2 437.7,2843.2 438.7,2843.2 439.8,2843.2 440.8,2843.2 441.9,2843.2 443.0,2843.2 444.0,2843.2 445.1,2843.2 446.1,2843.2 447.2,2843.2 448.2,2843.2 449.3,2843.2 450.3,2843.2 451.4,2843.2 452.4,2843.2 453.5,2843.2 454.6,2843.2 455.6,2843.2 456.7,2843.2 457.7,2843.2 458.8,2843.2 459.8,2843.2 460.9,2843.2 461.9,2843.2 463.0,2843.2 464.1,2843.2 465.1,2843.2 466.2,2843.2 467.2,2843.2 468.3,2843.2 469.3,2843.2 470.4,2843.2 471.4,2843.2 472.5,2843.2 473.5,2843.2 474.6,2843.2 475.7,2843.2 476.7,2843.2 477.8,2843.2 478.8,2843.2 479.9,2843.2 480.9,2843.2 482.0,2843.2 483.0,2843.2 484.1,2843.2 485.2,2843.2 486.2,2843.2 487.3,2843.2 488.3,2843.2 489.4,2843.2 490.4,2843.2 491.5,2843.2 492.5,2843.2 493.6,2843.2 494.6,2843.2 495.7,2843.2 496.8,2843.2 497.8,2843.2 498.9,2843.2 499.9,2843.2 501.0,2843.2 502.0,2843.2 503.1,2843.2 504.1,2843.2 505.2,2843.2 506.3,2843.2 507.3,2843.2 508.4,2843.2 509.4,2843.2 510.5,2843.2 511.5,2843.2 512.6,2843.2 513.6,2843.2 514.7,2843.2 515.8,2843.2 516.8,2843.2 517.9,2843.2 518.9,2843.2 520.0,2843.2 521.0,2843.2 522.1,2843.2 523.1,2843.2 524.2,2843.2 525.2,2843.2 526.3,2843.2 527.4,2843.2 528.4,2843.2 529.5,2843.2 530.5,2843.2 531.6,2843.2 532.6,2843.2 533.7,2843.2 534.7,2843.2 535.8,2843.2 536.8,2843.2 537.9,2843.2 539.0,2843.2 540.0,2843.2 541.1,2843.2 542.1,2843.2 543.2,2843.2 544.2,2843.2 545.3,2843.2 546.3,2843.2 547.4,2843.2 548.5,2843.2 549.5,2843.2 550.6,2843.2 551.6,2843.2 552.7,2843.2 553.7,2843.2 554.8,2843.2 555.8,2843.2 556.9,2843.2 558.0,2843.2 559.0,2843.2 560.1,2843.2 561.1,2843.2 562.2,2843.2 563.2,2843.2 564.3,2843.2 565.3,2843.2 566.4,2843.2 567.4,2843.2 568.5,2843.2 569.6,2843.2 570.6,2843.2 571.7,2843.2 572.7,2843.2 573.8,2843.2 574.8,2843.2 575.9,2843.2 576.9,2843.2 578.0,2843.2 579.0,2843.2 580.1,2843.2 581.2,2843.2 582.2,2843.2 583.3,2843.2 584.3,2843.2 585.4,2843.2 586.4,2843.2 587.5,2843.2 588.5,2843.2 589.6,2843.2 590.7,2843.2 591.7,2843.2 592.8,2843.2 593.8,2843.2 594.9,2843.2 595.9,2843.2 597.0,2843.2 598.0,2843.2 599.1,2843.2 600.1,2843.2 601.2,2843.2 602.3,2843.2 603.3,2843.2 604.4,2843.2 605.4,2843.2 606.5,2843.2 607.5,2843.2 608.6,2843.2 609.6,2843.2 610.7,2843.2 611.8,2843.2 612.8,2843.2 613.9,2843.2 614.9,2843.2 616.0,2843.2 617.0,2843.2 618.1,2843.2 619.1,2843.2 620.2,2843.2 621.2,2843.2 622.3,2843.2 623.4,2843.2 624.4,2843.2 625.5,2843.2 626.5,2843.2 627.6,2843.2 628.6,2843.2 629.7,2843.2 630.7,2843.2 631.8,2843.2 632.9,2843.2 633.9,2843.2 635.0,2843.2 636.0,2843.2 637.1,2843.2 638.1,2843.2 639.2,2843.2 640.2,2843.2 641.3,2843.2 642.3,2843.2 643.4,2843.2 644.5,2843.2 645.5,2843.2 646.6,2843.2 647.6,2843.2 648.7,2843.2 649.7,2843.2 650.8,2843.2 651.8,2843.2 652.9,2843.2 654.0,2843.2 655.0,2843.2 656.1,2843.2 657.1,2843.2 658.2,2843.2 659.2,2843.2 660.3,2843.2 661.3,2843.2 662.4,2843.2 663.4,2843.2 664.5,2843.2 665.6,2843.2 666.6,2843.2 667.7,2843.2 668.7,2843.2 669.8,2843.2 670.8,2843.2 671.9,2843.2 672.9,2843.2 674.0,2843.2" fill="none" stroke="#2dc8ca" stroke-width="2.2" stroke-linejoin="round" marker-start="url(#mSq)" marker-mid="url(#mSq)" marker-end="url(#mSq)"/>
<polyline points="146.5,3182.0 147.6,3182.0 148.6,3182.0 149.7,3182.0 150.7,3182.0 151.8,3182.0 152.8,3182.0 153.9,3182.0 154.9,3182.0 156.0,3182.0 157.1,3182.0 158.1,3182.0 159.2,3182.0 160.2,3182.0 161.3,3182.0 162.3,3182.0 163.4,3182.0 164.4,3180.3 165.5,3176.1 166.5,3170.6 167.6,3161.4 168.7,3148.0 169.7,3132.3 170.8,3116.0 171.8,3100.7 172.9,3086.1 173.9,3071.0 175.0,3055.7 176.0,3040.6 177.1,3026.1 178.2,3012.6 179.2,2999.9 180.3,2987.6 181.3,2976.0 182.4,2965.0 183.4,2955.0 184.5,2945.6 185.5,2936.7 186.6,2928.3 187.6,2920.8 188.7,2914.3 189.8,2908.6 190.8,2903.1 191.9,2897.9 192.9,2893.1 194.0,2888.8 195.0,2884.9 196.1,2881.5 197.1,2878.8 198.2,2876.4 199.2,2874.2 200.3,2872.1 201.4,2870.2 202.4,2868.4 203.5,2866.7 204.5,2865.2 205.6,2863.8 206.6,2862.5 207.7,2861.4 208.7,2860.4 209.8,2859.5 210.9,2858.6 211.9,2857.8 213.0,2857.0 214.0,2856.3 215.1,2855.6 216.1,2854.9 217.2,2854.2 218.2,2853.6 219.3,2853.0 220.3,2852.4 221.4,2851.9 222.5,2851.4 223.5,2850.9 224.6,2850.5 225.6,2850.1 226.7,2849.7 227.7,2849.4 228.8,2849.1 229.8,2848.8 230.9,2848.6 232.0,2848.4 233.0,2848.2 234.1,2848.0 235.1,2847.9 236.2,2847.7 237.2,2847.5 238.3,2847.3 239.3,2847.2 240.4,2847.0 241.4,2846.9 242.5,2846.7 243.6,2846.6 244.6,2846.4 245.7,2846.3 246.7,2846.2 247.8,2846.0 248.8,2845.9 249.9,2845.8 250.9,2845.7 252.0,2845.6 253.1,2845.4 254.1,2845.3 255.2,2845.2 256.2,2845.2 257.3,2845.1 258.3,2845.0 259.4,2844.9 260.4,2844.8 261.5,2844.7 262.6,2844.7 263.6,2844.6 264.7,2844.5 265.7,2844.5 266.8,2844.4 267.8,2844.4 268.9,2844.3 269.9,2844.3 271.0,2844.3 272.0,2844.2 273.1,2844.2 274.2,2844.2 275.2,2844.2 276.3,2844.1 277.3,2844.1 278.4,2844.1 279.4,2844.1 280.5,2844.0 281.5,2844.0 282.6,2844.0 283.6,2844.0 284.7,2844.0 285.8,2843.9 286.8,2843.9 287.9,2843.9 288.9,2843.9 290.0,2843.9 291.0,2843.8 292.1,2843.8 293.1,2843.8 294.2,2843.8 295.3,2843.8 296.3,2843.7 297.4,2843.7 298.4,2843.7 299.5,2843.7 300.5,2843.7 301.6,2843.7 302.6,2843.6 303.7,2843.6 304.8,2843.6 305.8,2843.6 306.9,2843.6 307.9,2843.6 309.0,2843.5 310.0,2843.5 311.1,2843.5 312.1,2843.5 313.2,2843.5 314.2,2843.5 315.3,2843.5 316.4,2843.4 317.4,2843.4 318.5,2843.4 319.5,2843.4 320.6,2843.4 321.6,2843.4 322.7,2843.4 323.7,2843.4 324.8,2843.4 325.9,2843.3 326.9,2843.3 328.0,2843.3 329.0,2843.3 330.1,2843.3 331.1,2843.3 332.2,2843.3 333.2,2843.3 334.3,2843.3 335.3,2843.3 336.4,2843.3 337.5,2843.3 338.5,2843.3 339.6,2843.2 340.6,2843.2 341.7,2843.2 342.7,2843.2 343.8,2843.2 344.8,2843.2 345.9,2843.2 346.9,2843.2 348.0,2843.2 349.1,2843.2 350.1,2843.2 351.2,2843.2 352.2,2843.2 353.3,2843.2 354.3,2843.2 355.4,2843.2 356.4,2843.2 357.5,2843.2 358.6,2843.2 359.6,2843.2 360.7,2843.2 361.7,2843.2 362.8,2843.2 363.8,2843.2 364.9,2843.2 365.9,2843.2 367.0,2843.2 368.0,2843.2 369.1,2843.2 370.2,2843.2 371.2,2843.2 372.3,2843.2 373.3,2843.2 374.4,2843.2 375.4,2843.2 376.5,2843.2 377.5,2843.2 378.6,2843.2 379.7,2843.2 380.7,2843.2 381.8,2843.2 382.8,2843.2 383.9,2843.2 384.9,2843.2 386.0,2843.2 387.0,2843.2 388.1,2843.2 389.1,2843.2 390.2,2843.2 391.3,2843.2 392.3,2843.2 393.4,2843.2 394.4,2843.2 395.5,2843.2 396.5,2843.2 397.6,2843.2 398.6,2843.2 399.7,2843.2 400.8,2843.2 401.8,2843.2 402.9,2843.2 403.9,2843.2 405.0,2843.2 406.0,2843.2 407.1,2843.2 408.1,2843.2 409.2,2843.2 410.2,2843.2 411.3,2843.2 412.4,2843.2 413.4,2843.2 414.5,2843.2 415.5,2843.2 416.6,2843.2 417.6,2843.2 418.7,2843.2 419.7,2843.2 420.8,2843.2 421.9,2843.2 422.9,2843.2 424.0,2843.2 425.0,2843.2 426.1,2843.2 427.1,2843.2 428.2,2843.2 429.2,2843.2 430.3,2843.2 431.3,2843.2 432.4,2843.2 433.5,2843.2 434.5,2843.2 435.6,2843.2 436.6,2843.2 437.7,2843.2 438.7,2843.2 439.8,2843.2 440.8,2843.2 441.9,2843.2 443.0,2843.2 444.0,2843.2 445.1,2843.2 446.1,2843.2 447.2,2843.2 448.2,2843.2 449.3,2843.2 450.3,2843.2 451.4,2843.2 452.4,2843.2 453.5,2843.2 454.6,2843.2 455.6,2843.2 456.7,2843.2 457.7,2843.2 458.8,2843.2 459.8,2843.2 460.9,2843.2 461.9,2843.2 463.0,2843.2 464.1,2843.2 465.1,2843.2 466.2,2843.2 467.2,2843.2 468.3,2843.2 469.3,2843.2 470.4,2843.2 471.4,2843.2 472.5,2843.2 473.5,2843.2 474.6,2843.2 475.7,2843.2 476.7,2843.2 477.8,2843.2 478.8,2843.2 479.9,2843.2 480.9,2843.2 482.0,2843.2 483.0,2843.2 484.1,2843.2 485.2,2843.2 486.2,2843.2 487.3,2843.2 488.3,2843.2 489.4,2843.2 490.4,2843.2 491.5,2843.2 492.5,2843.2 493.6,2843.2 494.6,2843.2 495.7,2843.2 496.8,2843.2 497.8,2843.2 498.9,2843.2 499.9,2843.2 501.0,2843.2 502.0,2843.2 503.1,2843.2 504.1,2843.2 505.2,2843.2 506.3,2843.2 507.3,2843.2 508.4,2843.2 509.4,2843.2 510.5,2843.2 511.5,2843.2 512.6,2843.2 513.6,2843.2 514.7,2843.2 515.8,2843.2 516.8,2843.2 517.9,2843.2 518.9,2843.2 520.0,2843.2 521.0,2843.2 522.1,2843.2 523.1,2843.2 524.2,2843.2 525.2,2843.2 526.3,2843.2 527.4,2843.2 528.4,2843.2 529.5,2843.2 530.5,2843.2 531.6,2843.2 532.6,2843.2 533.7,2843.2 534.7,2843.2 535.8,2843.2 536.8,2843.2 537.9,2843.2 539.0,2843.2 540.0,2843.2 541.1,2843.2 542.1,2843.2 543.2,2843.2 544.2,2843.2 545.3,2843.2 546.3,2843.2 547.4,2843.2 548.5,2843.2 549.5,2843.2 550.6,2843.2 551.6,2843.2 552.7,2843.2 553.7,2843.2 554.8,2843.2 555.8,2843.2 556.9,2843.2 558.0,2843.2 559.0,2843.2 560.1,2843.2 561.1,2843.2 562.2,2843.2 563.2,2843.2 564.3,2843.2 565.3,2843.2 566.4,2843.2 567.4,2843.2 568.5,2843.2 569.6,2843.2 570.6,2843.2 571.7,2843.2 572.7,2843.2 573.8,2843.2 574.8,2843.2 575.9,2843.2 576.9,2843.2 578.0,2843.2 579.0,2843.2 580.1,2843.2 581.2,2843.2 582.2,2843.2 583.3,2843.2 584.3,2843.2 585.4,2843.2 586.4,2843.2 587.5,2843.2 588.5,2843.2 589.6,2843.2 590.7,2843.2 591.7,2843.2 592.8,2843.2 593.8,2843.2 594.9,2843.2 595.9,2843.2 597.0,2843.2 598.0,2843.2 599.1,2843.2 600.1,2843.2 601.2,2843.2 602.3,2843.2 603.3,2843.2 604.4,2843.2 605.4,2843.2 606.5,2843.2 607.5,2843.2 608.6,2843.2 609.6,2843.2 610.7,2843.2 611.8,2843.2 612.8,2843.2 613.9,2843.2 614.9,2843.2 616.0,2843.2 617.0,2843.2 618.1,2843.2 619.1,2843.2 620.2,2843.2 621.2,2843.2 622.3,2843.2 623.4,2843.2 624.4,2843.2 625.5,2843.2 626.5,2843.2 627.6,2843.2 628.6,2843.2 629.7,2843.2 630.7,2843.2 631.8,2843.2 632.9,2843.2 633.9,2843.2 635.0,2843.2 636.0,2843.2 637.1,2843.2 638.1,2843.2 639.2,2843.2 640.2,2843.2 641.3,2843.2 642.3,2843.2 643.4,2843.2 644.5,2843.2 645.5,2843.2 646.6,2843.2 647.6,2843.2 648.7,2843.2 649.7,2843.2 650.8,2843.2 651.8,2843.2 652.9,2843.2 654.0,2843.2 655.0,2843.2 656.1,2843.2 657.1,2843.2 658.2,2843.2 659.2,2843.2 660.3,2843.2 661.3,2843.2 662.4,2843.2 663.4,2843.2 664.5,2843.2 665.6,2843.2 666.6,2843.2 667.7,2843.2 668.7,2843.2 669.8,2843.2 670.8,2843.2 671.9,2843.2 672.9,2843.2 674.0,2843.2" fill="none" stroke="#e8700f" stroke-width="2.2" stroke-linejoin="round" marker-start="url(#mTri)" marker-mid="url(#mTri)" marker-end="url(#mTri)"/>
<polyline points="146.5,3182.0 147.6,3182.0 148.6,3182.0 149.7,3182.0 150.7,3182.0 151.8,3182.0 152.8,3182.0 153.9,3182.0 154.9,3182.0 156.0,3182.0 157.1,3182.0 158.1,3182.0 159.2,3182.0 160.2,3182.0 161.3,3182.0 162.3,3182.0 163.4,3182.0 164.4,3182.0 165.5,3182.0 166.5,3182.0 167.6,3182.0 168.7,3182.0 169.7,3182.0 170.8,3180.3 171.8,3176.4 172.9,3171.8 173.9,3167.0 175.0,3161.3 176.0,3154.8 177.1,3147.6 178.2,3139.8 179.2,3131.2 180.3,3122.1 181.3,3112.5 182.4,3102.2 183.4,3089.3 184.5,3074.0 185.5,3057.6 186.6,3041.1 187.6,3025.7 188.7,3012.6 189.8,3001.2 190.8,2990.4 191.9,2980.3 192.9,2970.9 194.0,2962.5 195.0,2955.0 196.1,2948.4 197.1,2942.2 198.2,2936.5 199.2,2931.3 200.3,2926.4 201.4,2921.9 202.4,2917.7 203.5,2913.7 204.5,2909.9 205.6,2906.2 206.6,2902.6 207.7,2899.3 208.7,2896.2 209.8,2893.5 210.9,2891.0 211.9,2888.9 213.0,2887.1 214.0,2885.3 215.1,2883.6 216.1,2882.0 217.2,2880.4 218.2,2878.9 219.3,2877.5 220.3,2876.2 221.4,2874.9 222.5,2873.7 223.5,2872.5 224.6,2871.5 225.6,2870.5 226.7,2869.5 227.7,2868.6 228.8,2867.8 229.8,2867.0 230.9,2866.2 232.0,2865.5 233.0,2864.9 234.1,2864.2 235.1,2863.5 236.2,2862.9 237.2,2862.3 238.3,2861.7 239.3,2861.1 240.4,2860.5 241.4,2860.0 242.5,2859.5 243.6,2858.9 244.6,2858.4 245.7,2857.9 246.7,2857.5 247.8,2857.0 248.8,2856.6 249.9,2856.2 250.9,2855.8 252.0,2855.4 253.1,2855.0 254.1,2854.6 255.2,2854.3 256.2,2854.0 257.3,2853.7 258.3,2853.4 259.4,2853.1 260.4,2852.8 261.5,2852.6 262.6,2852.3 263.6,2852.1 264.7,2851.9 265.7,2851.7 266.8,2851.5 267.8,2851.3 268.9,2851.1 269.9,2850.9 271.0,2850.7 272.0,2850.5 273.1,2850.3 274.2,2850.1 275.2,2849.9 276.3,2849.8 277.3,2849.6 278.4,2849.4 279.4,2849.2 280.5,2849.1 281.5,2848.9 282.6,2848.8 283.6,2848.6 284.7,2848.5 285.8,2848.3 286.8,2848.2 287.9,2848.0 288.9,2847.9 290.0,2847.7 291.0,2847.6 292.1,2847.5 293.1,2847.4 294.2,2847.2 295.3,2847.1 296.3,2847.0 297.4,2846.9 298.4,2846.8 299.5,2846.7 300.5,2846.6 301.6,2846.5 302.6,2846.4 303.7,2846.3 304.8,2846.2 305.8,2846.1 306.9,2846.1 307.9,2846.0 309.0,2845.9 310.0,2845.9 311.1,2845.8 312.1,2845.7 313.2,2845.7 314.2,2845.6 315.3,2845.6 316.4,2845.5 317.4,2845.5 318.5,2845.4 319.5,2845.4 320.6,2845.3 321.6,2845.3 322.7,2845.3 323.7,2845.2 324.8,2845.2 325.9,2845.1 326.9,2845.1 328.0,2845.0 329.0,2845.0 330.1,2844.9 331.1,2844.9 332.2,2844.9 333.2,2844.8 334.3,2844.8 335.3,2844.7 336.4,2844.7 337.5,2844.7 338.5,2844.6 339.6,2844.6 340.6,2844.5 341.7,2844.5 342.7,2844.5 343.8,2844.4 344.8,2844.4 345.9,2844.4 346.9,2844.3 348.0,2844.3 349.1,2844.3 350.1,2844.2 351.2,2844.2 352.2,2844.2 353.3,2844.1 354.3,2844.1 355.4,2844.1 356.4,2844.0 357.5,2844.0 358.6,2844.0 359.6,2843.9 360.7,2843.9 361.7,2843.9 362.8,2843.9 363.8,2843.8 364.9,2843.8 365.9,2843.8 367.0,2843.7 368.0,2843.7 369.1,2843.7 370.2,2843.7 371.2,2843.7 372.3,2843.6 373.3,2843.6 374.4,2843.6 375.4,2843.6 376.5,2843.5 377.5,2843.5 378.6,2843.5 379.7,2843.5 380.7,2843.5 381.8,2843.4 382.8,2843.4 383.9,2843.4 384.9,2843.4 386.0,2843.4 387.0,2843.4 388.1,2843.3 389.1,2843.3 390.2,2843.3 391.3,2843.3 392.3,2843.3 393.4,2843.3 394.4,2843.3 395.5,2843.3 396.5,2843.3 397.6,2843.2 398.6,2843.2 399.7,2843.2 400.8,2843.2 401.8,2843.2 402.9,2843.2 403.9,2843.2 405.0,2843.2 406.0,2843.2 407.1,2843.2 408.1,2843.2 409.2,2843.2 410.2,2843.2 411.3,2843.2 412.4,2843.2 413.4,2843.2 414.5,2843.2 415.5,2843.2 416.6,2843.2 417.6,2843.2 418.7,2843.2 419.7,2843.2 420.8,2843.2 421.9,2843.2 422.9,2843.2 424.0,2843.2 425.0,2843.2 426.1,2843.2 427.1,2843.2 428.2,2843.2 429.2,2843.2 430.3,2843.2 431.3,2843.2 432.4,2843.2 433.5,2843.2 434.5,2843.2 435.6,2843.2 436.6,2843.2 437.7,2843.2 438.7,2843.2 439.8,2843.2 440.8,2843.2 441.9,2843.2 443.0,2843.2 444.0,2843.2 445.1,2843.2 446.1,2843.2 447.2,2843.2 448.2,2843.2 449.3,2843.2 450.3,2843.2 451.4,2843.2 452.4,2843.2 453.5,2843.2 454.6,2843.2 455.6,2843.2 456.7,2843.2 457.7,2843.2 458.8,2843.2 459.8,2843.2 460.9,2843.2 461.9,2843.2 463.0,2843.2 464.1,2843.2 465.1,2843.2 466.2,2843.2 467.2,2843.2 468.3,2843.2 469.3,2843.2 470.4,2843.2 471.4,2843.2 472.5,2843.2 473.5,2843.2 474.6,2843.2 475.7,2843.2 476.7,2843.2 477.8,2843.2 478.8,2843.2 479.9,2843.2 480.9,2843.2 482.0,2843.2 483.0,2843.2 484.1,2843.2 485.2,2843.2 486.2,2843.2 487.3,2843.2 488.3,2843.2 489.4,2843.2 490.4,2843.2 491.5,2843.2 492.5,2843.2 493.6,2843.2 494.6,2843.2 495.7,2843.2 496.8,2843.2 497.8,2843.2 498.9,2843.2 499.9,2843.2 501.0,2843.2 502.0,2843.2 503.1,2843.2 504.1,2843.2 505.2,2843.2 506.3,2843.2 507.3,2843.2 508.4,2843.2 509.4,2843.2 510.5,2843.2 511.5,2843.2 512.6,2843.2 513.6,2843.2 514.7,2843.2 515.8,2843.2 516.8,2843.2 517.9,2843.2 518.9,2843.2 520.0,2843.2 521.0,2843.2 522.1,2843.2 523.1,2843.2 524.2,2843.2 525.2,2843.2 526.3,2843.2 527.4,2843.2 528.4,2843.2 529.5,2843.2 530.5,2843.2 531.6,2843.2 532.6,2843.2 533.7,2843.2 534.7,2843.2 535.8,2843.2 536.8,2843.2 537.9,2843.2 539.0,2843.2 540.0,2843.2 541.1,2843.2 542.1,2843.2 543.2,2843.2 544.2,2843.2 545.3,2843.2 546.3,2843.2 547.4,2843.2 548.5,2843.2 549.5,2843.2 550.6,2843.2 551.6,2843.2 552.7,2843.2 553.7,2843.2 554.8,2843.2 555.8,2843.2 556.9,2843.2 558.0,2843.2 559.0,2843.2 560.1,2843.2 561.1,2843.2 562.2,2843.2 563.2,2843.2 564.3,2843.2 565.3,2843.2 566.4,2843.2 567.4,2843.2 568.5,2843.2 569.6,2843.2 570.6,2843.2 571.7,2843.2 572.7,2843.2 573.8,2843.2 574.8,2843.2 575.9,2843.2 576.9,2843.2 578.0,2843.2 579.0,2843.2 580.1,2843.2 581.2,2843.2 582.2,2843.2 583.3,2843.2 584.3,2843.2 585.4,2843.2 586.4,2843.2 587.5,2843.2 588.5,2843.2 589.6,2843.2 590.7,2843.2 591.7,2843.2 592.8,2843.2 593.8,2843.2 594.9,2843.2 595.9,2843.2 597.0,2843.2 598.0,2843.2 599.1,2843.2 600.1,2843.2 601.2,2843.2 602.3,2843.2 603.3,2843.2 604.4,2843.2 605.4,2843.2 606.5,2843.2 607.5,2843.2 608.6,2843.2 609.6,2843.2 610.7,2843.2 611.8,2843.2 612.8,2843.2 613.9,2843.2 614.9,2843.2 616.0,2843.2 617.0,2843.2 618.1,2843.2 619.1,2843.2 620.2,2843.2 621.2,2843.2 622.3,2843.2 623.4,2843.2 624.4,2843.2 625.5,2843.2 626.5,2843.2 627.6,2843.2 628.6,2843.2 629.7,2843.2 630.7,2843.2 631.8,2843.2 632.9,2843.2 633.9,2843.2 635.0,2843.2 636.0,2843.2 637.1,2843.2 638.1,2843.2 639.2,2843.2 640.2,2843.2 641.3,2843.2 642.3,2843.2 643.4,2843.2 644.5,2843.2 645.5,2843.2 646.6,2843.2 647.6,2843.2 648.7,2843.2 649.7,2843.2 650.8,2843.2 651.8,2843.2 652.9,2843.2 654.0,2843.2 655.0,2843.2 656.1,2843.2 657.1,2843.2 658.2,2843.2 659.2,2843.2 660.3,2843.2 661.3,2843.2 662.4,2843.2 663.4,2843.2 664.5,2843.2 665.6,2843.2 666.6,2843.2 667.7,2843.2 668.7,2843.2 669.8,2843.2 670.8,2843.2 671.9,2843.2 672.9,2843.2 674.0,2843.2" fill="none" stroke="#5a8ad6" stroke-width="2.2" stroke-linejoin="round" marker-start="url(#mX)" marker-mid="url(#mX)" marker-end="url(#mX)"/>
<polyline points="146.5,3182.0 147.6,3182.0 148.6,3182.0 149.7,3182.0 150.7,3182.0 151.8,3182.0 152.8,3182.0 153.9,3182.0 154.9,3182.0 156.0,3182.0 157.1,3182.0 158.1,3182.0 159.2,3182.0 160.2,3182.0 161.3,3182.0 162.3,3182.0 163.4,3182.0 164.4,3182.0 165.5,3182.0 166.5,3182.0 167.6,3182.0 168.7,3182.0 169.7,3182.0 170.8,3182.0 171.8,3182.0 172.9,3182.0 173.9,3182.0 175.0,3182.0 176.0,3182.0 177.1,3180.9 178.2,3178.3 179.2,3175.2 180.3,3172.1 181.3,3168.4 182.4,3164.3 183.4,3159.8 184.5,3154.8 185.5,3149.5 186.6,3143.9 187.6,3138.0 188.7,3131.9 189.8,3125.0 190.8,3117.1 191.9,3108.5 192.9,3099.3 194.0,3089.7 195.0,3080.0 196.1,3070.5 197.1,3061.0 198.2,3050.7 199.2,3040.0 200.3,3029.6 201.4,3020.3 202.4,3012.6 203.5,3006.2 204.5,3000.3 205.6,2994.7 206.6,2989.5 207.7,2984.6 208.7,2980.0 209.8,2975.7 210.9,2971.5 211.9,2967.6 213.0,2963.8 214.0,2960.2 215.1,2956.7 216.1,2953.3 217.2,2950.0 218.2,2946.8 219.3,2943.8 220.3,2940.8 221.4,2938.0 222.5,2935.3 223.5,2932.6 224.6,2930.0 225.6,2927.5 226.7,2925.1 227.7,2922.6 228.8,2920.3 229.8,2917.9 230.9,2915.6 232.0,2913.3 233.0,2911.0 234.1,2908.7 235.1,2906.5 236.2,2904.3 237.2,2902.1 238.3,2900.1 239.3,2898.1 240.4,2896.2 241.4,2894.4 242.5,2892.7 243.6,2891.1 244.6,2889.7 245.7,2888.3 246.7,2887.1 247.8,2885.9 248.8,2884.8 249.9,2883.7 250.9,2882.6 252.0,2881.6 253.1,2880.6 254.1,2879.7 255.2,2878.8 256.2,2877.9 257.3,2877.1 258.3,2876.3 259.4,2875.6 260.4,2874.9 261.5,2874.3 262.6,2873.7 263.6,2873.1 264.7,2872.6 265.7,2872.0 266.8,2871.5 267.8,2870.9 268.9,2870.4 269.9,2869.9 271.0,2869.4 272.0,2868.9 273.1,2868.4 274.2,2868.0 275.2,2867.5 276.3,2867.1 277.3,2866.6 278.4,2866.2 279.4,2865.8 280.5,2865.4 281.5,2865.0 282.6,2864.6 283.6,2864.2 284.7,2863.8 285.8,2863.5 286.8,2863.1 287.9,2862.8 288.9,2862.4 290.0,2862.1 291.0,2861.8 292.1,2861.4 293.1,2861.1 294.2,2860.8 295.3,2860.5 296.3,2860.3 297.4,2860.0 298.4,2859.7 299.5,2859.4 300.5,2859.2 301.6,2858.9 302.6,2858.7 303.7,2858.4 304.8,2858.2 305.8,2858.0 306.9,2857.7 307.9,2857.5 309.0,2857.3 310.0,2857.1 311.1,2856.8 312.1,2856.6 313.2,2856.4 314.2,2856.2 315.3,2855.9 316.4,2855.7 317.4,2855.5 318.5,2855.3 319.5,2855.1 320.6,2854.9 321.6,2854.7 322.7,2854.5 323.7,2854.3 324.8,2854.1 325.9,2853.9 326.9,2853.7 328.0,2853.5 329.0,2853.3 330.1,2853.1 331.1,2852.9 332.2,2852.7 333.2,2852.5 334.3,2852.4 335.3,2852.2 336.4,2852.0 337.5,2851.8 338.5,2851.7 339.6,2851.5 340.6,2851.3 341.7,2851.2 342.7,2851.0 343.8,2850.8 344.8,2850.7 345.9,2850.5 346.9,2850.4 348.0,2850.2 349.1,2850.1 350.1,2849.9 351.2,2849.8 352.2,2849.7 353.3,2849.5 354.3,2849.4 355.4,2849.3 356.4,2849.1 357.5,2849.0 358.6,2848.9 359.6,2848.8 360.7,2848.7 361.7,2848.6 362.8,2848.4 363.8,2848.3 364.9,2848.2 365.9,2848.1 367.0,2848.0 368.0,2848.0 369.1,2847.9 370.2,2847.8 371.2,2847.7 372.3,2847.6 373.3,2847.5 374.4,2847.5 375.4,2847.4 376.5,2847.3 377.5,2847.3 378.6,2847.2 379.7,2847.1 380.7,2847.1 381.8,2847.0 382.8,2847.0 383.9,2846.9 384.9,2846.9 386.0,2846.8 387.0,2846.7 388.1,2846.7 389.1,2846.6 390.2,2846.6 391.3,2846.5 392.3,2846.5 393.4,2846.4 394.4,2846.4 395.5,2846.3 396.5,2846.3 397.6,2846.2 398.6,2846.2 399.7,2846.1 400.8,2846.1 401.8,2846.0 402.9,2846.0 403.9,2845.9 405.0,2845.9 406.0,2845.8 407.1,2845.8 408.1,2845.7 409.2,2845.7 410.2,2845.6 411.3,2845.6 412.4,2845.5 413.4,2845.5 414.5,2845.5 415.5,2845.4 416.6,2845.4 417.6,2845.3 418.7,2845.3 419.7,2845.3 420.8,2845.2 421.9,2845.2 422.9,2845.1 424.0,2845.1 425.0,2845.1 426.1,2845.0 427.1,2845.0 428.2,2845.0 429.2,2844.9 430.3,2844.9 431.3,2844.9 432.4,2844.8 433.5,2844.8 434.5,2844.8 435.6,2844.7 436.6,2844.7 437.7,2844.7 438.7,2844.6 439.8,2844.6 440.8,2844.6 441.9,2844.5 443.0,2844.5 444.0,2844.5 445.1,2844.5 446.1,2844.4 447.2,2844.4 448.2,2844.4 449.3,2844.3 450.3,2844.3 451.4,2844.3 452.4,2844.3 453.5,2844.3 454.6,2844.2 455.6,2844.2 456.7,2844.2 457.7,2844.2 458.8,2844.1 459.8,2844.1 460.9,2844.1 461.9,2844.1 463.0,2844.1 464.1,2844.0 465.1,2844.0 466.2,2844.0 467.2,2844.0 468.3,2844.0 469.3,2844.0 470.4,2843.9 471.4,2843.9 472.5,2843.9 473.5,2843.9 474.6,2843.9 475.7,2843.9 476.7,2843.9 477.8,2843.9 478.8,2843.8 479.9,2843.8 480.9,2843.8 482.0,2843.8 483.0,2843.8 484.1,2843.8 485.2,2843.8 486.2,2843.8 487.3,2843.7 488.3,2843.7 489.4,2843.7 490.4,2843.7 491.5,2843.7 492.5,2843.7 493.6,2843.7 494.6,2843.7 495.7,2843.6 496.8,2843.6 497.8,2843.6 498.9,2843.6 499.9,2843.6 501.0,2843.6 502.0,2843.6 503.1,2843.6 504.1,2843.6 505.2,2843.6 506.3,2843.5 507.3,2843.5 508.4,2843.5 509.4,2843.5 510.5,2843.5 511.5,2843.5 512.6,2843.5 513.6,2843.5 514.7,2843.5 515.8,2843.5 516.8,2843.4 517.9,2843.4 518.9,2843.4 520.0,2843.4 521.0,2843.4 522.1,2843.4 523.1,2843.4 524.2,2843.4 525.2,2843.4 526.3,2843.4 527.4,2843.4 528.4,2843.4 529.5,2843.3 530.5,2843.3 531.6,2843.3 532.6,2843.3 533.7,2843.3 534.7,2843.3 535.8,2843.3 536.8,2843.3 537.9,2843.3 539.0,2843.3 540.0,2843.3 541.1,2843.3 542.1,2843.3 543.2,2843.3 544.2,2843.3 545.3,2843.3 546.3,2843.2 547.4,2843.2 548.5,2843.2 549.5,2843.2 550.6,2843.2 551.6,2843.2 552.7,2843.2 553.7,2843.2 554.8,2843.2 555.8,2843.2 556.9,2843.2 558.0,2843.2 559.0,2843.2 560.1,2843.2 561.1,2843.2 562.2,2843.2 563.2,2843.2 564.3,2843.2 565.3,2843.2 566.4,2843.2 567.4,2843.2 568.5,2843.2 569.6,2843.2 570.6,2843.2 571.7,2843.2 572.7,2843.2 573.8,2843.2 574.8,2843.2 575.9,2843.2 576.9,2843.2 578.0,2843.2 579.0,2843.2 580.1,2843.2 581.2,2843.2 582.2,2843.2 583.3,2843.2 584.3,2843.2 585.4,2843.2 586.4,2843.2 587.5,2843.2 588.5,2843.2 589.6,2843.2 590.7,2843.2 591.7,2843.2 592.8,2843.2 593.8,2843.2 594.9,2843.2 595.9,2843.2 597.0,2843.2 598.0,2843.2 599.1,2843.2 600.1,2843.2 601.2,2843.2 602.3,2843.2 603.3,2843.2 604.4,2843.2 605.4,2843.2 606.5,2843.2 607.5,2843.2 608.6,2843.2 609.6,2843.2 610.7,2843.2 611.8,2843.2 612.8,2843.2 613.9,2843.2 614.9,2843.2 616.0,2843.2 617.0,2843.2 618.1,2843.2 619.1,2843.2 620.2,2843.2 621.2,2843.2 622.3,2843.2 623.4,2843.2 624.4,2843.2 625.5,2843.2 626.5,2843.2 627.6,2843.2 628.6,2843.2 629.7,2843.2 630.7,2843.2 631.8,2843.2 632.9,2843.2 633.9,2843.2 635.0,2843.2 636.0,2843.2 637.1,2843.2 638.1,2843.2 639.2,2843.2 640.2,2843.2 641.3,2843.2 642.3,2843.2 643.4,2843.2 644.5,2843.2 645.5,2843.2 646.6,2843.2 647.6,2843.2 648.7,2843.2 649.7,2843.2 650.8,2843.2 651.8,2843.2 652.9,2843.2 654.0,2843.2 655.0,2843.2 656.1,2843.2 657.1,2843.2 658.2,2843.2 659.2,2843.2 660.3,2843.2 661.3,2843.2 662.4,2843.2 663.4,2843.2 664.5,2843.2 665.6,2843.2 666.6,2843.2 667.7,2843.2 668.7,2843.2 669.8,2843.2 670.8,2843.2 671.9,2843.2 672.9,2843.2 674.0,2843.2" fill="none" stroke="#00b050" stroke-width="2.2" stroke-linejoin="round" marker-start="url(#mCir)" marker-mid="url(#mCir)" marker-end="url(#mCir)"/>
<polyline points="146.5,3182.0 147.6,3182.0 148.6,3182.0 149.7,3182.0 150.7,3182.0 151.8,3182.0 152.8,3182.0 153.9,3182.0 154.9,3182.0 156.0,3182.0 157.1,3182.0 158.1,3182.0 159.2,3182.0 160.2,3182.0 161.3,3182.0 162.3,3182.0 163.4,3182.0 164.4,3182.0 165.5,3182.0 166.5,3182.0 167.6,3182.0 168.7,3182.0 169.7,3182.0 170.8,3182.0 171.8,3182.0 172.9,3182.0 173.9,3182.0 175.0,3182.0 176.0,3182.0 177.1,3182.0 178.2,3182.0 179.2,3182.0 180.3,3182.0 181.3,3181.4 182.4,3180.0 183.4,3178.5 184.5,3176.4 185.5,3173.9 186.6,3170.6 187.6,3166.9 188.7,3163.1 189.8,3159.1 190.8,3154.9 191.9,3150.5 192.9,3145.9 194.0,3141.3 195.0,3136.6 196.1,3131.9 197.1,3127.1 198.2,3122.2 199.2,3117.2 200.3,3112.1 201.4,3106.9 202.4,3101.7 203.5,3096.6 204.5,3091.5 205.6,3086.4 206.6,3081.4 207.7,3076.6 208.7,3071.7 209.8,3066.8 210.9,3061.9 211.9,3057.0 213.0,3052.1 214.0,3047.3 215.1,3042.5 216.1,3037.8 217.2,3033.2 218.2,3028.6 219.3,3024.2 220.3,3019.9 221.4,3015.8 222.5,3011.8 223.5,3007.9 224.6,3003.9 225.6,2999.9 226.7,2996.0 227.7,2992.1 228.8,2988.2 229.8,2984.5 230.9,2980.8 232.0,2977.3 233.0,2973.9 234.1,2970.7 235.1,2967.6 236.2,2964.8 237.2,2962.2 238.3,2959.8 239.3,2957.7 240.4,2955.8 241.4,2953.9 242.5,2952.1 243.6,2950.4 244.6,2948.8 245.7,2947.2 246.7,2945.6 247.8,2944.1 248.8,2942.7 249.9,2941.3 250.9,2940.0 252.0,2938.7 253.1,2937.5 254.1,2936.3 255.2,2935.2 256.2,2934.1 257.3,2933.0 258.3,2932.0 259.4,2931.0 260.4,2930.1 261.5,2929.1 262.6,2928.2 263.6,2927.4 264.7,2926.5 265.7,2925.6 266.8,2924.8 267.8,2924.0 268.9,2923.2 269.9,2922.4 271.0,2921.6 272.0,2920.9 273.1,2920.1 274.2,2919.4 275.2,2918.7 276.3,2918.0 277.3,2917.3 278.4,2916.7 279.4,2916.0 280.5,2915.4 281.5,2914.8 282.6,2914.2 283.6,2913.6 284.7,2913.1 285.8,2912.5 286.8,2912.0 287.9,2911.5 288.9,2911.0 290.0,2910.5 291.0,2910.1 292.1,2909.6 293.1,2909.2 294.2,2908.8 295.3,2908.4 296.3,2908.0 297.4,2907.7 298.4,2907.3 299.5,2907.0 300.5,2906.6 301.6,2906.3 302.6,2906.0 303.7,2905.7 304.8,2905.4 305.8,2905.1 306.9,2904.8 307.9,2904.6 309.0,2904.3 310.0,2904.0 311.1,2903.8 312.1,2903.5 313.2,2903.3 314.2,2903.1 315.3,2902.8 316.4,2902.6 317.4,2902.4 318.5,2902.2 319.5,2901.9 320.6,2901.7 321.6,2901.5 322.7,2901.3 323.7,2901.1 324.8,2900.9 325.9,2900.7 326.9,2900.5 328.0,2900.3 329.0,2900.1 330.1,2899.9 331.1,2899.7 332.2,2899.5 333.2,2899.3 334.3,2899.1 335.3,2898.9 336.4,2898.8 337.5,2898.6 338.5,2898.4 339.6,2898.3 340.6,2898.1 341.7,2897.9 342.7,2897.8 343.8,2897.6 344.8,2897.5 345.9,2897.3 346.9,2897.2 348.0,2897.0 349.1,2896.9 350.1,2896.8 351.2,2896.6 352.2,2896.5 353.3,2896.4 354.3,2896.3 355.4,2896.2 356.4,2896.0 357.5,2895.9 358.6,2895.8 359.6,2895.7 360.7,2895.6 361.7,2895.5 362.8,2895.4 363.8,2895.3 364.9,2895.2 365.9,2895.1 367.0,2895.0 368.0,2894.9 369.1,2894.8 370.2,2894.7 371.2,2894.6 372.3,2894.5 373.3,2894.4 374.4,2894.3 375.4,2894.2 376.5,2894.1 377.5,2894.0 378.6,2893.9 379.7,2893.8 380.7,2893.8 381.8,2893.7 382.8,2893.6 383.9,2893.5 384.9,2893.4 386.0,2893.4 387.0,2893.3 388.1,2893.2 389.1,2893.1 390.2,2893.1 391.3,2893.0 392.3,2892.9 393.4,2892.8 394.4,2892.8 395.5,2892.7 396.5,2892.6 397.6,2892.6 398.6,2892.5 399.7,2892.4 400.8,2892.4 401.8,2892.3 402.9,2892.3 403.9,2892.2 405.0,2892.1 406.0,2892.1 407.1,2892.0 408.1,2892.0 409.2,2891.9 410.2,2891.9 411.3,2891.8 412.4,2891.8 413.4,2891.7 414.5,2891.6 415.5,2891.6 416.6,2891.5 417.6,2891.5 418.7,2891.4 419.7,2891.4 420.8,2891.3 421.9,2891.3 422.9,2891.2 424.0,2891.2 425.0,2891.1 426.1,2891.1 427.1,2891.0 428.2,2891.0 429.2,2890.9 430.3,2890.9 431.3,2890.8 432.4,2890.8 433.5,2890.7 434.5,2890.7 435.6,2890.6 436.6,2890.6 437.7,2890.6 438.7,2890.5 439.8,2890.5 440.8,2890.4 441.9,2890.4 443.0,2890.3 444.0,2890.3 445.1,2890.3 446.1,2890.2 447.2,2890.2 448.2,2890.1 449.3,2890.1 450.3,2890.1 451.4,2890.0 452.4,2890.0 453.5,2890.0 454.6,2889.9 455.6,2889.9 456.7,2889.8 457.7,2889.8 458.8,2889.8 459.8,2889.7 460.9,2889.7 461.9,2889.7 463.0,2889.6 464.1,2889.6 465.1,2889.6 466.2,2889.5 467.2,2889.5 468.3,2889.5 469.3,2889.4 470.4,2889.4 471.4,2889.4 472.5,2889.4 473.5,2889.3 474.6,2889.3 475.7,2889.3 476.7,2889.2 477.8,2889.2 478.8,2889.2 479.9,2889.2 480.9,2889.1 482.0,2889.1 483.0,2889.1 484.1,2889.1 485.2,2889.0 486.2,2889.0 487.3,2889.0 488.3,2889.0 489.4,2888.9 490.4,2888.9 491.5,2888.9 492.5,2888.9 493.6,2888.9 494.6,2888.8 495.7,2888.8 496.8,2888.8 497.8,2888.8 498.9,2888.7 499.9,2888.7 501.0,2888.7 502.0,2888.7 503.1,2888.7 504.1,2888.6 505.2,2888.6 506.3,2888.6 507.3,2888.6 508.4,2888.6 509.4,2888.5 510.5,2888.5 511.5,2888.5 512.6,2888.5 513.6,2888.5 514.7,2888.4 515.8,2888.4 516.8,2888.4 517.9,2888.4 518.9,2888.4 520.0,2888.3 521.0,2888.3 522.1,2888.3 523.1,2888.3 524.2,2888.3 525.2,2888.3 526.3,2888.2 527.4,2888.2 528.4,2888.2 529.5,2888.2 530.5,2888.2 531.6,2888.1 532.6,2888.1 533.7,2888.1 534.7,2888.1 535.8,2888.1 536.8,2888.1 537.9,2888.0 539.0,2888.0 540.0,2888.0 541.1,2888.0 542.1,2888.0 543.2,2888.0 544.2,2887.9 545.3,2887.9 546.3,2887.9 547.4,2887.9 548.5,2887.9 549.5,2887.9 550.6,2887.9 551.6,2887.8 552.7,2887.8 553.7,2887.8 554.8,2887.8 555.8,2887.8 556.9,2887.8 558.0,2887.7 559.0,2887.7 560.1,2887.7 561.1,2887.7 562.2,2887.7 563.2,2887.7 564.3,2887.6 565.3,2887.6 566.4,2887.6 567.4,2887.6 568.5,2887.6 569.6,2887.6 570.6,2887.6 571.7,2887.5 572.7,2887.5 573.8,2887.5 574.8,2887.5 575.9,2887.5 576.9,2887.5 578.0,2887.4 579.0,2887.4 580.1,2887.4 581.2,2887.4 582.2,2887.4 583.3,2887.4 584.3,2887.3 585.4,2887.3 586.4,2887.3 587.5,2887.3 588.5,2887.3 589.6,2887.3 590.7,2887.3 591.7,2887.2 592.8,2887.2 593.8,2887.2 594.9,2887.2 595.9,2887.2 597.0,2887.2 598.0,2887.2 599.1,2887.1 600.1,2887.1 601.2,2887.1 602.3,2887.1 603.3,2887.1 604.4,2887.1 605.4,2887.0 606.5,2887.0 607.5,2887.0 608.6,2887.0 609.6,2887.0 610.7,2887.0 611.8,2887.0 612.8,2886.9 613.9,2886.9 614.9,2886.9 616.0,2886.9 617.0,2886.9 618.1,2886.9 619.1,2886.9 620.2,2886.9 621.2,2886.8 622.3,2886.8 623.4,2886.8 624.4,2886.8 625.5,2886.8 626.5,2886.8 627.6,2886.8 628.6,2886.7 629.7,2886.7 630.7,2886.7 631.8,2886.7 632.9,2886.7 633.9,2886.7 635.0,2886.7 636.0,2886.7 637.1,2886.6 638.1,2886.6 639.2,2886.6 640.2,2886.6 641.3,2886.6 642.3,2886.6 643.4,2886.6 644.5,2886.5 645.5,2886.5 646.6,2886.5 647.6,2886.5 648.7,2886.5 649.7,2886.5 650.8,2886.5 651.8,2886.5 652.9,2886.5 654.0,2886.4 655.0,2886.4 656.1,2886.4 657.1,2886.4 658.2,2886.4 659.2,2886.4 660.3,2886.4 661.3,2886.4 662.4,2886.3 663.4,2886.3 664.5,2886.3 665.6,2886.3 666.6,2886.3 667.7,2886.3 668.7,2886.3 669.8,2886.3 670.8,2886.3 671.9,2886.2 672.9,2886.2 674.0,2886.2" fill="none" stroke="#808080" stroke-width="2.2" stroke-linejoin="round" marker-start="url(#mCirG)" marker-mid="url(#mCirG)" marker-end="url(#mCirG)"/>
<line x1="146.50" y1="3013.05" x2="674.00" y2="3013.05" stroke="#ff0000" stroke-width="6.2"/>
<line x1="144.60" y1="3775.60" x2="144.60" y2="4116.50" stroke="#000" stroke-width="2"/>
<line x1="133.60" y1="4116.50" x2="144.60" y2="4116.50" stroke="#000" stroke-width="2"/>
<line x1="133.60" y1="3946.05" x2="144.60" y2="3946.05" stroke="#000" stroke-width="2"/>
<line x1="133.60" y1="3775.60" x2="144.60" y2="3775.60" stroke="#000" stroke-width="2"/>
<line x1="143.60" y1="4116.50" x2="675.60" y2="4116.50" stroke="#000" stroke-width="2"/>
<line x1="144.60" y1="4116.50" x2="144.60" y2="4125.50" stroke="#000" stroke-width="2"/>
<line x1="250.60" y1="4116.50" x2="250.60" y2="4125.50" stroke="#000" stroke-width="2"/>
<line x1="356.60" y1="4116.50" x2="356.60" y2="4125.50" stroke="#000" stroke-width="2"/>
<line x1="462.60" y1="4116.50" x2="462.60" y2="4125.50" stroke="#000" stroke-width="2"/>
<line x1="568.60" y1="4116.50" x2="568.60" y2="4125.50" stroke="#000" stroke-width="2"/>
<line x1="674.60" y1="4116.50" x2="674.60" y2="4125.50" stroke="#000" stroke-width="2"/>
<text x="68.60" y="4128.36" font-family="'Liberation Sans', Arial, sans-serif" font-size="35.51" textLength="47.40" lengthAdjust="spacingAndGlyphs" fill="#000" stroke="#fff" stroke-width="0.6">0,0</text>
<text x="68.60" y="3957.91" font-family="'Liberation Sans', Arial, sans-serif" font-size="35.51" textLength="47.40" lengthAdjust="spacingAndGlyphs" fill="#000" stroke="#fff" stroke-width="0.6">0,5</text>
<text x="68.60" y="3787.46" font-family="'Liberation Sans', Arial, sans-serif" font-size="35.51" textLength="47.40" lengthAdjust="spacingAndGlyphs" fill="#000" stroke="#fff" stroke-width="0.6">1,0</text>
<text x="135.30" y="4171.56" font-family="'Liberation Sans', Arial, sans-serif" font-size="35.66" textLength="18.64" lengthAdjust="spacingAndGlyphs" fill="#000" stroke="#fff" stroke-width="0.6">0</text>
<text x="222.11" y="4171.56" font-family="'Liberation Sans', Arial, sans-serif" font-size="35.66" textLength="55.92" lengthAdjust="spacingAndGlyphs" fill="#000" stroke="#fff" stroke-width="0.6">100</text>
<text x="328.53" y="4171.56" font-family="'Liberation Sans', Arial, sans-serif" font-size="35.66" textLength="55.92" lengthAdjust="spacingAndGlyphs" fill="#000" stroke="#fff" stroke-width="0.6">200</text>
<text x="434.70" y="4171.56" font-family="'Liberation Sans', Arial, sans-serif" font-size="35.66" textLength="55.92" lengthAdjust="spacingAndGlyphs" fill="#000" stroke="#fff" stroke-width="0.6">300</text>
<text x="540.95" y="4171.56" font-family="'Liberation Sans', Arial, sans-serif" font-size="35.66" textLength="55.92" lengthAdjust="spacingAndGlyphs" fill="#000" stroke="#fff" stroke-width="0.6">400</text>
<text x="646.70" y="4171.56" font-family="'Liberation Sans', Arial, sans-serif" font-size="35.66" textLength="55.92" lengthAdjust="spacingAndGlyphs" fill="#000" stroke="#fff" stroke-width="0.6">500</text>
<text transform="translate(45.66,4024.30) rotate(-90)" x="0" y="0" font-family="'Liberation Sans', Arial, sans-serif" font-size="35.64" textLength="145.08" lengthAdjust="spacingAndGlyphs" fill="#000" stroke="#fff" stroke-width="0.6">ArBr Freq</text>
<text x="313.61" y="4223.46" font-family="'Liberation Sans', Arial, sans-serif" font-size="34.08" textLength="160.77" lengthAdjust="spacingAndGlyphs" fill="#000" stroke="#fff" stroke-width="0.6">generation</text>
<text x="133.80" y="4255.50" font-family="'Liberation Sans', Arial, sans-serif" font-size="28.69" textLength="519.39" lengthAdjust="spacingAndGlyphs" fill="#000">hAr 0,53 - sBtA 0,50 &amp; hBr 0,23 - sBtB 0,93</text>
<text x="330.14" y="4316.10" font-family="'Liberation Serif', 'Times New Roman', serif" font-size="40.61" fill="#000"><tspan font-weight="normal">(</tspan><tspan font-weight="bold">E</tspan><tspan font-weight="normal">)</tspan></text>
<text x="162.94" y="3434.70" font-family="'DejaVu Sans', 'Liberation Sans', sans-serif" font-size="29.32" textLength="145.56" lengthAdjust="spacingAndGlyphs" fill="#000">GF50: 22</text>
<text x="193.54" y="3496.00" font-family="'DejaVu Sans', 'Liberation Sans', sans-serif" font-size="29.46" textLength="145.58" lengthAdjust="spacingAndGlyphs" fill="#000">GF50: 27</text>
<text x="224.75" y="3558.00" font-family="'DejaVu Sans', 'Liberation Sans', sans-serif" font-size="30.41" textLength="144.47" lengthAdjust="spacingAndGlyphs" fill="#000">GF50: 39</text>
<text x="254.26" y="3618.70" font-family="'DejaVu Sans', 'Liberation Sans', sans-serif" font-size="30.00" textLength="144.19" lengthAdjust="spacingAndGlyphs" fill="#000">GF50: 54</text>
<text x="284.94" y="3680.30" font-family="'DejaVu Sans', 'Liberation Sans', sans-serif" font-size="30.14" textLength="145.48" lengthAdjust="spacingAndGlyphs" fill="#000">GF50: 75</text>
<line x1="169.70" y1="3452.50" x2="169.70" y2="3745.60" stroke="#000" stroke-width="4.0" stroke-linecap="round"/>
<polygon points="162.70,3744.60 176.70,3744.60 169.70,3758.60" fill="#000"/>
<line x1="200.30" y1="3512.70" x2="200.30" y2="3745.60" stroke="#000" stroke-width="4.0" stroke-linecap="round"/>
<polygon points="193.30,3744.60 207.30,3744.60 200.30,3758.60" fill="#000"/>
<line x1="231.40" y1="3574.30" x2="231.40" y2="3745.60" stroke="#000" stroke-width="4.0" stroke-linecap="round"/>
<polygon points="224.40,3744.60 238.40,3744.60 231.40,3758.60" fill="#000"/>
<line x1="262.00" y1="3636.00" x2="262.00" y2="3745.60" stroke="#000" stroke-width="4.0" stroke-linecap="round"/>
<polygon points="255.00,3744.60 269.00,3744.60 262.00,3758.60" fill="#000"/>
<line x1="292.00" y1="3696.60" x2="292.00" y2="3745.60" stroke="#000" stroke-width="4.0" stroke-linecap="round"/>
<polygon points="285.00,3744.60 299.00,3744.60 292.00,3758.60" fill="#000"/>
<polyline points="144.6,4117.4 145.7,4117.4 146.7,4117.4 147.8,4117.4 148.8,4117.4 149.9,4117.4 151.0,4117.4 152.0,4115.7 153.1,4111.4 154.1,4105.6 155.2,4098.0 156.3,4085.6 157.3,4070.2 158.4,4053.7 159.4,4038.4 160.5,4024.8 161.6,4011.4 162.6,3998.0 163.7,3984.8 164.7,3971.9 165.8,3959.3 166.9,3947.0 167.9,3934.9 169.0,3922.4 170.0,3910.1 171.1,3898.0 172.2,3886.5 173.2,3876.0 174.3,3866.5 175.3,3858.5 176.4,3851.4 177.5,3844.6 178.5,3838.2 179.6,3832.3 180.6,3826.9 181.7,3822.0 182.8,3817.8 183.8,3814.3 184.9,3811.4 185.9,3808.8 187.0,3806.4 188.1,3804.1 189.1,3801.9 190.2,3800.0 191.2,3798.1 192.3,3796.4 193.4,3794.9 194.4,3793.5 195.5,3792.2 196.5,3791.1 197.6,3790.0 198.7,3789.1 199.7,3788.3 200.8,3787.5 201.8,3786.7 202.9,3786.0 204.0,3785.3 205.0,3784.7 206.1,3784.1 207.1,3783.5 208.2,3783.0 209.3,3782.5 210.3,3782.1 211.4,3781.7 212.4,3781.3 213.5,3781.0 214.6,3780.8 215.6,3780.6 216.7,3780.4 217.7,3780.2 218.8,3780.0 219.9,3779.8 220.9,3779.6 222.0,3779.4 223.0,3779.3 224.1,3779.1 225.2,3779.0 226.2,3778.8 227.3,3778.7 228.3,3778.6 229.4,3778.5 230.5,3778.4 231.5,3778.2 232.6,3778.2 233.6,3778.1 234.7,3778.0 235.8,3777.9 236.8,3777.9 237.9,3777.8 238.9,3777.8 240.0,3777.7 241.1,3777.7 242.1,3777.7 243.2,3777.6 244.2,3777.6 245.3,3777.6 246.4,3777.5 247.4,3777.5 248.5,3777.5 249.5,3777.4 250.6,3777.4 251.7,3777.4 252.7,3777.4 253.8,3777.3 254.8,3777.3 255.9,3777.3 257.0,3777.3 258.0,3777.2 259.1,3777.2 260.1,3777.2 261.2,3777.2 262.3,3777.1 263.3,3777.1 264.4,3777.1 265.4,3777.1 266.5,3777.1 267.6,3777.0 268.6,3777.0 269.7,3777.0 270.7,3777.0 271.8,3777.0 272.9,3776.9 273.9,3776.9 275.0,3776.9 276.0,3776.9 277.1,3776.9 278.2,3776.9 279.2,3776.9 280.3,3776.8 281.3,3776.8 282.4,3776.8 283.5,3776.8 284.5,3776.8 285.6,3776.8 286.6,3776.8 287.7,3776.8 288.8,3776.8 289.8,3776.7 290.9,3776.7 291.9,3776.7 293.0,3776.7 294.1,3776.7 295.1,3776.7 296.2,3776.7 297.2,3776.7 298.3,3776.7 299.4,3776.7 300.4,3776.7 301.5,3776.7 302.5,3776.7 303.6,3776.7 304.7,3776.7 305.7,3776.7 306.8,3776.7 307.8,3776.7 308.9,3776.7 310.0,3776.7 311.0,3776.7 312.1,3776.7 313.1,3776.7 314.2,3776.7 315.3,3776.7 316.3,3776.7 317.4,3776.7 318.4,3776.7 319.5,3776.7 320.6,3776.7 321.6,3776.7 322.7,3776.7 323.7,3776.7 324.8,3776.7 325.9,3776.7 326.9,3776.7 328.0,3776.7 329.0,3776.7 330.1,3776.7 331.2,3776.7 332.2,3776.7 333.3,3776.7 334.3,3776.7 335.4,3776.7 336.5,3776.7 337.5,3776.7 338.6,3776.7 339.6,3776.7 340.7,3776.7 341.8,3776.7 342.8,3776.7 343.9,3776.7 344.9,3776.7 346.0,3776.7 347.1,3776.7 348.1,3776.7 349.2,3776.7 350.2,3776.7 351.3,3776.7 352.4,3776.7 353.4,3776.7 354.5,3776.7 355.5,3776.7 356.6,3776.7 357.7,3776.7 358.7,3776.7 359.8,3776.7 360.8,3776.7 361.9,3776.7 363.0,3776.7 364.0,3776.7 365.1,3776.7 366.1,3776.7 367.2,3776.7 368.3,3776.7 369.3,3776.7 370.4,3776.7 371.4,3776.7 372.5,3776.7 373.6,3776.7 374.6,3776.7 375.7,3776.7 376.7,3776.7 377.8,3776.7 378.9,3776.7 379.9,3776.7 381.0,3776.7 382.0,3776.7 383.1,3776.7 384.2,3776.7 385.2,3776.7 386.3,3776.7 387.3,3776.7 388.4,3776.7 389.5,3776.7 390.5,3776.7 391.6,3776.7 392.6,3776.7 393.7,3776.7 394.8,3776.7 395.8,3776.7 396.9,3776.7 397.9,3776.7 399.0,3776.7 400.1,3776.7 401.1,3776.7 402.2,3776.7 403.2,3776.7 404.3,3776.7 405.4,3776.7 406.4,3776.7 407.5,3776.7 408.5,3776.7 409.6,3776.7 410.7,3776.7 411.7,3776.7 412.8,3776.7 413.8,3776.7 414.9,3776.7 416.0,3776.7 417.0,3776.7 418.1,3776.7 419.1,3776.7 420.2,3776.7 421.3,3776.7 422.3,3776.7 423.4,3776.7 424.4,3776.7 425.5,3776.7 426.6,3776.7 427.6,3776.7 428.7,3776.7 429.7,3776.7 430.8,3776.7 431.9,3776.7 432.9,3776.7 434.0,3776.7 435.0,3776.7 436.1,3776.7 437.2,3776.7 438.2,3776.7 439.3,3776.7 440.3,3776.7 441.4,3776.7 442.5,3776.7 443.5,3776.7 444.6,3776.7 445.6,3776.7 446.7,3776.7 447.8,3776.7 448.8,3776.7 449.9,3776.7 450.9,3776.7 452.0,3776.7 453.1,3776.7 454.1,3776.7 455.2,3776.7 456.2,3776.7 457.3,3776.7 458.4,3776.7 459.4,3776.7 460.5,3776.7 461.5,3776.7 462.6,3776.7 463.7,3776.7 464.7,3776.7 465.8,3776.7 466.8,3776.7 467.9,3776.7 469.0,3776.7 470.0,3776.7 471.1,3776.7 472.1,3776.7 473.2,3776.7 474.3,3776.7 475.3,3776.7 476.4,3776.7 477.4,3776.7 478.5,3776.7 479.6,3776.7 480.6,3776.7 481.7,3776.7 482.7,3776.7 483.8,3776.7 484.9,3776.7 485.9,3776.7 487.0,3776.7 488.0,3776.7 489.1,3776.7 490.2,3776.7 491.2,3776.7 492.3,3776.7 493.3,3776.7 494.4,3776.7 495.5,3776.7 496.5,3776.7 497.6,3776.7 498.6,3776.7 499.7,3776.7 500.8,3776.7 501.8,3776.7 502.9,3776.7 503.9,3776.7 505.0,3776.7 506.1,3776.7 507.1,3776.7 508.2,3776.7 509.2,3776.7 510.3,3776.7 511.4,3776.7 512.4,3776.7 513.5,3776.7 514.5,3776.7 515.6,3776.7 516.7,3776.7 517.7,3776.7 518.8,3776.7 519.8,3776.7 520.9,3776.7 522.0,3776.7 523.0,3776.7 524.1,3776.7 525.1,3776.7 526.2,3776.7 527.3,3776.7 528.3,3776.7 529.4,3776.7 530.4,3776.7 531.5,3776.7 532.6,3776.7 533.6,3776.7 534.7,3776.7 535.7,3776.7 536.8,3776.7 537.9,3776.7 538.9,3776.7 540.0,3776.7 541.0,3776.7 542.1,3776.7 543.2,3776.7 544.2,3776.7 545.3,3776.7 546.3,3776.7 547.4,3776.7 548.5,3776.7 549.5,3776.7 550.6,3776.7 551.6,3776.7 552.7,3776.7 553.8,3776.7 554.8,3776.7 555.9,3776.7 556.9,3776.7 558.0,3776.7 559.1,3776.7 560.1,3776.7 561.2,3776.7 562.2,3776.7 563.3,3776.7 564.4,3776.7 565.4,3776.7 566.5,3776.7 567.5,3776.7 568.6,3776.7 569.7,3776.7 570.7,3776.7 571.8,3776.7 572.8,3776.7 573.9,3776.7 575.0,3776.7 576.0,3776.7 577.1,3776.7 578.1,3776.7 579.2,3776.7 580.3,3776.7 581.3,3776.7 582.4,3776.7 583.4,3776.7 584.5,3776.7 585.6,3776.7 586.6,3776.7 587.7,3776.7 588.7,3776.7 589.8,3776.7 590.9,3776.7 591.9,3776.7 593.0,3776.7 594.0,3776.7 595.1,3776.7 596.2,3776.7 597.2,3776.7 598.3,3776.7 599.3,3776.7 600.4,3776.7 601.5,3776.7 602.5,3776.7 603.6,3776.7 604.6,3776.7 605.7,3776.7 606.8,3776.7 607.8,3776.7 608.9,3776.7 609.9,3776.7 611.0,3776.7 612.1,3776.7 613.1,3776.7 614.2,3776.7 615.2,3776.7 616.3,3776.7 617.4,3776.7 618.4,3776.7 619.5,3776.7 620.5,3776.7 621.6,3776.7 622.7,3776.7 623.7,3776.7 624.8,3776.7 625.8,3776.7 626.9,3776.7 628.0,3776.7 629.0,3776.7 630.1,3776.7 631.1,3776.7 632.2,3776.7 633.3,3776.7 634.3,3776.7 635.4,3776.7 636.4,3776.7 637.5,3776.7 638.6,3776.7 639.6,3776.7 640.7,3776.7 641.7,3776.7 642.8,3776.7 643.9,3776.7 644.9,3776.7 646.0,3776.7 647.0,3776.7 648.1,3776.7 649.2,3776.7 650.2,3776.7 651.3,3776.7 652.3,3776.7 653.4,3776.7 654.5,3776.7 655.5,3776.7 656.6,3776.7 657.6,3776.7 658.7,3776.7 659.8,3776.7 660.8,3776.7 661.9,3776.7 662.9,3776.7 664.0,3776.7 665.1,3776.7 666.1,3776.7 667.2,3776.7 668.2,3776.7 669.3,3776.7 670.4,3776.7 671.4,3776.7 672.5,3776.7 673.5,3776.7 674.6,3776.7" fill="none" stroke="#2dc8ca" stroke-width="2.2" stroke-linejoin="round" marker-start="url(#mSq)" marker-mid="url(#mSq)" marker-end="url(#mSq)"/>
<polyline points="144.6,4117.4 145.7,4117.4 146.7,4117.4 147.8,4117.4 148.8,4117.4 149.9,4117.4 151.0,4117.4 152.0,4117.4 153.1,4117.4 154.1,4117.4 155.2,4117.4 156.3,4117.4 157.3,4117.4 158.4,4117.4 159.4,4117.4 160.5,4115.2 161.6,4109.9 162.6,4103.8 163.7,4097.5 164.7,4090.3 165.8,4082.0 166.9,4072.6 167.9,4061.8 169.0,4049.5 170.0,4035.6 171.1,4013.4 172.2,3983.4 173.2,3956.2 174.3,3940.2 175.3,3927.5 176.4,3916.1 177.5,3905.9 178.5,3896.8 179.6,3888.5 180.6,3881.1 181.7,3874.2 182.8,3867.9 183.8,3861.9 184.9,3856.2 185.9,3850.6 187.0,3845.3 188.1,3840.2 189.1,3835.3 190.2,3830.8 191.2,3826.5 192.3,3822.7 193.4,3819.2 194.4,3816.2 195.5,3813.6 196.5,3811.4 197.6,3809.4 198.7,3807.5 199.7,3805.7 200.8,3804.0 201.8,3802.4 202.9,3800.9 204.0,3799.4 205.0,3798.1 206.1,3796.8 207.1,3795.6 208.2,3794.5 209.3,3793.5 210.3,3792.5 211.4,3791.6 212.4,3790.8 213.5,3790.0 214.6,3789.3 215.6,3788.6 216.7,3788.0 217.7,3787.4 218.8,3786.8 219.9,3786.2 220.9,3785.6 222.0,3785.1 223.0,3784.5 224.1,3784.1 225.2,3783.6 226.2,3783.2 227.3,3782.7 228.3,3782.4 229.4,3782.0 230.5,3781.7 231.5,3781.4 232.6,3781.2 233.6,3781.0 234.7,3780.8 235.8,3780.6 236.8,3780.5 237.9,3780.3 238.9,3780.2 240.0,3780.1 241.1,3779.9 242.1,3779.8 243.2,3779.7 244.2,3779.5 245.3,3779.4 246.4,3779.3 247.4,3779.2 248.5,3779.1 249.5,3779.0 250.6,3778.9 251.7,3778.8 252.7,3778.7 253.8,3778.6 254.8,3778.6 255.9,3778.5 257.0,3778.4 258.0,3778.3 259.1,3778.3 260.1,3778.2 261.2,3778.1 262.3,3778.1 263.3,3778.0 264.4,3778.0 265.4,3777.9 266.5,3777.9 267.6,3777.8 268.6,3777.8 269.7,3777.8 270.7,3777.7 271.8,3777.7 272.9,3777.7 273.9,3777.7 275.0,3777.6 276.0,3777.6 277.1,3777.6 278.2,3777.6 279.2,3777.6 280.3,3777.5 281.3,3777.5 282.4,3777.5 283.5,3777.5 284.5,3777.4 285.6,3777.4 286.6,3777.4 287.7,3777.4 288.8,3777.4 289.8,3777.3 290.9,3777.3 291.9,3777.3 293.0,3777.3 294.1,3777.3 295.1,3777.2 296.2,3777.2 297.2,3777.2 298.3,3777.2 299.4,3777.2 300.4,3777.2 301.5,3777.1 302.5,3777.1 303.6,3777.1 304.7,3777.1 305.7,3777.1 306.8,3777.1 307.8,3777.0 308.9,3777.0 310.0,3777.0 311.0,3777.0 312.1,3777.0 313.1,3777.0 314.2,3777.0 315.3,3777.0 316.3,3776.9 317.4,3776.9 318.4,3776.9 319.5,3776.9 320.6,3776.9 321.6,3776.9 322.7,3776.9 323.7,3776.9 324.8,3776.8 325.9,3776.8 326.9,3776.8 328.0,3776.8 329.0,3776.8 330.1,3776.8 331.2,3776.8 332.2,3776.8 333.3,3776.8 334.3,3776.8 335.4,3776.8 336.5,3776.8 337.5,3776.8 338.6,3776.7 339.6,3776.7 340.7,3776.7 341.8,3776.7 342.8,3776.7 343.9,3776.7 344.9,3776.7 346.0,3776.7 347.1,3776.7 348.1,3776.7 349.2,3776.7 350.2,3776.7 351.3,3776.7 352.4,3776.7 353.4,3776.7 354.5,3776.7 355.5,3776.7 356.6,3776.7 357.7,3776.7 358.7,3776.7 359.8,3776.7 360.8,3776.7 361.9,3776.7 363.0,3776.7 364.0,3776.7 365.1,3776.7 366.1,3776.7 367.2,3776.7 368.3,3776.7 369.3,3776.7 370.4,3776.7 371.4,3776.7 372.5,3776.7 373.6,3776.7 374.6,3776.7 375.7,3776.7 376.7,3776.7 377.8,3776.7 378.9,3776.7 379.9,3776.7 381.0,3776.7 382.0,3776.7 383.1,3776.7 384.2,3776.7 385.2,3776.7 386.3,3776.7 387.3,3776.7 388.4,3776.7 389.5,3776.7 390.5,3776.7 391.6,3776.7 392.6,3776.7 393.7,3776.7 394.8,3776.7 395.8,3776.7 396.9,3776.7 397.9,3776.7 399.0,3776.7 400.1,3776.7 401.1,3776.7 402.2,3776.7 403.2,3776.7 404.3,3776.7 405.4,3776.7 406.4,3776.7 407.5,3776.7 408.5,3776.7 409.6,3776.7 410.7,3776.7 411.7,3776.7 412.8,3776.7 413.8,3776.7 414.9,3776.7 416.0,3776.7 417.0,3776.7 418.1,3776.7 419.1,3776.7 420.2,3776.7 421.3,3776.7 422.3,3776.7 423.4,3776.7 424.4,3776.7 425.5,3776.7 426.6,3776.7 427.6,3776.7 428.7,3776.7 429.7,3776.7 430.8,3776.7 431.9,3776.7 432.9,3776.7 434.0,3776.7 435.0,3776.7 436.1,3776.7 437.2,3776.7 438.2,3776.7 439.3,3776.7 440.3,3776.7 441.4,3776.7 442.5,3776.7 443.5,3776.7 444.6,3776.7 445.6,3776.7 446.7,3776.7 447.8,3776.7 448.8,3776.7 449.9,3776.7 450.9,3776.7 452.0,3776.7 453.1,3776.7 454.1,3776.7 455.2,3776.7 456.2,3776.7 457.3,3776.7 458.4,3776.7 459.4,3776.7 460.5,3776.7 461.5,3776.7 462.6,3776.7 463.7,3776.7 464.7,3776.7 465.8,3776.7 466.8,3776.7 467.9,3776.7 469.0,3776.7 470.0,3776.7 471.1,3776.7 472.1,3776.7 473.2,3776.7 474.3,3776.7 475.3,3776.7 476.4,3776.7 477.4,3776.7 478.5,3776.7 479.6,3776.7 480.6,3776.7 481.7,3776.7 482.7,3776.7 483.8,3776.7 484.9,3776.7 485.9,3776.7 487.0,3776.7 488.0,3776.7 489.1,3776.7 490.2,3776.7 491.2,3776.7 492.3,3776.7 493.3,3776.7 494.4,3776.7 495.5,3776.7 496.5,3776.7 497.6,3776.7 498.6,3776.7 499.7,3776.7 500.8,3776.7 501.8,3776.7 502.9,3776.7 503.9,3776.7 505.0,3776.7 506.1,3776.7 507.1,3776.7 508.2,3776.7 509.2,3776.7 510.3,3776.7 511.4,3776.7 512.4,3776.7 513.5,3776.7 514.5,3776.7 515.6,3776.7 516.7,3776.7 517.7,3776.7 518.8,3776.7 519.8,3776.7 520.9,3776.7 522.0,3776.7 523.0,3776.7 524.1,3776.7 525.1,3776.7 526.2,3776.7 527.3,3776.7 528.3,3776.7 529.4,3776.7 530.4,3776.7 531.5,3776.7 532.6,3776.7 533.6,3776.7 534.7,3776.7 535.7,3776.7 536.8,3776.7 537.9,3776.7 538.9,3776.7 540.0,3776.7 541.0,3776.7 542.1,3776.7 543.2,3776.7 544.2,3776.7 545.3,3776.7 546.3,3776.7 547.4,3776.7 548.5,3776.7 549.5,3776.7 550.6,3776.7 551.6,3776.7 552.7,3776.7 553.8,3776.7 554.8,3776.7 555.9,3776.7 556.9,3776.7 558.0,3776.7 559.1,3776.7 560.1,3776.7 561.2,3776.7 562.2,3776.7 563.3,3776.7 564.4,3776.7 565.4,3776.7 566.5,3776.7 567.5,3776.7 568.6,3776.7 569.7,3776.7 570.7,3776.7 571.8,3776.7 572.8,3776.7 573.9,3776.7 575.0,3776.7 576.0,3776.7 577.1,3776.7 578.1,3776.7 579.2,3776.7 580.3,3776.7 581.3,3776.7 582.4,3776.7 583.4,3776.7 584.5,3776.7 585.6,3776.7 586.6,3776.7 587.7,3776.7 588.7,3776.7 589.8,3776.7 590.9,3776.7 591.9,3776.7 593.0,3776.7 594.0,3776.7 595.1,3776.7 596.2,3776.7 597.2,3776.7 598.3,3776.7 599.3,3776.7 600.4,3776.7 601.5,3776.7 602.5,3776.7 603.6,3776.7 604.6,3776.7 605.7,3776.7 606.8,3776.7 607.8,3776.7 608.9,3776.7 609.9,3776.7 611.0,3776.7 612.1,3776.7 613.1,3776.7 614.2,3776.7 615.2,3776.7 616.3,3776.7 617.4,3776.7 618.4,3776.7 619.5,3776.7 620.5,3776.7 621.6,3776.7 622.7,3776.7 623.7,3776.7 624.8,3776.7 625.8,3776.7 626.9,3776.7 628.0,3776.7 629.0,3776.7 630.1,3776.7 631.1,3776.7 632.2,3776.7 633.3,3776.7 634.3,3776.7 635.4,3776.7 636.4,3776.7 637.5,3776.7 638.6,3776.7 639.6,3776.7 640.7,3776.7 641.7,3776.7 642.8,3776.7 643.9,3776.7 644.9,3776.7 646.0,3776.7 647.0,3776.7 648.1,3776.7 649.2,3776.7 650.2,3776.7 651.3,3776.7 652.3,3776.7 653.4,3776.7 654.5,3776.7 655.5,3776.7 656.6,3776.7 657.6,3776.7 658.7,3776.7 659.8,3776.7 660.8,3776.7 661.9,3776.7 662.9,3776.7 664.0,3776.7 665.1,3776.7 666.1,3776.7 667.2,3776.7 668.2,3776.7 669.3,3776.7 670.4,3776.7 671.4,3776.7 672.5,3776.7 673.5,3776.7 674.6,3776.7" fill="none" stroke="#e8700f" stroke-width="2.2" stroke-linejoin="round" marker-start="url(#mTri)" marker-mid="url(#mTri)" marker-end="url(#mTri)"/>
<polyline points="144.6,4117.4 145.7,4117.4 146.7,4117.4 147.8,4117.4 148.8,4117.4 149.9,4117.4 151.0,4117.4 152.0,4117.4 153.1,4117.4 154.1,4117.4 155.2,4117.4 156.3,4117.4 157.3,4117.4 158.4,4117.4 159.4,4117.4 160.5,4117.4 161.6,4117.4 162.6,4117.4 163.7,4117.4 164.7,4117.4 165.8,4117.4 166.9,4117.4 167.9,4117.4 169.0,4115.8 170.0,4111.7 171.1,4106.4 172.2,4101.0 173.2,4094.4 174.3,4086.6 175.3,4077.8 176.4,4068.1 177.5,4057.8 178.5,4046.9 179.6,4035.6 180.6,4022.7 181.7,4007.4 182.8,3991.0 183.8,3974.7 184.9,3959.6 185.9,3947.0 187.0,3936.3 188.1,3925.8 189.1,3915.8 190.2,3906.2 191.2,3897.2 192.3,3888.7 193.4,3880.8 194.4,3873.6 195.5,3867.2 196.5,3861.5 197.6,3856.6 198.7,3852.0 199.7,3847.5 200.8,3843.3 201.8,3839.3 202.9,3835.5 204.0,3831.9 205.0,3828.5 206.1,3825.4 207.1,3822.5 208.2,3819.9 209.3,3817.5 210.3,3815.5 211.4,3813.7 212.4,3812.2 213.5,3810.8 214.6,3809.5 215.6,3808.2 216.7,3807.0 217.7,3805.8 218.8,3804.7 219.9,3803.6 220.9,3802.6 222.0,3801.6 223.0,3800.6 224.1,3799.7 225.2,3798.8 226.2,3798.0 227.3,3797.1 228.3,3796.4 229.4,3795.6 230.5,3794.9 231.5,3794.3 232.6,3793.6 233.6,3793.0 234.7,3792.5 235.8,3791.9 236.8,3791.4 237.9,3791.0 238.9,3790.5 240.0,3790.1 241.1,3789.7 242.1,3789.3 243.2,3788.9 244.2,3788.6 245.3,3788.3 246.4,3787.9 247.4,3787.6 248.5,3787.3 249.5,3786.9 250.6,3786.6 251.7,3786.3 252.7,3786.0 253.8,3785.8 254.8,3785.5 255.9,3785.2 257.0,3784.9 258.0,3784.7 259.1,3784.4 260.1,3784.2 261.2,3784.0 262.3,3783.7 263.3,3783.5 264.4,3783.3 265.4,3783.1 266.5,3782.9 267.6,3782.7 268.6,3782.5 269.7,3782.3 270.7,3782.2 271.8,3782.0 272.9,3781.9 273.9,3781.7 275.0,3781.6 276.0,3781.4 277.1,3781.3 278.2,3781.2 279.2,3781.1 280.3,3781.0 281.3,3780.9 282.4,3780.8 283.5,3780.7 284.5,3780.6 285.6,3780.5 286.6,3780.5 287.7,3780.4 288.8,3780.3 289.8,3780.2 290.9,3780.1 291.9,3780.1 293.0,3780.0 294.1,3779.9 295.1,3779.8 296.2,3779.8 297.2,3779.7 298.3,3779.6 299.4,3779.6 300.4,3779.5 301.5,3779.4 302.5,3779.4 303.6,3779.3 304.7,3779.2 305.7,3779.2 306.8,3779.1 307.8,3779.0 308.9,3779.0 310.0,3778.9 311.0,3778.9 312.1,3778.8 313.1,3778.8 314.2,3778.7 315.3,3778.6 316.3,3778.6 317.4,3778.5 318.4,3778.5 319.5,3778.4 320.6,3778.4 321.6,3778.4 322.7,3778.3 323.7,3778.3 324.8,3778.2 325.9,3778.2 326.9,3778.1 328.0,3778.1 329.0,3778.1 330.1,3778.0 331.2,3778.0 332.2,3777.9 333.3,3777.9 334.3,3777.9 335.4,3777.8 336.5,3777.8 337.5,3777.8 338.6,3777.7 339.6,3777.7 340.7,3777.7 341.8,3777.7 342.8,3777.6 343.9,3777.6 344.9,3777.6 346.0,3777.6 347.1,3777.5 348.1,3777.5 349.2,3777.5 350.2,3777.5 351.3,3777.5 352.4,3777.4 353.4,3777.4 354.5,3777.4 355.5,3777.4 356.6,3777.4 357.7,3777.4 358.7,3777.4 359.8,3777.3 360.8,3777.3 361.9,3777.3 363.0,3777.3 364.0,3777.3 365.1,3777.3 366.1,3777.3 367.2,3777.3 368.3,3777.2 369.3,3777.2 370.4,3777.2 371.4,3777.2 372.5,3777.2 373.6,3777.2 374.6,3777.2 375.7,3777.2 376.7,3777.2 377.8,3777.2 378.9,3777.1 379.9,3777.1 381.0,3777.1 382.0,3777.1 383.1,3777.1 384.2,3777.1 385.2,3777.1 386.3,3777.1 387.3,3777.1 388.4,3777.1 389.5,3777.0 390.5,3777.0 391.6,3777.0 392.6,3777.0 393.7,3777.0 394.8,3777.0 395.8,3777.0 396.9,3777.0 397.9,3777.0 399.0,3777.0 400.1,3777.0 401.1,3776.9 402.2,3776.9 403.2,3776.9 404.3,3776.9 405.4,3776.9 406.4,3776.9 407.5,3776.9 408.5,3776.9 409.6,3776.9 410.7,3776.9 411.7,3776.9 412.8,3776.9 413.8,3776.9 414.9,3776.9 416.0,3776.8 417.0,3776.8 418.1,3776.8 419.1,3776.8 420.2,3776.8 421.3,3776.8 422.3,3776.8 423.4,3776.8 424.4,3776.8 425.5,3776.8 426.6,3776.8 427.6,3776.8 428.7,3776.8 429.7,3776.8 430.8,3776.8 431.9,3776.8 432.9,3776.8 434.0,3776.8 435.0,3776.8 436.1,3776.7 437.2,3776.7 438.2,3776.7 439.3,3776.7 440.3,3776.7 441.4,3776.7 442.5,3776.7 443.5,3776.7 444.6,3776.7 445.6,3776.7 446.7,3776.7 447.8,3776.7 448.8,3776.7 449.9,3776.7 450.9,3776.7 452.0,3776.7 453.1,3776.7 454.1,3776.7 455.2,3776.7 456.2,3776.7 457.3,3776.7 458.4,3776.7 459.4,3776.7 460.5,3776.7 461.5,3776.7 462.6,3776.7 463.7,3776.7 464.7,3776.7 465.8,3776.7 466.8,3776.7 467.9,3776.7 469.0,3776.7 470.0,3776.7 471.1,3776.7 472.1,3776.7 473.2,3776.7 474.3,3776.7 475.3,3776.7 476.4,3776.7 477.4,3776.7 478.5,3776.7 479.6,3776.7 480.6,3776.7 481.7,3776.7 482.7,3776.7 483.8,3776.7 484.9,3776.7 485.9,3776.7 487.0,3776.7 488.0,3776.7 489.1,3776.7 490.2,3776.7 491.2,3776.7 492.3,3776.7 493.3,3776.7 494.4,3776.7 495.5,3776.7 496.5,3776.7 497.6,3776.7 498.6,3776.7 499.7,3776.7 500.8,3776.7 501.8,3776.7 502.9,3776.7 503.9,3776.7 505.0,3776.7 506.1,3776.7 507.1,3776.7 508.2,3776.7 509.2,3776.7 510.3,3776.7 511.4,3776.7 512.4,3776.7 513.5,3776.7 514.5,3776.7 515.6,3776.7 516.7,3776.7 517.7,3776.7 518.8,3776.7 519.8,3776.7 520.9,3776.7 522.0,3776.7 523.0,3776.7 524.1,3776.7 525.1,3776.7 526.2,3776.7 527.3,3776.7 528.3,3776.7 529.4,3776.7 530.4,3776.7 531.5,3776.7 532.6,3776.7 533.6,3776.7 534.7,3776.7 535.7,3776.7 536.8,3776.7 537.9,3776.7 538.9,3776.7 540.0,3776.7 541.0,3776.7 542.1,3776.7 543.2,3776.7 544.2,3776.7 545.3,3776.7 546.3,3776.7 547.4,3776.7 548.5,3776.7 549.5,3776.7 550.6,3776.7 551.6,3776.7 552.7,3776.7 553.8,3776.7 554.8,3776.7 555.9,3776.7 556.9,3776.7 558.0,3776.7 559.1,3776.7 560.1,3776.7 561.2,3776.7 562.2,3776.7 563.3,3776.7 564.4,3776.7 565.4,3776.7 566.5,3776.7 567.5,3776.7 568.6,3776.7 569.7,3776.7 570.7,3776.7 571.8,3776.7 572.8,3776.7 573.9,3776.7 575.0,3776.7 576.0,3776.7 577.1,3776.7 578.1,3776.7 579.2,3776.7 580.3,3776.7 581.3,3776.7 582.4,3776.7 583.4,3776.7 584.5,3776.7 585.6,3776.7 586.6,3776.7 587.7,3776.7 588.7,3776.7 589.8,3776.7 590.9,3776.7 591.9,3776.7 593.0,3776.7 594.0,3776.7 595.1,3776.7 596.2,3776.7 597.2,3776.7 598.3,3776.7 599.3,3776.7 600.4,3776.7 601.5,3776.7 602.5,3776.7 603.6,3776.7 604.6,3776.7 605.7,3776.7 606.8,3776.7 607.8,3776.7 608.9,3776.7 609.9,3776.7 611.0,3776.7 612.1,3776.7 613.1,3776.7 614.2,3776.7 615.2,3776.7 616.3,3776.7 617.4,3776.7 618.4,3776.7 619.5,3776.7 620.5,3776.7 621.6,3776.7 622.7,3776.7 623.7,3776.7 624.8,3776.7 625.8,3776.7 626.9,3776.7 628.0,3776.7 629.0,3776.7 630.1,3776.7 631.1,3776.7 632.2,3776.7 633.3,3776.7 634.3,3776.7 635.4,3776.7 636.4,3776.7 637.5,3776.7 638.6,3776.7 639.6,3776.7 640.7,3776.7 641.7,3776.7 642.8,3776.7 643.9,3776.7 644.9,3776.7 646.0,3776.7 647.0,3776.7 648.1,3776.7 649.2,3776.7 650.2,3776.7 651.3,3776.7 652.3,3776.7 653.4,3776.7 654.5,3776.7 655.5,3776.7 656.6,3776.7 657.6,3776.7 658.7,3776.7 659.8,3776.7 660.8,3776.7 661.9,3776.7 662.9,3776.7 664.0,3776.7 665.1,3776.7 666.1,3776.7 667.2,3776.7 668.2,3776.7 669.3,3776.7 670.4,3776.7 671.4,3776.7 672.5,3776.7 673.5,3776.7 674.6,3776.7" fill="none" stroke="#5a8ad6" stroke-width="2.2" stroke-linejoin="round" marker-start="url(#mX)" marker-mid="url(#mX)" marker-end="url(#mX)"/>
<polyline points="144.6,4117.4 145.7,4117.4 146.7,4117.4 147.8,4117.4 148.8,4117.4 149.9,4117.4 151.0,4117.4 152.0,4117.4 153.1,4117.4 154.1,4117.4 155.2,4117.4 156.3,4117.4 157.3,4117.4 158.4,4117.4 159.4,4117.4 160.5,4117.4 161.6,4117.4 162.6,4117.4 163.7,4117.4 164.7,4117.4 165.8,4117.4 166.9,4117.4 167.9,4117.4 169.0,4117.4 170.0,4117.4 171.1,4117.4 172.2,4117.4 173.2,4117.4 174.3,4117.4 175.3,4117.4 176.4,4117.4 177.5,4117.4 178.5,4117.4 179.6,4117.4 180.6,4116.6 181.7,4114.8 182.8,4112.3 183.8,4108.6 184.9,4103.3 185.9,4097.0 187.0,4089.1 188.1,4079.4 189.1,4068.4 190.2,4056.9 191.2,4045.7 192.3,4035.6 193.4,4026.5 194.4,4017.6 195.5,4009.0 196.5,4000.5 197.6,3992.2 198.7,3984.0 199.7,3975.9 200.8,3967.7 201.8,3959.5 202.9,3951.2 204.0,3942.8 205.0,3933.8 206.1,3924.6 207.1,3915.3 208.2,3906.4 209.3,3897.9 210.3,3890.2 211.4,3883.6 212.4,3877.8 213.5,3872.4 214.6,3867.4 215.6,3862.7 216.7,3858.4 217.7,3854.4 218.8,3850.9 219.9,3847.7 220.9,3844.7 222.0,3841.8 223.0,3839.2 224.1,3836.7 225.2,3834.3 226.2,3832.1 227.3,3830.1 228.3,3828.2 229.4,3826.4 230.5,3824.8 231.5,3823.2 232.6,3821.7 233.6,3820.2 234.7,3818.8 235.8,3817.4 236.8,3816.0 237.9,3814.8 238.9,3813.5 240.0,3812.4 241.1,3811.2 242.1,3810.2 243.2,3809.1 244.2,3808.2 245.3,3807.3 246.4,3806.5 247.4,3805.7 248.5,3805.0 249.5,3804.3 250.6,3803.7 251.7,3803.1 252.7,3802.5 253.8,3801.9 254.8,3801.4 255.9,3800.9 257.0,3800.4 258.0,3799.9 259.1,3799.4 260.1,3799.0 261.2,3798.6 262.3,3798.2 263.3,3797.8 264.4,3797.4 265.4,3797.0 266.5,3796.6 267.6,3796.3 268.6,3795.9 269.7,3795.6 270.7,3795.2 271.8,3794.9 272.9,3794.5 273.9,3794.2 275.0,3793.9 276.0,3793.5 277.1,3793.2 278.2,3792.9 279.2,3792.6 280.3,3792.3 281.3,3792.0 282.4,3791.7 283.5,3791.4 284.5,3791.1 285.6,3790.8 286.6,3790.5 287.7,3790.3 288.8,3790.0 289.8,3789.7 290.9,3789.5 291.9,3789.2 293.0,3789.0 294.1,3788.8 295.1,3788.5 296.2,3788.3 297.2,3788.1 298.3,3787.9 299.4,3787.7 300.4,3787.5 301.5,3787.3 302.5,3787.1 303.6,3786.9 304.7,3786.7 305.7,3786.6 306.8,3786.4 307.8,3786.2 308.9,3786.1 310.0,3785.9 311.0,3785.8 312.1,3785.6 313.1,3785.4 314.2,3785.3 315.3,3785.1 316.3,3785.0 317.4,3784.8 318.4,3784.7 319.5,3784.5 320.6,3784.4 321.6,3784.2 322.7,3784.1 323.7,3784.0 324.8,3783.8 325.9,3783.7 326.9,3783.6 328.0,3783.4 329.0,3783.3 330.1,3783.2 331.2,3783.1 332.2,3782.9 333.3,3782.8 334.3,3782.7 335.4,3782.6 336.5,3782.5 337.5,3782.4 338.6,3782.3 339.6,3782.2 340.7,3782.1 341.8,3782.0 342.8,3781.9 343.9,3781.8 344.9,3781.7 346.0,3781.6 347.1,3781.5 348.1,3781.4 349.2,3781.3 350.2,3781.2 351.3,3781.2 352.4,3781.1 353.4,3781.0 354.5,3780.9 355.5,3780.9 356.6,3780.8 357.7,3780.7 358.7,3780.7 359.8,3780.6 360.8,3780.5 361.9,3780.5 363.0,3780.4 364.0,3780.3 365.1,3780.3 366.1,3780.2 367.2,3780.2 368.3,3780.1 369.3,3780.0 370.4,3780.0 371.4,3779.9 372.5,3779.9 373.6,3779.8 374.6,3779.8 375.7,3779.7 376.7,3779.6 377.8,3779.6 378.9,3779.5 379.9,3779.5 381.0,3779.4 382.0,3779.4 383.1,3779.3 384.2,3779.3 385.2,3779.2 386.3,3779.2 387.3,3779.1 388.4,3779.1 389.5,3779.1 390.5,3779.0 391.6,3779.0 392.6,3778.9 393.7,3778.9 394.8,3778.8 395.8,3778.8 396.9,3778.8 397.9,3778.7 399.0,3778.7 400.1,3778.6 401.1,3778.6 402.2,3778.6 403.2,3778.5 404.3,3778.5 405.4,3778.5 406.4,3778.4 407.5,3778.4 408.5,3778.4 409.6,3778.3 410.7,3778.3 411.7,3778.3 412.8,3778.2 413.8,3778.2 414.9,3778.2 416.0,3778.2 417.0,3778.1 418.1,3778.1 419.1,3778.1 420.2,3778.1 421.3,3778.0 422.3,3778.0 423.4,3778.0 424.4,3778.0 425.5,3777.9 426.6,3777.9 427.6,3777.9 428.7,3777.9 429.7,3777.9 430.8,3777.8 431.9,3777.8 432.9,3777.8 434.0,3777.8 435.0,3777.7 436.1,3777.7 437.2,3777.7 438.2,3777.7 439.3,3777.7 440.3,3777.6 441.4,3777.6 442.5,3777.6 443.5,3777.6 444.6,3777.5 445.6,3777.5 446.7,3777.5 447.8,3777.5 448.8,3777.5 449.9,3777.4 450.9,3777.4 452.0,3777.4 453.1,3777.4 454.1,3777.4 455.2,3777.3 456.2,3777.3 457.3,3777.3 458.4,3777.3 459.4,3777.3 460.5,3777.2 461.5,3777.2 462.6,3777.2 463.7,3777.2 464.7,3777.2 465.8,3777.2 466.8,3777.1 467.9,3777.1 469.0,3777.1 470.0,3777.1 471.1,3777.1 472.1,3777.1 473.2,3777.0 474.3,3777.0 475.3,3777.0 476.4,3777.0 477.4,3777.0 478.5,3777.0 479.6,3776.9 480.6,3776.9 481.7,3776.9 482.7,3776.9 483.8,3776.9 484.9,3776.9 485.9,3776.9 487.0,3776.9 488.0,3776.8 489.1,3776.8 490.2,3776.8 491.2,3776.8 492.3,3776.8 493.3,3776.8 494.4,3776.8 495.5,3776.8 496.5,3776.8 497.6,3776.8 498.6,3776.8 499.7,3776.8 500.8,3776.7 501.8,3776.7 502.9,3776.7 503.9,3776.7 505.0,3776.7 506.1,3776.7 507.1,3776.7 508.2,3776.7 509.2,3776.7 510.3,3776.7 511.4,3776.7 512.4,3776.7 513.5,3776.7 514.5,3776.7 515.6,3776.7 516.7,3776.7 517.7,3776.7 518.8,3776.7 519.8,3776.7 520.9,3776.7 522.0,3776.7 523.0,3776.7 524.1,3776.7 525.1,3776.7 526.2,3776.7 527.3,3776.7 528.3,3776.7 529.4,3776.7 530.4,3776.7 531.5,3776.7 532.6,3776.7 533.6,3776.7 534.7,3776.7 535.7,3776.7 536.8,3776.7 537.9,3776.7 538.9,3776.7 540.0,3776.7 541.0,3776.7 542.1,3776.7 543.2,3776.7 544.2,3776.7 545.3,3776.7 546.3,3776.7 547.4,3776.7 548.5,3776.7 549.5,3776.7 550.6,3776.7 551.6,3776.7 552.7,3776.7 553.8,3776.7 554.8,3776.7 555.9,3776.7 556.9,3776.7 558.0,3776.7 559.1,3776.7 560.1,3776.7 561.2,3776.7 562.2,3776.7 563.3,3776.7 564.4,3776.7 565.4,3776.7 566.5,3776.7 567.5,3776.7 568.6,3776.7 569.7,3776.7 570.7,3776.7 571.8,3776.7 572.8,3776.7 573.9,3776.7 575.0,3776.7 576.0,3776.7 577.1,3776.7 578.1,3776.7 579.2,3776.7 580.3,3776.7 581.3,3776.7 582.4,3776.7 583.4,3776.7 584.5,3776.7 585.6,3776.7 586.6,3776.7 587.7,3776.7 588.7,3776.7 589.8,3776.7 590.9,3776.7 591.9,3776.7 593.0,3776.7 594.0,3776.7 595.1,3776.7 596.2,3776.7 597.2,3776.7 598.3,3776.7 599.3,3776.7 600.4,3776.7 601.5,3776.7 602.5,3776.7 603.6,3776.7 604.6,3776.7 605.7,3776.7 606.8,3776.7 607.8,3776.7 608.9,3776.7 609.9,3776.7 611.0,3776.7 612.1,3776.7 613.1,3776.7 614.2,3776.7 615.2,3776.7 616.3,3776.7 617.4,3776.7 618.4,3776.7 619.5,3776.7 620.5,3776.7 621.6,3776.7 622.7,3776.7 623.7,3776.7 624.8,3776.7 625.8,3776.7 626.9,3776.7 628.0,3776.7 629.0,3776.7 630.1,3776.7 631.1,3776.7 632.2,3776.7 633.3,3776.7 634.3,3776.7 635.4,3776.7 636.4,3776.7 637.5,3776.7 638.6,3776.7 639.6,3776.7 640.7,3776.7 641.7,3776.7 642.8,3776.7 643.9,3776.7 644.9,3776.7 646.0,3776.7 647.0,3776.7 648.1,3776.7 649.2,3776.7 650.2,3776.7 651.3,3776.7 652.3,3776.7 653.4,3776.7 654.5,3776.7 655.5,3776.7 656.6,3776.7 657.6,3776.7 658.7,3776.7 659.8,3776.7 660.8,3776.7 661.9,3776.7 662.9,3776.7 664.0,3776.7 665.1,3776.7 666.1,3776.7 667.2,3776.7 668.2,3776.7 669.3,3776.7 670.4,3776.7 671.4,3776.7 672.5,3776.7 673.5,3776.7 674.6,3776.7" fill="none" stroke="#00b050" stroke-width="2.2" stroke-linejoin="round" marker-start="url(#mCir)" marker-mid="url(#mCir)" marker-end="url(#mCir)"/>
<polyline points="144.6,4117.4 145.7,4117.4 146.7,4117.4 147.8,4117.4 148.8,4117.4 149.9,4117.4 151.0,4117.4 152.0,4117.4 153.1,4117.4 154.1,4117.4 155.2,4117.4 156.3,4117.4 157.3,4117.4 158.4,4117.4 159.4,4117.4 160.5,4117.4 161.6,4117.4 162.6,4117.4 163.7,4117.4 164.7,4117.4 165.8,4117.4 166.9,4117.4 167.9,4117.4 169.0,4117.4 170.0,4117.4 171.1,4117.4 172.2,4117.4 173.2,4117.4 174.3,4117.4 175.3,4117.4 176.4,4117.4 177.5,4117.4 178.5,4117.4 179.6,4117.4 180.6,4117.4 181.7,4117.4 182.8,4117.4 183.8,4117.4 184.9,4117.4 185.9,4117.4 187.0,4117.4 188.1,4117.4 189.1,4117.4 190.2,4117.4 191.2,4117.4 192.3,4117.4 193.4,4117.4 194.4,4117.4 195.5,4117.4 196.5,4117.4 197.6,4117.0 198.7,4116.0 199.7,4114.7 200.8,4112.9 201.8,4110.3 202.9,4107.2 204.0,4102.8 205.0,4097.8 206.1,4092.2 207.1,4086.0 208.2,4079.5 209.3,4073.0 210.3,4066.5 211.4,4060.0 212.4,4053.5 213.5,4046.8 214.6,4040.0 215.6,4033.1 216.7,4025.9 217.7,4018.5 218.8,4010.9 219.9,4002.7 220.9,3993.9 222.0,3984.7 223.0,3975.3 224.1,3965.9 225.2,3956.7 226.2,3947.9 227.3,3939.4 228.3,3930.8 229.4,3922.1 230.5,3913.8 231.5,3906.1 232.6,3899.3 233.6,3893.5 234.7,3888.4 235.8,3883.6 236.8,3879.1 237.9,3874.9 238.9,3871.1 240.0,3867.5 241.1,3864.3 242.1,3861.5 243.2,3858.9 244.2,3856.5 245.3,3854.3 246.4,3852.1 247.4,3850.1 248.5,3848.2 249.5,3846.4 250.6,3844.7 251.7,3843.1 252.7,3841.6 253.8,3840.2 254.8,3838.9 255.9,3837.6 257.0,3836.4 258.0,3835.3 259.1,3834.1 260.1,3833.1 261.2,3832.0 262.3,3831.0 263.3,3830.0 264.4,3829.1 265.4,3828.2 266.5,3827.3 267.6,3826.5 268.6,3825.7 269.7,3824.9 270.7,3824.2 271.8,3823.5 272.9,3822.8 273.9,3822.2 275.0,3821.6 276.0,3821.0 277.1,3820.4 278.2,3819.9 279.2,3819.4 280.3,3818.9 281.3,3818.4 282.4,3817.9 283.5,3817.4 284.5,3817.0 285.6,3816.5 286.6,3816.1 287.7,3815.7 288.8,3815.3 289.8,3814.9 290.9,3814.5 291.9,3814.1 293.0,3813.8 294.1,3813.4 295.1,3813.1 296.2,3812.8 297.2,3812.4 298.3,3812.1 299.4,3811.8 300.4,3811.6 301.5,3811.3 302.5,3811.0 303.6,3810.8 304.7,3810.5 305.7,3810.3 306.8,3810.0 307.8,3809.8 308.9,3809.6 310.0,3809.4 311.0,3809.2 312.1,3808.9 313.1,3808.7 314.2,3808.5 315.3,3808.3 316.3,3808.1 317.4,3808.0 318.4,3807.8 319.5,3807.6 320.6,3807.4 321.6,3807.2 322.7,3807.1 323.7,3806.9 324.8,3806.7 325.9,3806.6 326.9,3806.4 328.0,3806.3 329.0,3806.1 330.1,3806.0 331.2,3805.8 332.2,3805.7 333.3,3805.6 334.3,3805.4 335.4,3805.3 336.5,3805.2 337.5,3805.0 338.6,3804.9 339.6,3804.8 340.7,3804.7 341.8,3804.5 342.8,3804.4 343.9,3804.3 344.9,3804.2 346.0,3804.1 347.1,3804.0 348.1,3803.8 349.2,3803.7 350.2,3803.6 351.3,3803.5 352.4,3803.4 353.4,3803.3 354.5,3803.2 355.5,3803.1 356.6,3803.0 357.7,3802.9 358.7,3802.8 359.8,3802.7 360.8,3802.6 361.9,3802.5 363.0,3802.4 364.0,3802.3 365.1,3802.2 366.1,3802.1 367.2,3802.0 368.3,3801.9 369.3,3801.8 370.4,3801.8 371.4,3801.7 372.5,3801.6 373.6,3801.5 374.6,3801.4 375.7,3801.3 376.7,3801.3 377.8,3801.2 378.9,3801.1 379.9,3801.1 381.0,3801.0 382.0,3800.9 383.1,3800.9 384.2,3800.8 385.2,3800.7 386.3,3800.7 387.3,3800.6 388.4,3800.5 389.5,3800.5 390.5,3800.4 391.6,3800.4 392.6,3800.3 393.7,3800.3 394.8,3800.2 395.8,3800.2 396.9,3800.1 397.9,3800.1 399.0,3800.0 400.1,3800.0 401.1,3799.9 402.2,3799.9 403.2,3799.8 404.3,3799.8 405.4,3799.7 406.4,3799.7 407.5,3799.6 408.5,3799.6 409.6,3799.5 410.7,3799.5 411.7,3799.4 412.8,3799.4 413.8,3799.4 414.9,3799.3 416.0,3799.3 417.0,3799.2 418.1,3799.2 419.1,3799.1 420.2,3799.1 421.3,3799.1 422.3,3799.0 423.4,3799.0 424.4,3798.9 425.5,3798.9 426.6,3798.9 427.6,3798.8 428.7,3798.8 429.7,3798.8 430.8,3798.7 431.9,3798.7 432.9,3798.6 434.0,3798.6 435.0,3798.6 436.1,3798.5 437.2,3798.5 438.2,3798.5 439.3,3798.4 440.3,3798.4 441.4,3798.4 442.5,3798.3 443.5,3798.3 444.6,3798.3 445.6,3798.3 446.7,3798.2 447.8,3798.2 448.8,3798.2 449.9,3798.1 450.9,3798.1 452.0,3798.1 453.1,3798.1 454.1,3798.0 455.2,3798.0 456.2,3798.0 457.3,3797.9 458.4,3797.9 459.4,3797.9 460.5,3797.9 461.5,3797.8 462.6,3797.8 463.7,3797.8 464.7,3797.8 465.8,3797.8 466.8,3797.7 467.9,3797.7 469.0,3797.7 470.0,3797.7 471.1,3797.6 472.1,3797.6 473.2,3797.6 474.3,3797.6 475.3,3797.5 476.4,3797.5 477.4,3797.5 478.5,3797.5 479.6,3797.5 480.6,3797.4 481.7,3797.4 482.7,3797.4 483.8,3797.4 484.9,3797.4 485.9,3797.3 487.0,3797.3 488.0,3797.3 489.1,3797.3 490.2,3797.3 491.2,3797.2 492.3,3797.2 493.3,3797.2 494.4,3797.2 495.5,3797.2 496.5,3797.2 497.6,3797.1 498.6,3797.1 499.7,3797.1 500.8,3797.1 501.8,3797.1 502.9,3797.1 503.9,3797.0 505.0,3797.0 506.1,3797.0 507.1,3797.0 508.2,3797.0 509.2,3797.0 510.3,3796.9 511.4,3796.9 512.4,3796.9 513.5,3796.9 514.5,3796.9 515.6,3796.9 516.7,3796.8 517.7,3796.8 518.8,3796.8 519.8,3796.8 520.9,3796.8 522.0,3796.8 523.0,3796.7 524.1,3796.7 525.1,3796.7 526.2,3796.7 527.3,3796.7 528.3,3796.7 529.4,3796.7 530.4,3796.6 531.5,3796.6 532.6,3796.6 533.6,3796.6 534.7,3796.6 535.7,3796.6 536.8,3796.6 537.9,3796.5 538.9,3796.5 540.0,3796.5 541.0,3796.5 542.1,3796.5 543.2,3796.5 544.2,3796.5 545.3,3796.4 546.3,3796.4 547.4,3796.4 548.5,3796.4 549.5,3796.4 550.6,3796.4 551.6,3796.4 552.7,3796.3 553.8,3796.3 554.8,3796.3 555.9,3796.3 556.9,3796.3 558.0,3796.3 559.1,3796.3 560.1,3796.2 561.2,3796.2 562.2,3796.2 563.3,3796.2 564.4,3796.2 565.4,3796.2 566.5,3796.2 567.5,3796.1 568.6,3796.1 569.7,3796.1 570.7,3796.1 571.8,3796.1 572.8,3796.1 573.9,3796.0 575.0,3796.0 576.0,3796.0 577.1,3796.0 578.1,3796.0 579.2,3796.0 580.3,3796.0 581.3,3795.9 582.4,3795.9 583.4,3795.9 584.5,3795.9 585.6,3795.9 586.6,3795.9 587.7,3795.9 588.7,3795.8 589.8,3795.8 590.9,3795.8 591.9,3795.8 593.0,3795.8 594.0,3795.8 595.1,3795.7 596.2,3795.7 597.2,3795.7 598.3,3795.7 599.3,3795.7 600.4,3795.7 601.5,3795.7 602.5,3795.6 603.6,3795.6 604.6,3795.6 605.7,3795.6 606.8,3795.6 607.8,3795.6 608.9,3795.6 609.9,3795.6 611.0,3795.5 612.1,3795.5 613.1,3795.5 614.2,3795.5 615.2,3795.5 616.3,3795.5 617.4,3795.5 618.4,3795.4 619.5,3795.4 620.5,3795.4 621.6,3795.4 622.7,3795.4 623.7,3795.4 624.8,3795.4 625.8,3795.3 626.9,3795.3 628.0,3795.3 629.0,3795.3 630.1,3795.3 631.1,3795.3 632.2,3795.3 633.3,3795.2 634.3,3795.2 635.4,3795.2 636.4,3795.2 637.5,3795.2 638.6,3795.2 639.6,3795.2 640.7,3795.2 641.7,3795.1 642.8,3795.1 643.9,3795.1 644.9,3795.1 646.0,3795.1 647.0,3795.1 648.1,3795.1 649.2,3795.1 650.2,3795.0 651.3,3795.0 652.3,3795.0 653.4,3795.0 654.5,3795.0 655.5,3795.0 656.6,3795.0 657.6,3795.0 658.7,3794.9 659.8,3794.9 660.8,3794.9 661.9,3794.9 662.9,3794.9 664.0,3794.9 665.1,3794.9 666.1,3794.9 667.2,3794.8 668.2,3794.8 669.3,3794.8 670.4,3794.8 671.4,3794.8 672.5,3794.8 673.5,3794.8 674.6,3794.8" fill="none" stroke="#808080" stroke-width="2.2" stroke-linejoin="round" marker-start="url(#mCirG)" marker-mid="url(#mCirG)" marker-end="url(#mCirG)"/>
<line x1="144.60" y1="3946.45" x2="674.60" y2="3946.45" stroke="#ff0000" stroke-width="6.2"/>
</svg>
</body></html>
